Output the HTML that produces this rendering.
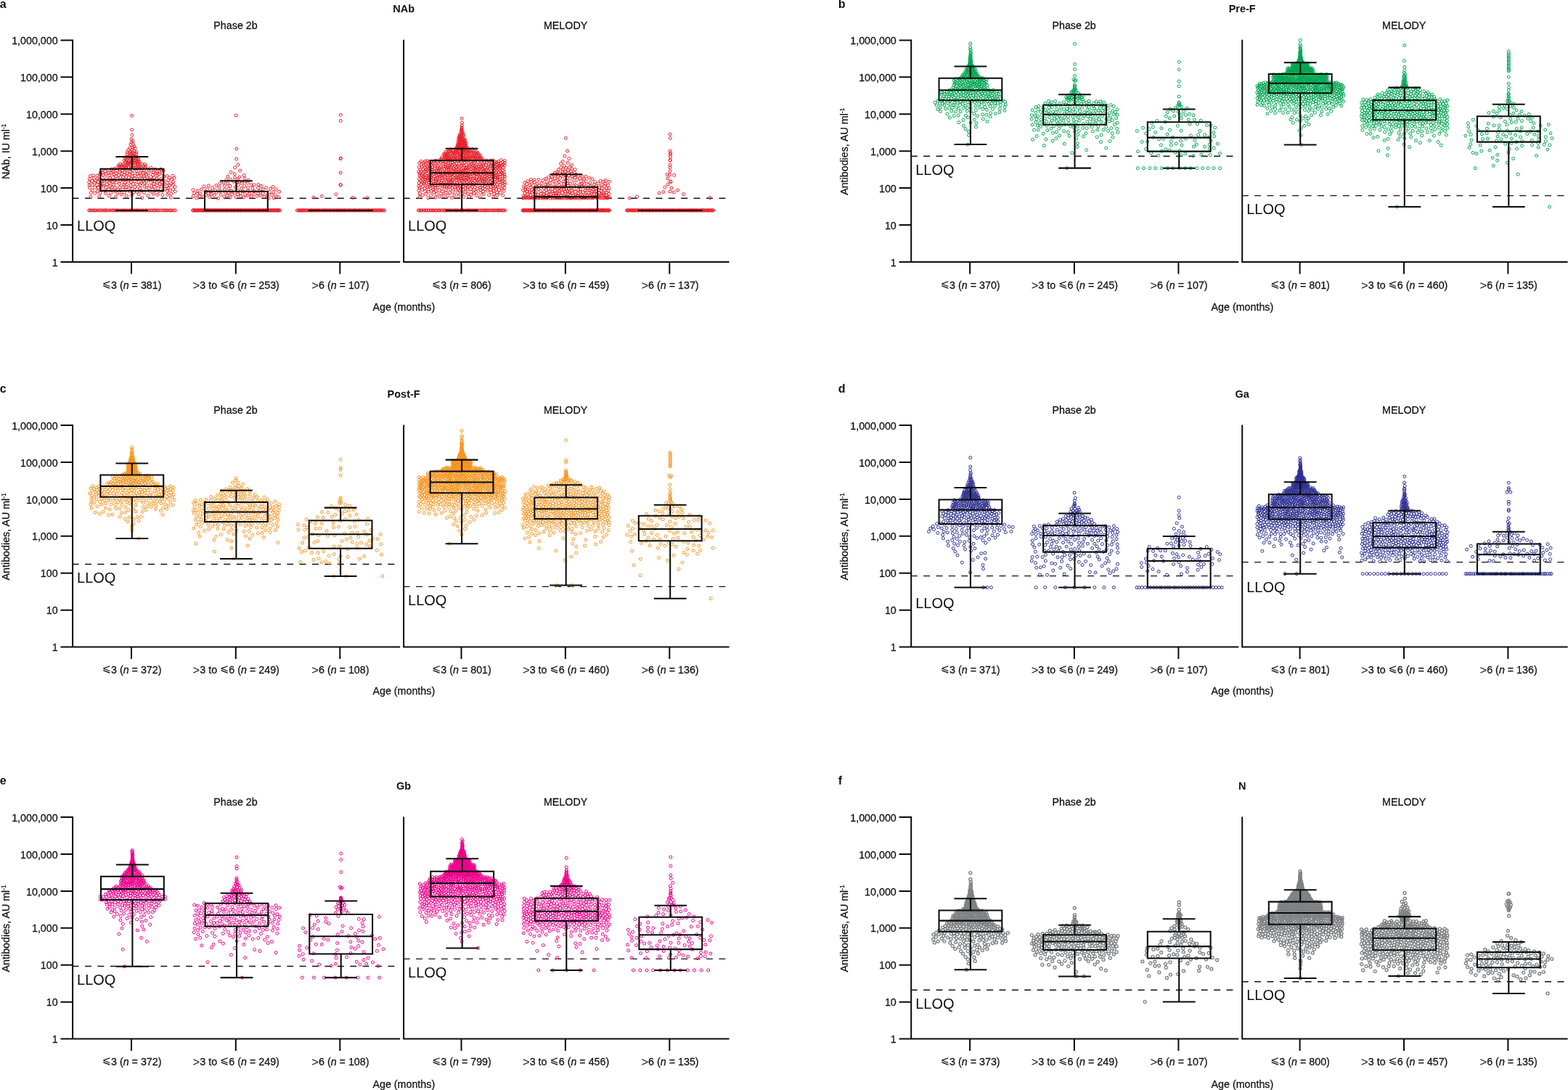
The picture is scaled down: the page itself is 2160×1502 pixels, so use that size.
<!DOCTYPE html>
<html lang="en">
<head>
<meta charset="utf-8">
<title>Antibody levels by age group: Phase 2b and MELODY</title>
<style>
html,body{margin:0;padding:0;background:#fff}
body{width:2160px;height:1502px;overflow:hidden}
svg{display:block}
text{font-family:"Liberation Sans","DejaVu Sans",sans-serif;font-size:14.3px;fill:#111;stroke:#111;stroke-width:.25px}
.ax{stroke:#0a0a0a;stroke-width:2.0;fill:none}
.bx{stroke:#0a0a0a;stroke-width:2.05;fill:none}
.dl{stroke:#111;stroke-width:1.4;stroke-dasharray:9 8.39;fill:none}
.p{fill:none;stroke:none}
.le{font-family:"DejaVu Sans","Liberation Sans",sans-serif;font-size:14.6px;stroke:none}
.gt{font-size:16.6px;stroke:none}
.su{font-size:8.3px}
.b{stroke:none}
</style>
</head>
<body>
<svg xmlns="http://www.w3.org/2000/svg" width="2160" height="1502" viewBox="0 0 2160 1502">
<rect width="2160" height="1502" fill="#fff"/>
<defs>
<marker id="ma" markerUnits="userSpaceOnUse" markerWidth="7" markerHeight="7" refX="3.5" refY="3.5"><circle cx="3.5" cy="3.5" r="2.0" fill="none" stroke="#e8202a" stroke-width="1.0"/></marker>
<marker id="mb" markerUnits="userSpaceOnUse" markerWidth="7" markerHeight="7" refX="3.5" refY="3.5"><circle cx="3.5" cy="3.5" r="2.0" fill="none" stroke="#00a651" stroke-width="1.0"/></marker>
<marker id="mc" markerUnits="userSpaceOnUse" markerWidth="7" markerHeight="7" refX="3.5" refY="3.5"><circle cx="3.5" cy="3.5" r="2.0" fill="none" stroke="#f7941d" stroke-width="1.0"/></marker>
<marker id="md" markerUnits="userSpaceOnUse" markerWidth="7" markerHeight="7" refX="3.5" refY="3.5"><circle cx="3.5" cy="3.5" r="2.0" fill="none" stroke="#2e3192" stroke-width="1.0"/></marker>
<marker id="me" markerUnits="userSpaceOnUse" markerWidth="7" markerHeight="7" refX="3.5" refY="3.5"><circle cx="3.5" cy="3.5" r="2.0" fill="none" stroke="#ec008c" stroke-width="1.0"/></marker>
<marker id="mf" markerUnits="userSpaceOnUse" markerWidth="7" markerHeight="7" refX="3.5" refY="3.5"><circle cx="3.5" cy="3.5" r="2.0" fill="none" stroke="#808285" stroke-width="1.4"/></marker>
</defs>
<g id="panel-a">
<text transform="translate(-0.3 10.6)" style="font-weight:bold;font-size:16px" class="b">a</text>
<text transform="translate(556.1 17.1) scale(1 1.045)" text-anchor="middle" style="font-weight:bold;font-size:14.5px" class="b">NAb</text>
<text transform="translate(324.5 39.7) scale(1 1.045)" text-anchor="middle">Phase 2b</text>
<text transform="translate(779.1 39.7) scale(1 1.045)" text-anchor="middle">MELODY</text>
<text transform="translate(12.9 208.8) rotate(-90) scale(1 1.045)" text-anchor="middle">NAb, IU ml<tspan class="su" dy="-4.8">-1</tspan></text>
<path class="dl" d="M99.6 273.3H551.1"/>
<text transform="translate(106.1 318) scale(1 1.045)" style="font-size:20px" class="b">LLOQ</text>
<path class="dl" d="M555.6 273.3H1002.1"/>
<text transform="translate(562.1 318) scale(1 1.045)" style="font-size:20px" class="b">LLOQ</text>
<polyline class="p" marker-start="url(#ma)" marker-mid="url(#ma)" marker-end="url(#ma)" points="193,259.6 216.4,251.2 133.7,254.5 211.2,237.7 174.1,258 182.5,260.1 223.7,289.9 238.4,260.8 157.8,263.2 173.7,289.9 171.4,265.3 150.7,241.3 191.7,289.9 230.3,242.5 180.5,222.6 214.3,239 187.5,230.1 223.7,238.4 181.8,268.7 182.9,220.3 177.5,222.2 194.6,241.2 142.4,256 182,186 208,289.9 203.8,269.6 131.7,289.9 169.7,247.6 189.5,239.3 171,231.9 189.3,228.3 221.7,246.6 230.9,268.4 240.1,245.3 165.9,248.9 195.1,246.3 186.2,289.9 217.1,289.9 156.9,240 153.5,238.1 126.9,249.3 151.3,245.5 182.5,210 199.8,230.8 143.7,248.8 169.8,289.9 185,201.7 237.1,289.9 165.8,244.4 147.5,289.9 171.3,241 179.3,233 156.3,254.4 219,263.6 176.4,218.4 128.4,241.8 140.2,244.4 124.4,242.5 182.2,242.8 163.2,228.2 168.9,234.9 193.5,255.3 185.7,242.1 188,236.1 191.3,224.4 231.8,259 188.1,289.9 230.9,289.9 190,217.5 145.6,266.5 157.6,248.3 186,204.4 235.6,253.1 171.7,289.9 195.6,272.6 216.7,268.3 187.2,215.5 174.4,270.2 233.6,289.9 212.3,257.1 235.3,272 178.9,204 174.8,223.2 154.1,258.1 157.8,289.9 140.3,234 218.9,289.9 181.7,218.4 200.6,228.7 209.9,261.1 138,265.9 209.9,248.1 178.4,210.9 178.6,214.1 141.8,253.7 160.3,251.5 193.1,289.9 172,237.8 177.7,226.5 194.6,235 182,289.9 135.2,258.6 185.6,249.6 180.9,212.1 176.7,224.2 199.6,245.9 193.4,238.5 227.8,289.9 124,289.9 190.4,222.6 241.2,263.8 183.7,216.7 187.6,212.3 150.3,270 181.2,196.2 149.5,238.2 125.2,265.8 136.7,270.9 181.2,230.6 135,250.6 187.9,209.5 154.5,289.9 183,234.3 188.8,254.5 191.3,230 193.7,229.6 235.9,267 188.5,222.9 239.4,289.9 130.7,266.2 189.3,289.9 178.8,216.8 208.3,235 142.2,241.1 145.9,258.4 130.1,289.9 133.9,242.1 127.3,262.1 167.5,239.4 199,256.9 219.1,249.1 192.2,227.2 234.8,289.9 180,255.6 177.1,230.4 165.2,233.7 196.4,232.1 182.4,225.4 128.1,289.9 180.6,245.9 203.6,289.9 179.8,219.6 217.8,259.4 205,259.4 169.5,230.3 159.3,271.5 158,232.4 176.8,206.5 154.9,250.5 222.2,257.2 123.4,246.7 240.9,257.6 180,228.2 201.3,289.9 162.6,261.6 154.3,262 144.9,236.3 207.6,243.8 174.9,228.4 230.6,263.5 188.5,260.5 191.1,242.9 238.2,242.3 152.3,289.9 182.8,214 145.7,289.9 175.4,289.9 212,289.9 189.3,246.8 183.3,253.5 221.4,233.2 181.2,191.6 213.8,262.5 188.7,264.3 179.9,199.3 185.9,227.7 182.9,203.5 137,247.5 167.7,227.7 210.7,240.8 161.7,289.9 147.2,254 138.6,256.3 127.5,254.6 161.8,266.5 190.6,219.6 134.7,245.9 178.2,289.9 201.8,240.5 223.8,268.7 144.4,289.9 208.6,256.4 178.8,263.8 198.4,234.9 162.7,230.4 130.7,258 175.4,212.7 195.8,226.3 134.2,263.1 197.3,238.9 146.3,245.3 124.8,271.4 155.9,289.9 178.9,225 215,289.9 171.3,221.2 236.6,247.3 184.7,232 175.4,209.9 194.7,262.8 187.6,217.2 138.7,237.5 184.6,211.2 187.8,219.3 197.6,228.9 181.7,178.9 123.5,258.8 123.2,255 178.2,240.4 150.7,252.1 122.7,289.9 153.8,233.1 177.7,244.6 172.9,216.6 169.4,244.2 207,264 192.3,222.7 189.4,225.2 219.1,240.3 147,249.3 178.1,259.3 202.6,255.2 149.9,234.7 174.8,253.9 136.3,289.9 225.6,248.5 192.8,231.8 161.7,246.3 184.3,264.9 170.7,228.7 197.3,289.9 144.7,262.7 163.6,241.1 137.8,239.9 179.8,208.9 238.8,250.9 186.3,224.4 169.9,258.1 160.1,289.9 186.7,221.8 175.1,225.4 170.2,254.2 173.9,233.3 198.5,265.5 204,233.3 173.1,261.3 185.4,245.9 163.4,289.9 191.3,267.7 212.2,253.6 205.5,247.6 138.7,253.1 207.9,231.3 216.2,246.4 211.3,267 131.6,249 159.7,242.8 225.7,253.7 200.3,238 175.1,238.7 191.3,250.6 153,248.1 183.9,289.9 183.5,198.6 129.4,245.6 149.7,289.9 238.5,254.5 221.7,289.9 185.1,208.3 177.6,248.8 184.7,214.9 196,289.9 204.7,238.7 219.9,253.6 152.7,265.8 184.8,222.4 165,258.4 160,238.9 223.8,263 167.3,268.2 126,289.9 213.2,249.9 164.8,229.7 201.8,249.5 183,194.2 174.4,220.3 180.2,250.6 164.9,237.4 139.8,289.9 181.1,215.9 183.3,229 198.7,252.2 225.7,289.9 168,289.9 219.4,236 179.7,289.9 173.6,231.1 172.4,251.8 130.4,251.7 231.8,248.4 199.6,226.5 209.7,289.9 233.6,255.4 158.9,258.5 181.6,206.5 172.5,223.3 167.4,230.6 194.6,252.2 189,232.3 216.1,236.6 216.8,241.7 185.8,257.6 197.6,249.5 140.3,249 205.6,289.9 151.4,256.5 207.8,251.3 138.4,289.9 122.8,251 212.1,244.6 241.5,289.9 198.1,242.9 225.2,234.8 182.6,239 165.2,226 229,289.9 134.1,289.9 175.9,216 169.5,226.3 201.6,261.3 234.3,262.1 213.3,289.9 225.6,242.9 155.7,236.5 230.3,251.6 202.6,244.3 139.3,261.3 173.9,247.6 172.3,218.5 155.7,244.4 173.9,243.7 161.1,235.1 166.1,262.8 165.6,289.9 230.2,256.7 173,227.6 141.4,237.9 185,218 216.1,255.7 213.8,233.3 178.7,236.4 181.6,159.3 182.7,223.3 233.1,244.7 223.1,251.3 227.4,260 142.3,289.9 149.5,261.1 146.1,239.7 200.2,289.9 164.6,253.4"/>
<polyline class="p" marker-start="url(#ma)" marker-mid="url(#ma)" marker-end="url(#ma)" points="384,271.7 281.2,256.9 372.5,289.9 341.6,289.9 306.7,289.9 350,254.8 353.3,289.9 269.3,289.9 368.2,269.4 350.2,289.9 367.8,289.9 310.6,289.9 309.8,289.9 376.5,264.5 342.9,289.9 308.1,251.4 347.8,259.4 317.9,237.4 339.9,289.9 287,266.4 280.3,289.9 291.7,289.9 321,289.9 337.2,246 382.6,289.9 287.3,289.9 335.4,272 378.2,289.9 362,261 292.2,289.9 312.2,289.9 377.2,272.7 327,246.7 295.2,269.2 370.1,273.3 317.7,289.9 326,289.9 302.7,289.9 317.2,272.1 301.7,289.9 299.6,289.9 332.9,289.9 342.6,289.9 349.6,267.4 324.6,258 327.2,289.9 272.6,289.9 362.8,289.9 323.9,289.9 329.6,250 325.3,159 331.4,270.2 330,289.9 325.8,205 283.6,268.9 308.5,289.9 359.5,289.9 318.5,289.9 328.3,255 341.5,258.5 296.5,289.9 313.7,253 297.1,289.9 376.3,289.9 318.9,289.9 355.5,266.7 275.9,289.9 295.4,289.9 313.9,243 336.7,256.5 336.8,289.9 294,289.9 326,251.3 300.4,273.3 332.5,259.4 372.4,289.9 371.1,289.9 363.8,289.9 315,265.9 270.8,289.9 299.9,289.9 285.4,260.7 313.4,289.9 297.9,255.5 285.4,289.9 319.6,267.7 266.3,270.3 313.4,289.9 323.2,239.9 378.4,289.9 308.9,271.1 336.2,241.5 279,289.9 376.2,257.4 311.1,289.9 346.5,270.8 320.3,289.9 322.8,289.9 325.2,271.5 289.5,289.9 315,259.9 331.3,266.3 307.6,289.9 357.3,289.9 277.6,289.9 325.3,289.9 366.3,289.9 351.9,289.9 272.2,262.8 346.3,254.7 301.9,258.1 365.3,289.9 280.2,271.4 273.4,289.9 374.1,268.3 343.5,267 354.4,270.2 346.6,289.9 270.8,272.7 355.5,259 327.4,262.4 288.7,271.3 358.4,289.9 331.5,289.9 381.8,289.9 268.2,289.9 280.9,289.9 267.5,266.2 368.5,289.9 337.1,250.2 303.2,263.2 328,289.9 312,248 380.9,289.9 276.5,289.9 372.5,260.1 350.3,263.6 284.2,289.9 385.8,289.9 362.9,289.9 271.4,289.9 361.7,289.9 268.3,289.9 361.1,289.9 322.9,289.9 275,270.7 304.9,289.9 355.8,254.6 273.3,289.9 380.4,260.9 327.6,267.7 376.9,289.9 363.8,271.1 342.4,248.5 337.7,267.9 374.6,289.9 351.9,289.9 369,289.9 341.2,252.2 285.3,289.9 334.9,263.7 303.1,253 275.8,266.6 290.5,263.7 291.2,289.9 384.7,264.2 323.4,244.8 344.2,289.9 340.1,289.9 321.6,289.9 265.8,289.9 338.3,289.9 305.1,289.9 384.1,289.9 282.8,264 325.7,219.1 332.3,289.9 345.2,289.9 338.3,289.9 323.4,265.5 274.9,289.9 384,289.9 298,265.4 303.6,289.9 355.7,289.9 358.7,289.9 281.2,289.9 333.9,289.9 286.3,289.9 362.3,266.4 288.8,289.9 344.4,289.9 335.6,289.9 370.5,264.9 317.1,256.3 293.7,289.9 382.1,289.9 348.8,289.9 309.5,256 318.9,263 350,289.9 335.8,289.9 354.5,289.9 282.5,289.9 316.8,289.9 366.5,258.6 302,289.9 297.7,289.9 375.5,289.9 360.1,256.3 373.2,289.9 309.4,261 327.9,226.9 315.4,289.9 292.6,258.7 323.7,230.8 291.3,267.4 321.7,250.2 333,252.3 328.6,289.9 310.5,265.2 379.9,289.9 358.9,269.2 296.5,261.9 331.5,289.9 379.8,269 317.5,247.4 348.5,289.9 304,268.3 355.2,289.9 266.4,289.9 330,244 306.5,289.9 287.4,255.8 314.7,289.9 347.4,289.9 369.8,289.9 313,269.6 329.1,289.9 365.9,289.9 356.8,289.9 278.3,289.9 288.4,289.9 283.7,289.9 341.2,269.8 277.5,260.9 265.9,261.6 357.5,263.2 298.2,289.9 266,289.9 271.8,267.1 330.7,235.1 341.3,262.9"/>
<polyline class="p" marker-start="url(#ma)" marker-mid="url(#ma)" marker-end="url(#ma)" points="490.5,289.9 504.5,289.9 433.3,289.9 460.4,289.9 516,289.9 471.6,289.9 431.8,272 500.2,289.9 429.3,289.9 418,289.9 430.6,289.9 447.9,289.9 414.2,289.9 469.4,158.2 477.5,289.9 450.8,289.9 463.2,289.9 479.4,289.9 522.1,289.9 457.9,289.9 464.1,289.9 426.3,289.9 486.1,289.9 481.1,289.9 440.6,289.9 529.5,289.9 489.2,289.9 469.1,238 514.6,289.9 427.5,289.9 511.4,289.9 461.7,289.9 503.7,289.9 436.9,289.9 487.9,289.9 521.7,289.9 486.1,272.3 509.4,289.9 432.4,289.9 525.3,289.9 518.4,289.9 517.8,289.9 416.1,289.9 475,289.9 422.9,289.9 483.9,289.9 498.9,289.9 466.5,289.9 444.2,289.9 445.2,289.9 428.7,289.9 482.9,289.9 435.2,289.9 514.2,289.9 528.2,289.9 452.6,289.9 526.2,289.9 508.3,289.9 424.9,289.9 507.1,289.9 493.3,289.9 506.3,289.9 491.5,289.9 467.6,289.9 505.9,272.6 413.3,289.9 454.6,289.9 469,218.6 469.3,218 416.5,289.9 442.7,289.9 495.6,289.9 487.5,289.9 502.3,289.9 495,289.9 496.6,289.9 468.9,254.6 469.3,255.2 520.1,289.9 500.6,289.9 469.4,289.9 454.3,289.9 465.4,289.9 419.3,289.9 473.4,289.9 476.8,289.9 474.6,289.9 411.1,289.9 470,289.9 462.9,267.8 481.5,289.9 421.9,289.9 421.1,289.9 439.4,289.9 435.7,289.9 459,289.9 443.4,270.4 438.3,289.9 448.4,289.9 445.9,289.9 469.2,166.4 456.1,289.9 523.6,289.9 409.2,289.9 411.6,289.9 450,289.9 512.4,289.9"/>
<polyline class="p" marker-start="url(#ma)" marker-mid="url(#ma)" marker-end="url(#ma)" points="653.7,245.7 652.9,207.8 622.7,289.9 685.1,244 600,272 594.3,252.2 612.9,242.9 648.3,217.8 689.2,230.4 620.3,245.1 696,289.9 641.8,204.9 633.9,256.8 619.8,248.3 644.7,289.9 599.6,228.7 615.4,234.9 674.2,289.9 666,246.2 626.7,228.5 637.9,289.9 642.2,209 671.6,254.8 649.9,225.5 609.5,289.9 599.2,225.3 677.9,238.3 642.9,250.9 614.1,265.6 631.9,193.1 597.9,243.1 614.9,289.9 640.8,194.8 627.4,211.3 695.1,221.6 614.5,218.7 661.6,258.8 599,255.8 632.5,249.6 576.3,289.9 650.4,257.1 661.7,261.6 626.1,241.7 596.5,289.9 631,222.5 655.6,289.9 670.4,220.9 585.9,247.4 582.6,245.2 584.2,236.4 648.4,246.7 659.9,216.7 619.2,257.7 626.7,289.9 672.8,226.1 585.5,222.3 645.6,209 625.9,217.3 689.5,225.7 670.6,244.5 639.5,190.6 661.6,220.2 647.7,251.4 638.3,213.4 646.5,205.6 596.8,249.7 583.7,224.1 623.3,258.7 686.3,229.3 688.2,228.2 688.5,254.6 598.9,236 577.9,271.4 625.7,245.3 648.3,209.3 666.6,233.8 647.5,239.8 682.4,228.7 593.7,248.2 642.9,212.2 608.2,251.7 593,239 619.9,227.5 632.7,211.9 614.2,214.3 583.9,228.2 621.2,218.8 663.4,244.9 593.7,269.1 623.7,212.1 636,179.4 627.7,261.2 632.7,187.2 582.9,239.4 672.9,247 636.5,169.1 608,218.9 675.3,221.1 639.4,247.7 649.3,229.2 633.1,214.3 590.9,289.9 616.8,237.9 643.7,230.3 658.5,232.6 585.2,250.7 678.9,221 599.9,246 653.7,217.1 611.9,233.2 660.9,226.5 677.8,242.8 604.8,262.1 633.5,185.3 648.9,233.3 662.4,215.8 588.6,229.9 614.7,223.5 684.5,226.8 663.1,228.7 656,208.8 635,195.5 659,218.7 643.1,289.9 685.1,231.2 628.7,243.4 640.6,203 588.7,221.7 648.7,222.8 641.8,221.4 686,289.9 586.5,226.6 663.9,238.4 638,231.6 652.5,242.3 610.1,239.6 633.3,220.9 654.4,210.5 646.6,218 670.4,289.9 634.9,204.3 591,248.6 661.3,236.3 635.4,219.2 647.5,289.9 682.8,244.6 637.6,240.2 579.2,249.6 620.7,205.8 633.7,194.6 677.5,223.9 589.4,225 649.1,268.5 664.7,226 616.4,230.9 643.9,216.3 645.6,214.6 577.7,224.6 637.5,201.2 636.5,254.2 632,270.1 620.3,251.9 638.9,271.2 661.1,249.8 579.8,254.4 660.9,233.2 640.2,208 630.7,289.9 621.6,241 654.6,289.9 605.9,220.4 600.9,250 638.9,202.4 625.5,209.8 686.9,251.5 614.8,231.8 581.6,250.7 626.3,222.7 624.4,207.3 634.5,205.8 637.5,195.6 692.7,269.1 677.2,227 657.4,289.9 605,289.9 676.8,235.3 618.2,251.2 654.8,234.4 585.7,244.9 692.9,234.3 619.4,236.2 677.6,289.9 684.9,268.9 679.8,271.1 636.4,172.6 641.9,248.3 673.6,268.9 590.2,260.7 680.1,259.8 617,269.8 695.2,253.8 661.5,265.8 665.6,220.6 577.9,289.9 688.8,289.9 619.5,265.7 591.3,257.4 608,289.9 665.2,241.8 670.2,238.8 636.6,181.2 614.8,211.9 644.6,210.6 656.4,269.5 623.7,239.9 613.3,212.4 666.8,253.7 580.8,229.4 638.8,289.9 628.5,245.8 673.2,239.9 612.1,214.4 642.5,254.7 605.7,243.6 662.3,230.8 658.1,210.4 646.1,244.6 596.2,225 653.2,212.9 619.6,221 664.1,218.8 654.2,258.1 595.9,230 655.9,246.8 666.3,227.9 619.3,289.9 644.4,207.2 646.6,212.4 582.5,247.7 647.3,255.9 638.6,244.7 654.1,248.8 636.6,289.9 608.9,216.5 641.9,235.4 678.5,251.6 591.9,254.7 641.8,241.7 594.8,227.3 607.6,230.2 639.6,237.6 695.2,227.8 605.1,246.6 586.9,267.5 628.1,207.2 631.2,204.4 630.7,244.7 645.5,289.9 640.6,197.1 691,259.7 640.5,211.7 636.3,177 692.5,256.5 631.7,247 680.8,266.8 629.4,251.9 617.9,208.1 636.4,202.5 613.5,245.9 614.2,238.1 632.3,208.3 659.4,212.2 587.9,242.3 648.9,264.3 638.9,192.8 675.4,246.2 637,246.6 635.1,259.4 686.7,225.1 611.3,269.9 617.4,247.2 677.5,248 691.2,246.6 638.7,234.4 605.5,270.9 644.2,246.6 610.5,229.4 625.1,289.9 637.5,208.4 577.4,246.7 632.5,188.8 659.2,289.9 630.4,213.3 589,234.6 639.6,218.2 634.1,243.5 634.9,223.3 654.2,232.2 638.5,203.8 666.4,239.9 625.5,233.1 612.6,220 694.7,258.5 681.7,222.7 655.7,239.4 641.1,264.7 656.7,211.9 614.9,258.6 585.7,263.5 682,250.9 653.3,253.5 604.5,226 616.9,228.2 694.7,240.4 591.7,227.2 694.1,263.2 695.3,243.4 665.8,236.2 631.8,218.7 615.2,250.8 675.9,250.7 672.2,289.9 632.7,205.1 641.3,230.7 636.1,228.1 668.3,242.9 616.6,219.7 682.7,233.1 603.1,251.8 631.9,199.7 620.2,238.5 577.8,258.9 686.7,222.5 626.1,269.2 603.1,258.2 587.6,289.9 642.2,206.9 621.1,233.1 642.9,238.2 619.5,208.8 637.5,182.3 630.1,201.7 656.9,219.9 626.2,251.1 632.7,234.9 579.8,244.3 623.9,214.6 635.5,238.4 649.2,214.4 681.3,225.2 692.6,289.9 667.8,250 648.3,236.8 656.9,229.9 586.6,289.9 636.8,193.5 605.2,249.2 690.8,228.3 643.1,244.2 621.5,215.7 625.5,226.1 633.4,203.7 676.9,254.2 635.3,208.7 653.5,219.1 666.2,267.5 582.5,256.6 671.7,231.7 644.3,257.3 607,224.1 622.2,247.5 638.6,210.4 690.7,289.9 674.4,242.8 601.3,241.7 651.3,228.2 681.5,247.6 613.7,248.3 636,192.6 588,248.7 588.3,257.9 623.3,244.3 638.6,216.7 617.2,233.2 607.4,266.7 662,240.4 626.3,212.9 679,240.5 609.8,236.1 653.9,229.7 616.8,215.7 585.9,255.7 578.3,239.1 639.5,241.6 634.6,236.5 685.4,246.2 603.4,236.9 623.9,218.1 637.1,191.1 679.3,256.9 684.1,223.7 653,266.1 645.3,253.4 577.1,251.9 620.6,225.4 603.8,234 646.5,230.9 647.1,207.8 661.3,289.9 649.7,219.7 636.5,204.5 690,251.3 616.4,212.6 631.3,206.4 681.5,239.5 675,232.1 634.7,246.4 595,242.1 658.9,252.4 636.8,242.3 597.3,246.7 600.9,289.9 684.6,265.5 681,230.6 680.5,242.2 633,262.8 622.3,272.4 587.1,252.5 590,289.9 609.4,256.3 585.1,259.4 600.1,253 641.3,216.8 646.1,234.3 694.9,246.7 636.8,266.7 595.4,236.5 640.6,192.8 648.1,243.5 665.1,259.4 621.9,210.1 690.8,237.9 583,289.9 614.6,261.9 578,241.9 592.5,242.3 579.6,289.9 673.9,237.3 667.5,256.9 619.6,242.2 661.8,218.1 692.1,239.5 595.8,257.8 679.3,289.9 626.1,219.4 596.6,261 591.8,229.9 635.2,181.5 613.5,240.1 634.2,197.2 596.1,234 618.4,289.9 652.2,237.4 672.5,229.4 577.1,262.3 671.7,262.9 644.1,218.5 631.7,190.5 620.7,254.5 674.1,252.9 625.1,237.9 668,260.8 689.2,265.6 627.4,209.1 657.7,260.2 637.7,187.2 650.5,205.6 623.3,253.1 680.8,289.9 602.7,228.8 682.4,289.9 671.5,249.7 639.5,253 609.8,222.8 627.3,215.1 671.8,258 670.6,241.6 645.2,239.3 680.5,235.1 657.8,216 605.7,289.9 628.3,238 684.8,254.3 599.5,258.1 637.9,257.4 679.7,227.3 625.3,235.7 581.4,261.6 597.6,265.3 692.5,242.8 634.8,188.2 628.7,230.3 695.3,251.5 578.9,233.6 616.6,209.6 628.3,254.6 630.7,210.9 665.6,263.9 641.9,214.5 635.1,193.1 580.2,222.4 600.4,263.2 623.8,255.9 633.6,200.6 657.3,240.5 632.6,195 600,289.9 675.7,289.9 621.5,289.9 685.5,240 594.6,255.6 648.9,289.9 638.5,185.8 590,272.6 644.3,267.1 602.6,223.4 598,222 690.3,220.6 639,228.4 669.3,289.9 630.7,200.4 651.8,231.5 675.7,261.3 651.1,289.9 632.9,231.1 633.9,190.2 593.1,236.3 658.1,234.8 640.1,205.3 636.6,200 609.8,253.6 590.4,241.6 641.4,232.7 650.7,252.1 680.1,263.1 633.6,216.9 614.2,209 651.4,246.3 590.3,264.1 629.6,289.9 598.5,231.7 633.4,192.2 688.9,243.6 692.5,223.2 606.6,254 644,232.8 639.2,250.1 631,260.3 623.5,223.8 591,232.4 607.6,241.3 635.7,178.4 660.5,243.8 695.2,224.7 663.5,223.2 605.5,231.7 691.9,249.3 616,241.3 644.6,241.8 582.2,268.7 603.5,255 592.3,246.4 631.3,202.6 631.9,254.9 647.6,215.9 635.2,199.6 602.7,231.9 664.6,249.8 659.6,241.9 577,256.4 644.1,261.1 618.9,230.9 683.7,260.4 603.9,241.6 646,271.2 667,223.2 675.9,228.6 641.5,200.4 638.2,199.8 641.9,202 664.7,255.8 687.4,261.6 634.3,210.8 689.3,235.4 621.9,207.8 656.4,251.4 645.8,220 668.2,237.2 661.2,255.4 629.1,202.8 660,247 629.3,204.9 649.3,249.4 583.9,252.6 597,253.2 638,205.7 656,264.2 614.4,216.9 590.3,243.9 658.1,223.3 651.8,234.9 577.3,230.4 635.4,213.1 679.9,244.9 630,241.1 637,217.5 637.2,225.9 629.9,219.4 653.9,214.9 684.5,289.9 626.9,257.9 660.8,214.3 655.2,227.2 585.1,240.7 579.9,236.2 609.7,264.1 688.4,247 589.2,246.2 645.9,249 594,223.3 640.3,199.5 655.9,254.9 651.8,215 593.6,233.1 617,225.1 634.8,289.9 611.9,238 585.7,230.6 594.9,289.9 580.7,225.7 635.7,197.4 628.2,234.6 620.3,212.5 658.1,249.1 618.4,214.3 591.2,222.7 636.2,163.3 639.9,200.9 616.4,217.9 634.9,184 645.4,225.3 630.9,265.6 669.9,251.8 601.5,267.4 646.9,227.4 685.6,257.8 610.4,225.5 628.3,217.9 611.3,212 580.9,289.9 676.4,257.4 630.8,216 651.7,209.7 655.1,237.1 601,234.8 632.1,239.1 656.7,244.1 642,197.8 633.9,199.4 609.1,242.6 663.5,252.5 600.4,247.7 635.5,201.2 681.3,253.4 586.8,236.3 630.7,195.8 602.7,244.2 693.6,231.4 649.6,211.2 600.6,221.2 623.4,220.1 633.3,289.9 687.5,289.9 587.3,233.1 621.3,230.3 669.4,227.4 609,248.5 611.8,289.9 692.9,226.5 633.3,241.5 593.2,289.9 652.3,289.9 584.4,289.9 686.9,237.3 632.4,201.4 627.7,289.9 664.8,289.9 692.5,252.7 620.3,261.1 578.1,266.6 621.9,235.8 642.5,227.1 635.2,186.6 630.7,199 654,221.8 600.2,238.8 640.9,259 606.3,235.8 656.4,214.3 665.9,289.9 641.3,289.9 622.5,227.6 603.4,289.9 641.7,219.1 612.8,217 688.2,232.6 630.7,236.7 634.5,202.6 653.3,239.4 675.6,240.6 659.2,238 636.4,189.8 627.1,205.5 693.7,289.9 652.7,225.2 628.8,248.6 636.7,184.8 588.1,238.7 616.1,289.9 663,247.6 637.2,236.1 683.4,238 624.1,264.5 632.4,226.1 667.7,231.3 631,228.8 606.6,238.5 685.2,234.8 664.6,232.4 685,248.8 613,289.9 689.2,240.6 576.6,236.8 648.4,260.5 613.5,226.2 635.6,215.7 616.3,256.4 650.3,239.6 669.4,247 619.5,216.9 666.9,248 671,224 671.8,234.7 583.6,243 678.6,232 582.8,233.9 613.2,229.5 629.9,209.3 694.4,237.3 684.1,242 634,252.3 580.6,241.1 616.7,244.4 618.5,218.7 668.1,289.9 676.4,265.1 594.3,244.4 650.1,254.4 637.9,261.3 636.9,211.7 617,253.5 682.4,257 656.3,217.9 594.1,263.3 663,289.9 659.3,228.9 609,259.3 653,261.3 597.6,239.7 651.6,217.1 608.9,245.4 613.4,254.1 590.4,251.5 608.6,233.2 632.7,197.3 612.5,256.8 661.2,271.9 611.2,218.4 630.3,233 638.5,220.5 635.6,249.2 643,202.8 622.3,250.7 624.5,231.6 637.3,198.9 669.3,234.1 636,175 597.8,289.9 639,194.7 639.8,224.1 611.4,251.4 628.8,224.7 629.8,257 635.2,233.1 624.2,248.6 639,197.5"/>
<polyline class="p" marker-start="url(#ma)" marker-mid="url(#ma)" marker-end="url(#ma)" points="799.9,268 751.7,272.3 766.3,272.2 772.6,225.6 733.9,271.6 829.5,272.6 834.1,248.6 832.9,262.3 720.3,273.1 770.9,289.9 782.3,224.1 837.9,262.7 791.1,241.8 785.5,269.6 802.2,289.9 769.3,289.9 801.6,256.9 754,272.7 731,268.9 782,234.6 823.7,271.7 760.2,256.8 756.2,289.9 807,289.9 773.1,272.4 832.2,270.5 837.5,289.9 777.8,289.9 755.2,289.9 831.2,250.2 749.2,289.9 822.6,273.2 784.2,265 827.2,289.9 780.1,289.9 838.6,289.9 767.8,289.9 727.9,289.9 726.6,289.9 824.6,261.8 783.6,242.1 831,265.6 775.1,236.6 764.2,238 733.5,273.3 818.2,271.6 789.6,269.3 771,239.1 821.4,289.9 796,272.8 776.9,289.9 720.5,289.9 812.2,289.9 742,247.5 762.9,270 836.5,289.9 784.6,230.1 821.5,289.9 828.1,269.3 769.2,270.2 838.9,289.9 796.6,242.5 821.7,289.9 755.6,289.9 787.5,263 799.6,261.5 786.7,289.9 805.6,270 778.7,236.6 803.1,264.8 763.4,289.9 778.7,267.3 777,269.9 745.8,289.9 825.7,258.5 794.9,247.9 742.4,256.1 725.6,289.9 737.1,289.9 829.9,289.9 731.5,250.7 751.7,246.1 768.2,243 748.7,289.9 765.2,253.7 832.9,256.7 723.7,261 826,289.9 742.2,289.9 748.8,267.5 805.6,289.9 721.6,256.9 775.3,233.4 787.6,272 811.7,272 795.5,269.6 803,289.9 777.4,289.9 735.2,263.7 769.4,233.6 779.4,289.9 769.9,289.9 737.6,267.7 770.5,263.1 802.9,270.2 736.3,289.9 749.8,264 780.4,270.9 830.5,289.9 817.4,289.9 814.9,267.6 761.4,272.5 722.5,289.9 737.5,272.7 761.1,289.9 780.5,289.9 735.9,271.6 798.2,271.5 817.7,258.1 726.6,267.6 791.3,251.9 744.1,289.9 798.3,289.9 749.3,273.3 741.6,261 807.1,249.6 732.5,265.4 765.1,257.9 832.7,289.9 732.6,261.1 780.4,259.8 762.3,250.1 787.7,289.9 762.3,289.9 780,273.1 785.5,289.9 758.1,289.9 766.8,289.9 753.3,289.9 799.5,273.3 797.7,257.7 720.7,289.9 833.4,272.4 755.8,260.6 745.7,289.9 743.6,289.9 782.7,267.5 783.3,260.1 806.7,265.7 835.2,272.4 736,247.7 728.9,289.9 727.9,271 771.3,273.2 810.4,265.4 733.3,289.9 729.3,264.4 795.9,289.9 783.2,289.9 784.9,289.9 813.6,272.6 779.4,241.3 744.5,272.8 813.1,251.6 750.3,289.9 828.2,266.4 813.9,289.9 839,259.6 756.5,289.9 787.4,232.6 811.9,262.1 782.3,238.8 779.6,231.2 746.8,272.5 799.5,264.4 737.6,264.7 802.9,272.8 796.6,289.9 807.1,289.9 816,246.6 748,289.9 813.6,289.9 753.3,257.4 740.9,273.2 780.6,289.9 835,289.9 799.3,245.4 790.7,289.9 822.4,268 833.9,252.9 827.2,272.8 839.1,250.2 765.6,269.4 724.1,273 800.6,289.9 776.6,261.4 723.4,289.9 746.2,252.4 811.1,289.9 832.5,289.9 731.6,289.9 815.1,289.9 818.9,289.9 755.5,271 730.7,289.9 749.3,259.1 836.7,271.8 776.6,253.7 792.1,289.9 768.1,237.1 778.6,264 827.9,289.9 818.7,264.6 723.4,289.9 836.5,289.9 775.2,240 758.6,267.8 814.4,258.9 839.4,289.9 748.8,289.9 825.9,271.3 776,250 771.8,289.9 821,263.3 794.3,256.4 805,289.9 790.3,272.5 786.6,289.9 789.3,289.9 740,289.9 828.9,254.9 761.1,260.6 770.1,259 830.5,289.9 788.9,289.9 764,289.9 817.2,289.9 831.7,273.1 807.1,243.2 778.2,257.6 829.2,289.9 811.7,245.4 818.1,289.9 814.7,289.9 773.3,257.3 735.2,289.9 783.7,218.5 746.8,289.9 818.4,267.4 835.4,269 792.2,233.5 773.5,289.9 815.9,289.9 726.2,289.9 820.3,271.2 785.4,253 781.9,263.3 799.9,289.9 747.8,248.7 813,269.4 796.5,261.6 753,289.9 726.3,263.9 794.5,272.3 774.3,265.3 722.9,266.3 768.5,272.9 818.5,254.3 804.3,247.1 806,262.3 820.1,289.9 756.1,267.5 754.2,289.9 740.8,268 754.8,255.2 720.7,262.1 761.5,263.9 806,259 781.8,289.9 721.5,269.5 762.7,289.9 816.8,273.1 739,257.5 835.8,265.3 775.1,222.4 827.2,249.3 770,289.9 755.8,244.1 733.2,289.9 729.8,289.9 764.6,289.9 787.4,239.2 823.1,289.9 720.1,289.9 792.7,264.3 800.5,289.9 798.8,254.1 788.3,266 743.9,289.9 786.6,273.3 746.1,257.1 736.4,251 778,245.4 815.4,264 793.5,240.5 741.8,272.1 790.5,289.9 727.1,249.7 789.6,256.6 825.4,265.7 825.2,289.9 821,256.7 809.9,272.9 779.4,190.4 832,268.1 758.5,247.9 787.5,227.5 788.1,242.8 725.8,253.7 781.5,208.2 739.6,271.7 762,266.6 753.3,250.4 797.4,289.9 794.6,289.9 806.1,272.9 737.4,289.9 810,259.6 751.5,289.9 835.3,289.9 734.4,255.2 790.9,260.3 752.4,261.6 764,246 835.5,259.2 765.9,266.6 786.4,236.1 775.1,272.8 812,289.9 837.5,255.3 766.8,240.3 756.7,263.7 738.6,289.9 735.3,289.9 731.4,247.4 782.4,256.2 725.9,272.4 729.1,289.9 772.6,289.9 739.8,289.9 741.1,289.9 804.6,253.8 759.7,271.7 760.5,289.9 760,243.7 729.5,255.3 767.7,289.9 785.1,272.6 824.2,252.9 784.7,289.9 774.8,289.9 751.4,254.5 803.1,289.9 813.2,256.5 752.5,269.8 741.7,289.9 791.5,237.6 744.8,263.4 838.7,271.6 777.8,215 800.8,271.8 829.1,259.7 745.4,266.8 722.5,272.2 824.7,289.9 809.9,289.9 793.4,289.9 773.6,261.5 800.5,249.6 767.8,265 770.2,255.1 758.4,273.3 791.7,289.9 811.8,289.9 764.4,262.4 777.2,228.4 809.4,268.8 796.8,266.7 758.6,289.9 801.7,253.3 823.4,289.9 726.7,260.8 804.7,289.9 781.5,249.1 792.8,268.7 828.3,263.1 808.4,271.7 799.1,289.9 831.5,289.9 776.5,289.9 792.7,289.9 820.5,259.8 809.9,254.4 773.2,242.1 827.6,289.9 817.4,261.2 725.2,289.9 770.6,266.8 761,289.9 838.8,267 767.7,260.9 792.3,273 775,289.9 762.9,240.5 782.3,272.7 782,252.8 788.2,247.5 772.4,289.9 794.9,289.9 772.8,231.1 731.1,258.1 722.8,251.6 786.2,258.6 727.9,273 792.3,244.6 729.9,272.6 808.7,289.9 822.1,271.9 777.5,272.5 764.5,273.1 770.4,250.7 765.6,289.9 792.2,271.5 740.3,252.9 819.6,250.6 836.8,273.2 736.2,260.1 809.6,289.9 749.7,270.4 833.4,289.9 724.4,258 757.3,252.7 802.1,242.9 758.5,289.9 782.1,245.2 731.3,272.1 768.2,248.5 730.8,289.9 804,289.9 783.9,289.9 721.7,289.9 744.5,270.4 734.1,289.9 772.5,269.7 750.8,289.9 724.2,270.5 815.5,272.3 753.2,265.8 771.9,245"/>
<polyline class="p" marker-start="url(#ma)" marker-mid="url(#ma)" marker-end="url(#ma)" points="928.9,289.9 968,289.9 928.4,265 951.5,289.9 878.5,289.9 875,289.9 914,264.5 939,289.9 942.1,289.9 916.9,289.9 915.9,258 923,185 926.9,289.9 919.8,289.9 922.4,241 936.1,289.9 958.6,289.9 950.9,289.9 914.7,289.9 923.6,211 907.7,289.9 975.3,289.9 899.7,289.9 901.1,289.9 928.6,241.3 908.1,266 981.9,289.9 923.1,220.5 947.8,289.9 919.8,246 934.4,289.9 921.9,289.9 874.6,289.9 884,289.9 886.8,289.9 867.6,289.9 892.6,289.9 918,289.9 922.9,231 926.5,289.9 895.3,289.9 885.5,289.9 953.6,289.9 953.3,289.9 969.4,289.9 930.5,289.9 880.1,289.9 966.3,289.9 923.2,213 890.4,289.9 923,227 905.8,289.9 932,289.9 923.1,208 954.6,289.9 959.3,289.9 979.6,289.9 890.9,289.9 938.8,289.9 878.3,289.9 873.4,289.9 870.3,289.9 911.8,289.9 934.9,289.9 880.7,289.9 877.5,271 919.9,289.9 923.5,216 904.5,289.9 924.2,289.9 924.7,289.9 977.4,289.9 863.5,289.9 973.6,289.9 933.6,262 978,272.5 869,289.9 965.5,289.9 909.2,289.9 864.1,289.9 944.2,289.9 961.4,289.9 907.4,289.9 889.4,289.9 923.5,250 916.5,289.9 960.5,289.9 940.5,289.9 871.7,289.9 913,289.9 913.9,289.9 922.7,289.9 976.4,289.9 919,240.5 948.4,289.9 884.3,289.9 902.8,289.9 980.4,289.9 936.9,289.9 893.6,289.9 923,236 957.4,289.9 974.7,289.9 970.7,289.9 932.7,289.9 866,289.9 923.9,250.5 969,289.9 941.5,267.5 982.7,289.9 865.8,289.9 867.2,273 896.4,289.9 946.7,289.9 956.1,289.9 962.6,289.9 950,289.9 910,289.9 923.3,221 899.2,289.9 876.2,289.9 971.8,289.9 922.9,264 882.5,289.9 923.4,190.5 895.1,289.9 927.8,289.9 898.2,289.9 979.1,289.9 964.5,289.9 887.6,289.9 945.2,289.9 924.9,259 920.1,254 942.5,289.9 903.8,289.9 870.9,289.9"/>
<path class="ax" d="M83.5 55.4H100.1V361M83.5 310.1H100.1M83.5 259.1H100.1M83.5 208.2H100.1M83.5 157.3H100.1M83.5 106.3H100.1M83.5 361H551.2M556.1 54.8V361H1004.5M181 361V377.5M324.8 361V377.5M468.3 361V377.5M635.5 361V377.5M778.9 361V377.5M922.3 361V377.5"/>
<text transform="translate(79.7 366.6) scale(1 1.045)" text-anchor="end">1</text>
<text transform="translate(79.7 315.7) scale(1 1.045)" text-anchor="end">10</text>
<text transform="translate(79.7 264.7) scale(1 1.045)" text-anchor="end">100</text>
<text transform="translate(79.7 213.8) scale(1 1.045)" text-anchor="end">1,000</text>
<text transform="translate(79.7 162.9) scale(1 1.045)" text-anchor="end">10,000</text>
<text transform="translate(79.7 111.9) scale(1 1.045)" text-anchor="end">100,000</text>
<text transform="translate(79.7 61) scale(1 1.045)" text-anchor="end">1,000,000</text>
<path class="bx" d="M138.4 232.7H225.2V262.9H138.4ZM138.4 247.8H225.2M181.8 232.7V216M159.4 216H204.2M181.8 262.9V289.9M159.4 289.9H204.2M282 263.8H368.8V289.9H282ZM325.4 263.8V249.3M303 249.3H347.8M424.7 289.9H513.5M592.7 221.1H679.5V254H592.7ZM592.7 238.2H679.5M636.1 221.1V204.7M613.7 204.7H658.5M636.1 254V289.9M613.7 289.9H658.5M736.3 257.8H823.1V289.9H736.3ZM736.3 271.1H823.1M779.7 257.8V240.2M757.3 240.2H802.1M878.8 289.9H967.6"/>
<text transform="translate(181.6 397.8) scale(1 1.045)" text-anchor="middle"><tspan class="le" dy="-1.9">⩽</tspan><tspan dy="1.9">3 (<tspan font-style="italic">n</tspan> = 381)</tspan></text>
<text transform="translate(325.2 397.8) scale(1 1.045)" text-anchor="middle"><tspan class="gt" dy="0.9">&gt;</tspan><tspan dy="-0.9">3 to </tspan><tspan class="le" dy="-1.9">⩽</tspan><tspan dy="1.9">6 (<tspan font-style="italic">n</tspan> = 253)</tspan></text>
<text transform="translate(468.9 397.8) scale(1 1.045)" text-anchor="middle"><tspan class="gt" dy="0.9">&gt;</tspan><tspan dy="-0.9">6 (<tspan font-style="italic">n</tspan> = 107)</tspan></text>
<text transform="translate(635.9 397.8) scale(1 1.045)" text-anchor="middle"><tspan class="le" dy="-1.9">⩽</tspan><tspan dy="1.9">3 (<tspan font-style="italic">n</tspan> = 806)</tspan></text>
<text transform="translate(779.6 397.8) scale(1 1.045)" text-anchor="middle"><tspan class="gt" dy="0.9">&gt;</tspan><tspan dy="-0.9">3 to </tspan><tspan class="le" dy="-1.9">⩽</tspan><tspan dy="1.9">6 (<tspan font-style="italic">n</tspan> = 459)</tspan></text>
<text transform="translate(923 397.8) scale(1 1.045)" text-anchor="middle"><tspan class="gt" dy="0.9">&gt;</tspan><tspan dy="-0.9">6 (<tspan font-style="italic">n</tspan> = 137)</tspan></text>
<text transform="translate(556.3 428.3) scale(1 1.045)" text-anchor="middle">Age (months)</text>
</g>
<g id="panel-b">
<text transform="translate(1154.8 10.6)" style="font-weight:bold;font-size:16px" class="b">b</text>
<text transform="translate(1711.2 17.1) scale(1 1.045)" text-anchor="middle" style="font-weight:bold;font-size:14.5px" class="b">Pre-F</text>
<text transform="translate(1479.6 39.7) scale(1 1.045)" text-anchor="middle">Phase 2b</text>
<text transform="translate(1934.2 39.7) scale(1 1.045)" text-anchor="middle">MELODY</text>
<text transform="translate(1168 208.8) rotate(-90) scale(1 1.045)" text-anchor="middle">Antibodies, AU ml<tspan class="su" dy="-4.8">-1</tspan></text>
<path class="dl" d="M1254.7 215.3H1706.2"/>
<text transform="translate(1261.2 241) scale(1 1.045)" style="font-size:20px" class="b">LLOQ</text>
<path class="dl" d="M1710.7 269.6H2157.2"/>
<text transform="translate(1717.2 295) scale(1 1.045)" style="font-size:20px" class="b">LLOQ</text>
<polyline class="p" marker-start="url(#mb)" marker-mid="url(#mb)" marker-end="url(#mb)" points="1368.4,123.7 1377.1,133.1 1346.3,138.8 1356.2,117.8 1341,131.3 1331.3,120.1 1291.8,150.7 1334.1,120.4 1372.6,129.3 1341.2,102.5 1364.3,128.8 1335.2,125.6 1323.1,139.7 1336.2,114.6 1322.5,122.9 1333,107 1336,90.6 1315.2,137.8 1339.7,100.2 1360.1,139.5 1341.3,113.5 1337,169.1 1343.5,111.9 1332.5,148.5 1377,154.7 1356.9,147.4 1344.7,104.5 1373.1,125.9 1311.7,148.5 1359.9,167.3 1333,140.7 1326.3,143.4 1358.9,158.1 1341,94.7 1311.9,132.2 1301,129.2 1327.9,139.1 1325.8,113.8 1323.4,132.3 1328.2,123.7 1336,103.6 1337.7,96.5 1336.2,81.9 1324.9,105.9 1363.8,124.8 1310.4,135.6 1294.7,143.1 1305.6,142.1 1335.2,89 1333.8,128.1 1352.3,140.7 1315.4,115.4 1368,128.6 1343.5,118.5 1374.6,137 1329.1,108.8 1349.7,110.4 1337.7,121.2 1348.8,120.1 1337,77.1 1371.4,156.7 1338.2,93 1305,129.9 1331.8,122.7 1317.9,114.4 1326.1,103.3 1328.4,135.4 1343.2,102.3 1331.5,108.9 1335.8,111.6 1327.3,126.9 1360.2,124.8 1365.9,126.5 1361.9,143.3 1313.6,125 1318.5,136.8 1355.6,143.7 1330,145.5 1344.4,151.6 1320.1,130.1 1338.2,102.5 1338.7,111.8 1345.8,106.4 1378.5,144.8 1344.9,170 1353.4,128.7 1337,128.6 1381.2,138.7 1343,122.4 1292.1,139.1 1319,142 1337.2,100.7 1331,101.1 1341.4,137 1353.2,117 1350.5,122.5 1317.4,126.8 1334.1,181.2 1341.6,116.5 1329.4,99.4 1342.3,165 1362,133.3 1337.6,87.4 1314.2,159.7 1348.9,106 1343.6,128.1 1310.7,153 1347.8,128.2 1365.9,142.3 1364.7,155.8 1338.5,90.4 1346.1,122 1336.4,117.4 1334.6,97.6 1339,134.9 1341.2,92.9 1334.1,93 1349.6,112.3 1346.3,113.8 1336.1,82.8 1337.9,85.2 1307.5,148.6 1333.8,99.4 1304,133.6 1295.5,153.4 1314.6,134.5 1354.5,131.8 1322.2,127.1 1370.9,142.2 1384.1,147.2 1309.1,143.5 1352.2,113.4 1339.6,97.1 1319.7,134.7 1359.8,117.3 1352.8,110.5 1333.4,104.3 1355.6,111.6 1313.1,120.8 1314,110.8 1336.8,87.3 1340.4,127.5 1334,134 1346.4,159.8 1308.3,162.1 1337.3,148.8 1345.8,101.2 1327.5,173.3 1366.3,131.6 1353.1,122 1297.1,130.2 1337.1,72.9 1364.3,146.3 1311.5,123.4 1369.8,126.8 1370.2,133.6 1316.6,153.8 1327.1,104.8 1328.1,111.4 1332.4,98.4 1341.1,109.4 1360.5,121.5 1332.8,131 1296.9,127.7 1320.9,108.4 1384.5,140.1 1324.7,135.4 1327.2,149.1 1320.1,158.9 1353.8,150.4 1375.8,129.8 1336.3,107.5 1337.2,73.4 1340.1,91.4 1357.5,115.4 1331.7,112.1 1377,126.4 1322.4,144.5 1336.9,77.1 1321.8,113.2 1337.4,82.6 1335.4,91.6 1319.8,124.7 1313.8,144.6 1307.4,132.8 1336.6,143.8 1360.6,131.1 1342.8,141 1347.8,134.7 1348.6,117.5 1320.9,168.6 1338.1,139.7 1323.8,107.6 1364.1,160.7 1314.7,141.9 1322,117.7 1350.6,136.7 1355.5,114.5 1348.4,108.3 1370.8,138.8 1309.4,127.3 1336.3,120 1351.7,119.5 1359.2,109.9 1337.2,89.5 1335.8,100.1 1354.5,110.2 1337.9,104.8 1378.9,140.3 1339.1,95.4 1323.2,153.7 1335,95.9 1327.1,165.3 1336.6,88.9 1358.7,133.4 1300.9,145.1 1336.9,131.7 1337.4,153.8 1336.2,79.6 1320.3,115.7 1351.4,133 1299.8,132.7 1302.4,149.8 1356,138.2 1346.3,118.9 1360.5,135.7 1316.4,108.7 1343.4,94.9 1348.7,143.2 1341.8,96.6 1329,103.9 1336.7,60 1313.7,117.1 1330.3,128.5 1330.4,159.3 1311.7,129.7 1339,114.8 1333.5,95.1 1337.5,79.8 1345.7,103.4 1333.2,199 1341.9,156.6 1336.8,84.9 1324.6,120.5 1338.3,89 1336.8,78 1361.6,127.7 1336.2,87 1348.5,124.5 1373.6,132.3 1338.3,109.2 1333.7,91.4 1287.9,141.3 1314.6,128.3 1364.2,135.7 1333.8,116.7 1330.1,132.7 1307.9,124 1334.9,105.8 1345.3,116.4 1336.8,93.2 1344.5,125.5 1332.1,136.8 1318.2,118.4 1339.5,106.8 1332.1,103.3 1331.6,125.9 1355.1,120.4 1336,123 1354.2,107.5 1367.4,134.3 1355.1,126.3 1371.7,135.3 1330.9,96.6 1330,177.7 1329.8,106.3 1335.9,87.6 1344.4,134.2 1336.6,98.5 1336.7,82.4 1319.4,110.7 1349.5,130.6 1330,114.9 1336.9,74.8 1344,146.1 1301.2,126.1 1344.5,98.3 1334.8,101.3 1337.8,91.2 1298.3,135.4 1353.5,157.7 1333.4,161.8 1329.4,121.4 1337.8,83.8 1306.6,136.3 1325.6,110.1 1374.3,142 1328.3,101.5 1358.5,123 1342.2,107 1320.5,149.6 1297.2,138.1 1326.9,116 1337.3,69.9 1345.5,109.3 1307.9,129.9 1358.6,112.8 1331.5,93.9 1325.1,123.9 1290.2,145.1 1338.7,117.7 1343.2,114.6 1355.3,123.5 1354.5,135.2 1330.6,117 1383.8,152.2 1367.5,150.3 1316.1,121.5 1344.3,131 1367.1,138.4 1326.8,118.5 1335.7,136.5 1351.8,125.9 1338.3,98.8 1339.8,103.8 1348.9,115.4 1302.4,136.5 1304.9,156.8 1339.4,93.1 1324.1,116 1327,130.6 1336.7,65 1334.5,186.3 1343.6,100.3 1359.4,151.4 1370.6,145.9 1317.3,147.8 1301.2,140 1347.3,111.3 1354.4,163.9 1316.5,123 1315.6,112.7 1318.9,122.4 1324.3,129.8 1320.7,120.2 1351.5,107.6 1316.3,131.4 1347.3,104.5 1298.2,142.9 1340,124.3 1349.5,147.8 1341.3,100.5 1341.1,104.7 1322.7,110.6 1333.6,113.3 1342.2,98.6 1304.4,127 1344.4,174.9 1332.2,152.9 1295.4,148 1385.3,143.7 1351.2,115.7 1309.1,138.9 1336.5,68.1 1356.8,128.8 1332.5,96.6 1326.5,122.3 1336,85.2 1341,119.5 1377.3,149.7"/>
<polyline class="p" marker-start="url(#mb)" marker-mid="url(#mb)" marker-end="url(#mb)" points="1481.1,130.3 1534.3,157.8 1513.5,152.2 1473.9,136.7 1477.2,130.1 1450.5,153.9 1480.5,111.5 1502.7,157.4 1473.8,134.3 1479.7,142.8 1495.7,183.8 1426.9,155.3 1484.2,142.2 1480.6,122 1532.7,152.6 1484.4,197.5 1478.8,127.5 1421.4,158.8 1480.4,146.4 1536.2,154.7 1459.9,142.5 1441.5,156.8 1478.5,150.8 1430.2,178.8 1480.2,119.6 1526.2,149.5 1461.7,172.8 1433.6,154.2 1471.8,165.5 1482.7,158.9 1520.2,178.8 1510.3,165.9 1437.1,184.3 1493.7,159.3 1506.3,162.2 1537.7,162.9 1466.8,171.5 1480.6,123.5 1466.3,198.2 1482.6,168.3 1503.1,152.6 1471,131.4 1517,167.6 1432.4,169.5 1439.4,162.9 1493.6,154.8 1481.1,154.6 1477.9,160.9 1452.6,163.5 1468.2,144.3 1481.3,134.8 1509.5,152.7 1487.6,135.4 1480.5,60.4 1461.2,163 1475.5,156.4 1469.8,150 1458.7,177.1 1487.1,166.2 1491.7,176.3 1532.3,165.7 1461.4,147.9 1496.8,145.9 1507.6,149.4 1479,165.6 1426,160.3 1480.8,118.8 1529.5,161.7 1482.3,124.3 1460.2,167.8 1448,177.2 1474.5,174.1 1433.5,174.4 1486.6,132.8 1483.6,132.4 1440.1,151.7 1486.3,180.2 1516.2,155.6 1492.7,140 1478.3,171 1473,187.2 1465.6,150.8 1473.5,146.8 1449.1,166 1535.4,171.5 1518.3,144.7 1456.8,171.7 1426.5,147.7 1491.4,137.1 1460,153 1424.5,179 1477.2,126.1 1473.8,151.7 1438.4,200.5 1530.9,176.6 1498.8,160.5 1459.5,186.9 1479.5,175.9 1440.9,192 1475.5,138 1524.3,145.2 1484.4,174.6 1491.7,131.9 1511.2,188.8 1515.8,139.8 1436.8,148.7 1469.4,135.9 1429.1,173 1539.8,182.3 1509.7,170.9 1506.8,142.4 1504.4,174.9 1488.5,157.7 1482.7,190.8 1505.6,167.6 1490.4,148.5 1482,110.5 1490.3,134.4 1517.1,186 1445.6,161.6 1444.9,148.1 1449,147.8 1516.5,195.6 1435.6,158.8 1523.9,164.2 1480.5,88.5 1480.5,95.4 1512.5,159.8 1476.8,210.8 1482,137.7 1520.7,141.1 1471.2,137.7 1422.2,151.7 1501.9,163.9 1466.3,156.4 1455.3,166.8 1507.3,156.5 1445.4,157.1 1469.7,231.6 1444.5,139.3 1439.9,142.5 1527.9,167.2 1484.8,185.5 1513.1,143.4 1454.9,190.6 1455.8,150.2 1528.6,155.8 1430,160.3 1532.3,183.7 1522.6,153.5 1430.8,146.3 1523.9,174.9 1479.1,136.9 1501.1,171.1 1497.7,167.6 1487.3,138.1 1529.1,194.5 1526.8,180.4 1484.9,135.4 1497.2,176.6 1496.7,141.2 1520.2,148.7 1485.1,148.8 1465.4,140.7 1523.1,170 1492.6,170.6 1465.6,180.6 1530.1,144.7 1442.7,179.5 1510.3,139.8 1421.2,164.1 1487.5,130.3 1489.5,143.4 1500.7,143.3 1422.6,192.3 1482.4,126.9 1434.1,164.7 1515.1,148.5 1446.1,144.1 1472.2,142.1 1485.2,161.8 1427.9,164.3 1539.2,169.2 1430.3,150.7 1471.3,182.1 1428.1,187.6 1465,166.5 1539,150.8 1538.5,177.1 1453.6,139.5 1518.4,160.2 1474.3,131.1 1480.5,180.8 1451.3,158.6 1454.5,144.8 1471.3,160.4 1484,202.4 1532.8,189.1 1441.6,167.6 1427,168.2 1479.8,125.4 1455.4,181.9 1500.1,147.5 1471.6,135 1475.6,127.6 1478.9,123.8 1468.7,133.8 1523.7,204.1 1459.7,159.9 1480.2,117 1514,164.1 1479,109.5 1472.7,170.4 1500.2,139.2 1498.2,156.3 1487.5,153.1 1444.9,153 1506,145.7 1470.1,154 1525.5,159.3 1492.3,187.9 1448.7,140.9 1505.5,181 1534.3,146.5 1479,132.9 1454.5,154.8 1476.2,135.2 1512.8,173.9 1437.9,170.9 1447.3,169.7 1450.1,194.1 1422.3,171.9 1519.1,152.9 1491.7,162.7 1480.5,104.4 1456.1,161.6 1442,173.3 1484.9,128.3 1497.9,151.8 1511.9,178.7 1450.4,183.2 1451.6,173.7 1496.6,206.7 1466.5,161.8 1539.3,158"/>
<polyline class="p" marker-start="url(#mb)" marker-mid="url(#mb)" marker-end="url(#mb)" points="1624.4,141.9 1633.5,158.5 1640,231.7 1619.1,210 1643.6,214.7 1567.5,208.7 1635.1,149.4 1624.2,133 1637.3,164.6 1583.1,177.9 1644.1,158.7 1615.4,189.2 1613.3,194.7 1649.3,170.8 1606.4,160.2 1606,205.7 1583.9,231.7 1666.2,199.2 1566.4,180.4 1605.1,167.9 1627.2,213.8 1591.7,231.7 1624.5,231.7 1645.9,193.4 1648.3,199.1 1664.3,231.7 1608.2,154.7 1667,213.5 1639.1,171 1585.7,210.9 1611.4,162.9 1578.8,184 1680.5,231.7 1599.4,199.9 1611.5,179 1578.5,205.3 1627.3,163.1 1644.4,202 1659.5,202.1 1638.6,157.2 1580.6,195.2 1672.1,231.7 1656.6,231.7 1648.9,231.7 1662.4,172.6 1667.9,172.7 1588.4,175.2 1650.6,185.7 1624.2,112 1611,207.1 1672.6,187.8 1600.4,231.7 1602.8,191.4 1640.3,186.8 1567.3,231.7 1627.4,146.8 1666.3,204.7 1599.9,176.6 1671.8,182.5 1627.5,157.9 1575.4,231.7 1591.7,182.5 1654.1,166.2 1611.9,150.3 1615.6,231.7 1622.4,173.4 1653,180.5 1620.4,197.9 1600.4,208.2 1654.9,213.1 1619.1,148.7 1628,200.1 1645.5,165.1 1659.7,185.8 1630.6,153.2 1573.2,195.4 1623.2,154.2 1616.4,153 1632.8,211.8 1632.5,231.7 1596.5,191.7 1624.2,95.8 1677.4,198.1 1673.7,175.8 1625.3,145 1624.2,118.7 1588.8,189.2 1613.4,199.9 1624,141 1626.6,194 1586.6,169.4 1633.1,191.1 1665.4,189.2 1672.2,204.1 1608.5,231.7 1624.2,85.3 1617.7,159.9 1668,193.9 1574.5,176.2 1623.6,144.2 1595.6,214.3 1622.6,145.7 1627,180.1 1680.4,211.4 1607.9,185 1593.7,166.5 1625,207.8"/>
<polyline class="p" marker-start="url(#mb)" marker-mid="url(#mb)" marker-end="url(#mb)" points="1825.6,120.7 1761.9,102.7 1792.4,176.2 1848.3,136.9 1839.7,115 1835.1,115.5 1798.1,92.9 1815,125 1791.9,85 1817,110.3 1758,103.2 1787.6,100.7 1812.6,139.8 1828.8,111.8 1793.5,127.7 1776.1,114.6 1798.4,146.4 1798.9,124.5 1796.2,87.1 1757.4,119.5 1753.7,138.7 1777.9,112.6 1814.8,127.1 1791.5,76.5 1799.2,101.4 1800.6,100.4 1795.8,104.9 1759.7,121.1 1825.4,118.4 1791.6,90.7 1777.5,99.9 1782.4,138.5 1754.7,131.7 1811.9,132.1 1805.8,130.4 1840.7,117.3 1752.5,147.9 1780.9,135.7 1774.3,116.9 1803,101 1777.7,121.2 1794.5,118.7 1810.5,105.2 1813.4,117.8 1772.4,136.4 1799.6,90.6 1790,180.2 1761.7,125.3 1765.5,116.6 1778,95.7 1785.6,100.7 1794.3,88 1809.4,114.4 1816.2,107.4 1837.5,134.5 1746.9,126.6 1830.3,128.6 1812.8,111.7 1810,137.3 1775.2,127.4 1791.4,68.6 1803.6,107.3 1828.3,122.2 1809.8,120.5 1818.4,102.6 1770,126 1821.5,138.2 1802.2,131.9 1779.3,111.2 1803.5,114.9 1840.3,122.2 1791.1,60.9 1754.4,102.5 1793.4,109.2 1787,109.5 1823.4,105.1 1787.9,123.5 1798.9,103.8 1768.1,118.8 1752.7,119.2 1808.6,108.8 1770.3,111.5 1753.6,112.4 1788.9,110.2 1790.8,95.4 1761.5,122.2 1814.9,116.4 1763.9,123.2 1828.2,104.1 1789.1,113.2 1820.4,104.7 1754.1,108.4 1798.6,160.2 1792.4,199.4 1791.4,67.7 1799.7,107.5 1820.3,130.2 1742.6,131.9 1778.7,151.6 1806.7,110 1812.2,110 1796.1,133.4 1816.7,105.4 1764.9,130.4 1789.7,115.5 1759.7,114.2 1843.9,117.8 1795.3,143.1 1790.9,75.4 1773.6,111.9 1745.8,140.4 1795.9,100.8 1771.5,108.2 1740.1,117.8 1793.6,104.8 1799.7,119.6 1812.1,128.1 1771.2,115.1 1792.4,84 1827.9,108.6 1791.1,73.9 1838.3,124.2 1805.3,125.9 1783.4,88.9 1802.9,117.3 1775.1,100.7 1800.3,113 1778.1,97.7 1828.1,124.8 1780.7,91.4 1789.4,118.5 1776.4,93.9 1809.2,130 1748.2,135.3 1764.8,125.5 1756.6,150.2 1745.1,124.1 1813.1,135.1 1806.4,106.3 1778.5,132.7 1744.3,129.5 1797.6,139.9 1748.6,119.8 1806.6,158.8 1767.4,136.1 1827.2,127.5 1801.3,95.4 1796.5,92.1 1826.8,150.1 1781,99.9 1778.8,116.9 1782.1,125.6 1755.2,104.5 1791,84.9 1832,130.8 1751.5,113.3 1783.8,91.2 1744.9,127.1 1827.2,102 1791.6,75.7 1801.2,142.7 1794.8,163.2 1802.1,125.8 1797.9,109.9 1825,132.8 1784.2,98.1 1769.2,107.2 1789.4,83.3 1796.4,89.4 1754.4,135.4 1732.6,140 1790.7,76.9 1742.7,116.8 1787.4,87.7 1782.7,111.1 1749.1,127.5 1790.1,85.5 1835.2,143.4 1791.5,73.1 1835.9,125.8 1736.1,122.4 1779.1,94.6 1759.3,108.6 1790.3,84.5 1788.1,128.1 1806.6,99.1 1815.8,132.7 1792,86.2 1755.5,128.5 1786.5,95.2 1793.6,106.6 1766.8,114 1748.2,130.5 1776.7,136.9 1802.5,163 1797,173.2 1794.3,101 1776.5,97.4 1780.8,87.7 1793.6,86.2 1789.2,84.9 1758.9,136.8 1796.7,122.4 1846.6,122.6 1791.4,80.6 1819.4,158.7 1829.7,138.2 1833.1,113.6 1745.2,122.1 1738.9,121.9 1838.3,121 1735.8,129.6 1772.4,126.6 1805.5,120.9 1790.6,105.8 1825.2,112 1848.5,123.8 1850.6,139.9 1786.6,164.9 1774.8,98 1762.7,111.4 1818.6,134.8 1776.5,130.3 1790.9,112.4 1775.2,124.4 1734.7,133.5 1779.6,123.7 1733,124.2 1778.6,100.9 1798.5,117.3 1809.2,133.8 1758.9,105.4 1843.4,123.3 1797.8,90.6 1762.3,116.2 1780.6,95.8 1791.6,99.9 1770.4,101.4 1820.1,107.6 1811.3,155 1785.2,90.4 1797.4,87.8 1850.6,119.5 1814.1,113.5 1797.6,105.3 1791.7,81.4 1809.7,124.8 1845.4,125 1815.9,114.3 1792.8,86 1749.5,137.8 1789.2,91.9 1789.9,82 1785.2,92 1792.5,82.6 1809.1,106.8 1794.8,99.7 1826.1,141.2 1812.5,104.6 1768.1,115.9 1779.8,98.9 1789.7,120.5 1820.4,132.7 1823.9,122.8 1739.3,129.9 1774.5,110.1 1791,75.9 1798.6,111.3 1808.1,101.7 1781.7,88.6 1847.4,119 1802.4,138.7 1747.7,117.4 1796.3,102.4 1781.4,101.2 1763.9,103.8 1781.1,105.2 1792.8,125.3 1803.8,109.5 1798.7,89.7 1741.5,128.1 1802,112.1 1775,106.7 1780.2,93 1819.9,111.7 1805.4,94.7 1767.7,132.7 1821.3,106.2 1760,110.7 1835.2,132.5 1831.1,126.7 1774.8,122 1789.6,100.8 1787.3,107.2 1791.4,110.6 1773.9,94 1808.5,96 1813.6,102.8 1808,123 1761.5,130.8 1769.7,128.4 1843.8,115.2 1795,95.8 1775.4,133.7 1788.2,85.4 1789.1,86 1794.6,103.5 1800.1,98.2 1771.8,112.8 1835.5,120.6 1831.9,118.6 1777.9,164.7 1790.9,86 1741.3,138.5 1791.4,71.3 1791.3,97 1756.9,145.1 1844.9,120.8 1762.9,152.2 1812.1,122.7 1779.9,128.9 1772,132.6 1804,95.5 1786,140 1800.1,115.3 1812.2,125.1 1833.6,124.7 1826.8,113.7 1779.8,100.6 1803.2,99.7 1815.6,102.6 1822,117 1790.5,81.1 1735.1,136.6 1830,116.5 1751.6,122 1820.2,109.8 1787.2,111.9 1748.3,144.2 1759.2,116.7 1805.8,116.6 1807.3,94.1 1765,106.6 1799.7,166.7 1779.2,114.5 1784.2,120 1732.6,121.2 1791.9,186.3 1768.5,122 1815.2,104.7 1792.7,95.5 1743.3,113.7 1796.4,99.4 1756.6,123 1800.6,111.2 1806.1,95.7 1762.5,137.6 1758.3,129.2 1775.7,108.7 1791.6,70.3 1781.1,97.5 1795.8,125 1839.6,137.3 1732.1,135.1 1818.1,108 1845.3,139.1 1751.5,133 1748.9,124.1 1768.2,143.7 1737.5,127.4 1782.7,118 1827,110.4 1844.6,131.4 1805.1,101.7 1794,91.8 1779.5,140 1832.5,121.1 1825,109.5 1820.7,153.8 1803.3,135.4 1814.4,108.8 1823,119.9 1765.6,104.7 1821.9,110.4 1790.7,92 1731.8,127.5 1747.9,113.6 1799.9,134.6 1838.1,130.8 1806.6,101 1846.4,116.6 1776.8,118.3 1760.8,112.8 1776.9,103.5 1797.4,151.5 1766.7,111.9 1795.3,110.4 1774.4,144.3 1756,117.1 1790.9,72.1 1785.3,87.7 1832.2,116 1762.3,109.4 1822.8,102.9 1826.2,107.4 1770.4,140.1 1791,66.1 1850.6,131.9 1792.3,92.9 1784.6,104.5 1825.9,105.8 1790.6,78.4 1792.2,113.9 1820.5,121.7 1789.4,107.8 1804.2,112.9 1802.6,152.8 1745.6,115.3 1768.6,104.8 1789.4,99.1 1788.9,148.2 1837.4,116.4 1773.2,98.9 1823.7,125.4 1791.9,80.2 1824.1,106.9 1803.7,111.3 1772.5,101.1 1773,109 1792,108.2 1758.5,107.1 1792,78.5 1815.4,150 1833.8,122.9 1786.9,115.9 1783.7,112.9 1783.5,93 1772.1,110.7 1816.7,119.8 1773.1,104.2 1783.6,150.1 1737,138.6 1839.4,128.3 1776.8,101.3 1798.9,91.8 1737.6,119.6 1797.1,94.9 1798.9,127.7 1765.5,120.7 1767.6,155.6 1794.1,113.3 1751.4,141.6 1737.6,144.7 1801.7,87.2 1799.2,88 1793,139.9 1804.1,105.5 1789.4,130.9 1779.3,97 1781.4,114.1 1791.4,63.8 1763.7,142.3 1782.1,90.2 1759.1,123.8 1793.2,99.3 1754.3,110.7 1794.4,121.2 1822.6,142.5 1761.1,106.8 1769.3,113.2 1821.7,135.5 1795.8,106.7 1753.3,125.9 1818,128 1829.8,120 1812.4,107.8 1736.5,132 1764.3,113.8 1784.8,110.8 1786.2,99 1803.4,97.2 1790,89.9 1754,121.3 1791.3,55.4 1806.1,111.8 1757.5,109.5 1788.5,90.1 1787.1,90.9 1842.7,135.9 1791.5,79.9 1788.1,94.5 1810.6,117.1 1837.7,114.2 1818.1,123 1816.4,117.3 1760.8,118.5 1802.4,93.7 1822.5,112 1827.7,116.2 1819.8,114.3 1784.3,108.5 1768.6,123.8 1804,148 1790.9,72.3 1835.2,139.9 1835.3,136.3 1734.9,117.5 1827.8,106.1 1787.7,98.1 1740,114.7 1820.4,102.2 1837.3,119.3 1783.8,101.3 1793,85 1789.4,95.3 1783.1,97.7 1765.2,147.7 1773.9,119.8 1786.4,93.5 1753.8,105.9 1787.4,86.1 1841.4,132.6 1796.8,120.3 1782.7,98.7 1754.2,123.7 1766.7,128.7 1797.8,98.4 1756,113.3 1806.4,97.4 1843.7,127.4 1840.3,145.1 1786.4,102.8 1737.1,124.4 1750.4,117.7 1739.3,141.9 1786.2,118 1786.6,89 1794.8,90.3 1794.3,85.2 1749.7,115.1 1788.8,136.2 1792.4,101.1 1801.6,101.9 1782.3,103.2 1806.7,103.8 1731.9,118.5 1768.4,102.6 1821.5,113.1 1794.8,97.8 1781.5,142.7 1766.1,102.4 1740.1,134.4 1804,123.5 1808.8,98.2 1782.8,87.3 1793.7,93.6 1847.9,145.9 1790.1,97.7 1787.9,154.4 1834.2,118.6 1789.8,125.8 1745.6,133.2 1777.9,107.3 1797.4,107.5 1771.2,120 1775.6,112.7 1793.4,116.3 1792.8,81.6 1812.8,143 1786.6,120.8 1793.4,131 1734,119.3 1807.5,151.3 1822.3,108.3 1773.9,100.7 1794.3,136.4 1830.7,142 1806.6,134.9 1849.9,121.8 1850.1,129.4 1785.2,123.3 1791,159.6 1791.5,73 1817.8,115.8 1767.3,126.3 1817.7,125.5 1790.4,80.2 1793.8,84.4 1802.9,103.5 1780.3,89.2 1823.5,113.6 1804.7,93.6 1801.5,91.3 1799.5,93 1811.5,115.2 1785.1,96 1767.3,110.6 1734.3,127.1 1801.3,109 1764.7,112 1781.6,110 1824.7,115 1762.5,105.2 1829,157.3 1792.8,111.8 1801.3,89.3 1758.3,140.5 1741.7,125.4 1817.9,104.4 1807.8,100.4 1841.6,119.8 1789,88.4 1788.6,86.7 1786.6,97.3 1828.1,118.7 1793.2,97.4 1742,120.3 1775.3,95.5 1800.5,105.6 1833.6,153.1 1798.7,100 1786.1,133.1 1785.2,136.3 1791.5,76.2 1819.1,105.5 1785.3,126.1 1767.3,106.2 1770.8,105.3 1807.5,113.8 1845.6,142.5 1751.6,130.1 1780.3,118.8 1809.9,112.2 1805.3,100.4 1800.8,96.7 1846.2,128.4 1756.7,106.3 1751.7,115.8 1814.5,111 1741.7,145.7 1775.6,99.7 1774.3,139.4 1757.7,125.7 1808.7,104.6 1782.3,92.1 1756.6,155.7 1754.3,114.5 1804.4,98.1 1815.5,112.5 1768.1,108.3 1790.6,109.3 1825.8,104 1772.5,129.7 1793.3,90.1 1772.9,106.3 1795.5,93.2 1848.7,116.9 1783,155.6 1831.3,149.1 1818,112.9 1836,123 1791.3,93.6 1782.7,127.8 1785.2,144.5 1801.9,97.9 1790.3,87.3 1776.7,98.3 1766.5,139.3 1836.7,147.8 1763.1,119.3 1751.2,126.7 1796.1,128.7 1789,102.3 1776.2,147 1790.9,80.1 1793.2,146.9 1829.9,114.2 1797.6,130.8 1803.2,128.9 1777.1,110.5 1816.1,130.3 1766.3,108.7 1820.2,126.4 1813.9,106.4 1817.3,145.5 1803.2,119.4 1811.9,147.5 1814.4,120.5 1829,130.9 1793.1,102.5 1764.2,109 1801.8,107.1 1782.7,95.9 1735.4,115.2 1795.5,108.5 1758.1,112.3 1757.6,114.8 1791,82.2 1808.2,111.4 1750.8,153 1778.4,126.9 1783.7,100.4 1825.3,129.6 1835.4,128.8 1770.7,150.4 1792,77.8 1810.2,101.2 1762.5,127.6 1781.7,94.1 1796.2,115 1821.3,123.4 1840.8,140.9 1791.4,98.3 1808.2,118.8 1781.3,169.2 1785.2,130.4 1825.2,136.1 1775.3,105.1 1779.9,161.6 1774.4,102.3 1845.3,135 1786.6,113.8 1745.9,156.6 1806,137.9 1770.7,117.6 1847.6,134.2 1800.9,93.5 1812.2,120.4 1783.7,106.1 1810.4,110 1804.9,143.2 1799.3,137.3 1792.4,80.8 1841.9,129.6 1816,122.6 1805.4,108.4 1811.7,112.8 1783.8,94.3 1783.4,115.3 1816.9,136.9 1774,155.1 1792.1,119.9 1841.3,113.8 1741.1,122.7 1789.3,82.5 1773.2,114 1823.1,128.4 1799.5,94.5 1779.8,102.5 1827.1,144.7 1771.9,123.5 1763.2,107.2 1808.9,140.8 1747.6,122.4 1796.4,97.4 1791.4,78 1764.8,134.9 1760.4,104.1 1796.8,112 1779.2,108.8 1801.5,92.8 1790.5,103.9 1788.5,104.8 1778.9,105.5 1802.8,171.5 1732.1,144.3 1780.5,112.4 1790.2,143.1 1816.7,141.6 1809.4,127.2 1759.5,133.2 1788.4,93 1819.8,118 1790.5,79.6 1769.4,109.5 1791.2,166.8 1791.6,122.8 1745.9,149.3 1791.1,83.1 1744.4,137.1 1821.3,148.3 1744.1,118.8 1773.7,96.1 1788.1,95.8 1791.5,88.2 1840.7,126 1798.3,96.4 1781.3,132.1 1756.5,111 1810.2,102.8 1801.3,122.9 1781.5,121.9 1733.1,130.5 1737.9,116.2 1781.5,107.6 1849.3,126.2 1847.6,130.1 1830.7,122.5 1829,134.5 1832.2,135.1 1790.8,134.2"/>
<polyline class="p" marker-start="url(#mb)" marker-mid="url(#mb)" marker-end="url(#mb)" points="1931,140.5 1916.2,155.3 1917.1,175.1 1925.4,127 1876.9,179.3 1889.5,140.5 1925.9,150.7 1985.7,167 1931.1,159.2 1924.4,285 1939.6,128.3 1975.3,154.9 1975.7,133.5 1936.6,117.1 1899,143 1989.8,172.9 1900.6,131.9 1944.8,136.3 1903.7,156.7 1942.6,183.9 1921.4,160.5 1953.3,122.5 1897.8,130.1 1951.8,144.5 1968.3,168.6 1947.2,152.7 1934.8,96.4 1900.3,156.1 1975.7,163.7 1933.5,119.5 1903.4,163.2 1935,118.7 1964.4,128.9 1879.5,164.4 1907.5,129.8 1931.2,148.3 1967,137.5 1919.9,157 1982.8,184.3 1876,165.5 1918.9,147.9 1907.7,181.9 1989.7,152.5 1892.7,138.3 1951.9,129.2 1892.3,169.8 1934.1,100.4 1876.4,153 1889.7,147.1 1934.7,62.5 1911.5,213.8 1937.6,118.8 1922.6,175.5 1943.4,129.7 1894.6,160.1 1942,141.9 1929.4,156.3 1960.6,142.6 1971.3,136.9 1960.8,161.4 1892,189.6 1883.5,163.5 1927.3,165.1 1922.4,149 1888.9,152.5 1929.6,128.4 1975.4,187.1 1933.9,145.9 1944.2,125.9 1899.3,166 1951.4,167.8 1877.9,136.9 1991.3,154.7 1939.3,155.4 1879.8,169.5 1875.5,148.5 1904,160.1 1925.4,154.3 1886.4,173.5 1993.9,176.3 1936.2,120 1983.6,136.7 1918.2,144.6 1923.7,139.6 1884.4,152.2 1939.7,124.7 1972.8,181 1965.5,132.4 1910.1,127.5 1965.8,154.8 1986.2,159.8 1907.1,161.6 1917.1,180.6 1938.3,167 1952,157.6 1942.8,145.7 1953.9,147.6 1926,161.6 1937.1,114.2 1889.8,158 1914.6,185 1946.2,157 1965.4,165.2 1909,163.6 1981.7,151.3 1971.8,141.6 1990,139.1 1943.1,164.8 1928.1,169.1 1939,145.9 1935.1,169.2 1912.1,204.5 1943,154.9 1975.8,140.9 1919.9,134.2 1908.5,148.9 1956.5,128.2 1937.8,139.5 1948.1,147.1 1959.6,132.6 1936.6,180.6 1985.1,155 1924,120.9 1931.3,135.3 1953.2,127.1 1986.3,170.4 1911.6,124.5 1903.1,135.5 1931.4,173.2 1952.2,154.6 1993.4,152.5 1895.5,173.2 1926.6,142.4 1991.2,146.3 1965,150.7 1908,170.2 1887.5,178.7 1958.6,158 1973.5,156.6 1949,155.9 1983.8,143.1 1929.1,178 1913.8,127.1 1974.2,169.1 1949,135.1 1934.1,184.8 1988.2,143.3 1876.7,173.7 1934,137.9 1896.3,168.7 1889.9,162.6 1993.4,166.1 1934.3,122.2 1934.3,153 1935.9,142.5 1990.9,180.4 1897.6,188.4 1940.5,161.1 1991.2,168.8 1907.7,136.3 1966.7,141.2 1963.5,143.2 1933.3,150.5 1889.4,167.4 1922.6,135.6 1941.6,202.6 1879.3,155.6 1897.4,137.2 1894.6,152.1 1965.1,147 1969.6,157.2 1895.7,144.6 1907.2,193.5 1992.3,185.8 1972.6,130.2 1875.8,141.5 1922.9,171.8 1878.8,148.1 1927.4,135.4 1948.3,159.8 1918.1,138.4 1934.6,104.6 1926.2,192.4 1972.4,133.8 1978.9,167.2 1898.1,162.7 1905.9,147.4 1979,148.6 1895,149.1 1908.4,145.1 1919.2,150.7 1933.5,109.8 1887.8,136.8 1924.1,168.5 1921.9,144.8 1934.8,161.6 1882.7,137.7 1936.8,164.2 1881.6,175.2 1903.9,128.4 1954.8,159.7 1928.2,152.7 1971.3,172.1 1906.3,133.2 1934.9,92.3 1949.7,174.6 1905.2,143.3 1941.3,138.4 1978,157.4 1916.8,125.6 1906.3,140.5 1911.7,146.7 1892.9,157.6 1898.4,150.8 1883.9,170.2 1923.7,163.4 1905.9,154.5 1883.1,148.2 1912.1,142.3 1976.9,159.8 1963.4,135.5 1910.5,133.5 1931.6,118.6 1934.1,198.8 1913.1,135.2 1969.2,130.4 1893.3,163.1 1937.8,135.4 1917.7,163 1975.8,173.1 1953.3,182.2 1912.4,178 1893.3,141.7 1935.4,108.4 1938.7,152.7 1933.6,105.8 1935.5,102.1 1908.2,155.4 1979.8,161.8 1956,170.3 1963.4,139.7 1994,138 1900.4,171.2 1914.7,138.6 1975.1,151.2 1915.2,148.4 1898.3,153.7 1942.1,133 1976.6,137.2 1964.8,160.8 1988.1,156.8 1971.2,176.5 1929.4,144.4 1926.9,173.6 1971.6,148.2 1945.6,139.9 1936.1,118.3 1900.8,179 1935.6,105.7 1925.6,130.1 1943.4,151.5 1915.9,141.7 1950.1,139.2 1919.7,165.6 1907.3,175.7 1984.1,149.9 1984.8,146.6 1985.4,152.4 1932.8,112.6 1943.8,188.9 1979.8,142.9 1901.9,152.7 1893.1,154.6 1960.1,170 1908.3,151.9 1891.7,150.2 1988.2,147.9 1934.5,110.7 1921.3,153.1 1992.4,142.7 1946.9,162.4 1981.3,146.2 1946.2,180.1 1993.8,161.3 1929.7,162.4 1923.7,156.7 1914.1,166.6 1933.5,156.2 1955,165 1989.9,160.4 1958.7,181 1987.6,175.8 1969.3,193.6 1934.3,130.6 1961.9,163.2 1890.7,173.8 1982.2,176 1877,145 1914.8,152.3 1979.2,139.1 1982.8,159.5 1920.8,124.2 1920.4,142.3 1880.6,151.7 1985.7,180.4 1920.9,130.9 1990.5,148.8 1914,171.2 1959.7,174.2 1885.8,138.9 1956.4,152.5 1949.6,131.9 1992.5,158.2 1985.2,200.2 1913.7,164 1902.9,173.7 1934.7,115 1935.5,174.3 1915.8,159.9 1879.8,158.7 1956.3,124.5 1915.5,133.2 1983.1,163.7 1945.2,148.7 1912.2,191.4 1927.1,140.6 1886.6,146.6 1989.9,163.7 1925.8,146.6 1958.4,140.1 1932.9,117.6 1931.6,168.4 1950.1,124.2 1911.9,154.4 1897.8,146.7 1887.1,155.5 1952.7,151.3 1940.4,150 1950.5,121.7 1931.5,120.1 1897.5,133.7 1941.8,168.6 1912.5,130.6 1981.6,171.4 1959.5,136.3 1916.6,128.6 1969.2,153.4 1927.1,183 1913,157.5 1898.9,207.8 1903.9,150.3 1973.1,159.4 1955.5,157.3 1940.3,177.2 1901.7,141.3 1876.4,157 1893.3,177.6 1993.9,171 1968.4,133.9 1952.8,134.9 1879,161.9 1897.9,158.3 1950.5,193.6 1882.3,166.6 1910.9,160.2 1886.1,149.6 1960.1,146.6 1967.7,144.8 1982.8,167.4 1875.5,160.4 1895.7,164.8 1960.6,154.5 1963.8,169.3 1976.7,144.9 1981,195.5 1944.4,160.6 1928.9,131.7 1888,184.2 1901.2,147.9 1882.5,156.2 1963.3,152.3 1956.9,162.1 1889,144.3 1957.3,149.2 1970,161 1929,187.8 1918.5,170.8 1964.9,176.8 1934.8,127.3 1951.5,162.5 1937.7,131.7 1921.9,127.7 1926.3,123.8 1895.8,140 1893.9,134.4 1956.5,196.7 1935.4,112.8 1938.9,121.4 1929.3,122.1 1961.9,157.8 1907.2,158.6 1906.8,166.7 1961.8,125.7 1945.6,132.5 1886.1,166.5 1901.7,169 1885,142 1917.9,122.1 1934.9,190.3 1932.5,115.1 1959.3,165.4 1978.2,151.8 1944.9,173.6 1881.6,144.9 1933.6,113.2 1946.4,123.3 1968.1,149.6 1971.3,164.7 1955.6,136.8 1935.7,116.9 1932.2,164.9 1946,166.6 1931.2,125 1948.9,165 1948,142.8 1900.4,138.9 1986,139.7 1967,127.4 1935.9,110.6 1958.7,186.8 1882.9,184.4 1966.4,182.3 1993.9,146.5 1972,151.5 1891.4,165.4 1977.1,177.8 1893,146.8 1934.6,117.1 1947.9,127.5 1980.7,155.1 1954.6,141.6 1954.9,177.1 1936.4,158.5 1934.5,83.9 1941.3,157.6 1927.4,158 1886,161.7 1913.9,145.3 1911.2,139 1884,158.2 1938.8,171.9 1954.7,131.9 1936.9,149.3 1971.6,144.8 1948.2,171.2 1880.6,141.1 1911.2,150.6 1957.5,143.5 1935,134.4 1961.7,150.1"/>
<polyline class="p" marker-start="url(#mb)" marker-mid="url(#mb)" marker-end="url(#mb)" points="2070.6,185.3 2129.3,188.7 2049.4,191 2135.9,183.6 2033.9,173.6 2051,155.6 2078.3,76.5 2096.1,175.9 2061.8,193.8 2088.9,195.6 2091.2,240.3 2075.8,171.9 2119.2,203.1 2076.2,150.1 2078.1,129 2063,188.1 2076.4,180 2071,148.9 2110.2,162 2078.2,115.3 2108.5,181.3 2078.3,124.3 2073.3,167.4 2080.1,141.2 2056.1,217.4 2080.6,146.2 2088.2,168.1 2082.3,168.6 2127.1,199.2 2034,211.6 2096.5,200.9 2078.3,89 2022.4,169.6 2119,197.3 2094.2,181 2029.3,165.2 2078,130.3 2024,203.4 2119.4,187.3 2096.5,166.8 2067.9,191.8 2078.3,94 2078.3,91.5 2078.3,79 2128.7,178.8 2096.7,194.6 2026.2,185.4 2027.1,193 2042.5,191.7 2082.2,190.8 2119.6,192.2 2084.9,156.2 2041.2,184.7 2133.3,171.6 2093.4,158.1 2129.5,194.6 2052,207.1 2065.3,178 2074.8,188 2116.5,214.5 2079.1,205.4 2066.9,161.8 2018.8,187 2122.1,173.2 2134.8,199.9 2062.6,221.2 2050.2,170.4 2131.9,206.1 2029.2,210.5 2076.7,139.5 2106.3,157.4 2025.7,198.6 2077.5,136.8 2096,153.5 2022.7,174.8 2079.9,158.3 2079.2,139.1 2065.2,172.9 2039.2,200.3 2080.4,183.9 2078.3,74 2076.5,224.2 2057.9,172.8 2103.8,184.5 2072.8,145.5 2118.9,181.1 2057.3,153.3 2089.1,151.8 2137.7,190.6 2065.5,152.3 2084.6,218.5 2108.6,166.9 2089.2,177.5 2061.9,156.4 2080.7,163.6 2048.1,183.6 2112.2,176 2078.3,106 2078.2,132.7 2113.8,185.3 2040.8,208.1 2085.1,148.5 2057.3,160.7 2082.2,197.2 2085,143.1 2078.5,135.1 2062.7,213.3 2104.7,163.3 2078.3,84 2094.5,188.9 2077.6,142.3 2077.8,210.3 2091,163.4 2078.3,96.5 2073.7,198.4 2057.3,228.4 2060,202.8 2023.6,180.7 2110.3,193.5 2112.7,169.7 2036.1,179.5 2063.6,182.6 2099.9,159.2 2065.4,147.3 2078.6,120.6 2089.5,204.9 2078.3,70.7 2032.2,231.7 2048.5,177.2 2110.6,200 2087.7,186 2078.3,86.5 2078.3,98 2078.3,81.5 2134.5,285"/>
<path class="ax" d="M1238.6 55.4H1255.2V361M1238.6 310.1H1255.2M1238.6 259.1H1255.2M1238.6 208.2H1255.2M1238.6 157.3H1255.2M1238.6 106.3H1255.2M1238.6 361H1706.3M1711.2 54.8V361H2159.6M1336.1 361V377.5M1479.9 361V377.5M1623.4 361V377.5M1790.6 361V377.5M1934 361V377.5M2077.4 361V377.5"/>
<text transform="translate(1234.8 366.6) scale(1 1.045)" text-anchor="end">1</text>
<text transform="translate(1234.8 315.7) scale(1 1.045)" text-anchor="end">10</text>
<text transform="translate(1234.8 264.7) scale(1 1.045)" text-anchor="end">100</text>
<text transform="translate(1234.8 213.8) scale(1 1.045)" text-anchor="end">1,000</text>
<text transform="translate(1234.8 162.9) scale(1 1.045)" text-anchor="end">10,000</text>
<text transform="translate(1234.8 111.9) scale(1 1.045)" text-anchor="end">100,000</text>
<text transform="translate(1234.8 61) scale(1 1.045)" text-anchor="end">1,000,000</text>
<path class="bx" d="M1293.5 107.7H1380.3V138.2H1293.5ZM1293.5 124.2H1380.3M1336.9 107.7V91.4M1314.5 91.4H1359.3M1336.9 138.2V199M1314.5 199H1359.3M1437.1 144.7H1523.9V171.8H1437.1ZM1437.1 157.7H1523.9M1480.5 144.7V130.2M1458.1 130.2H1502.9M1480.5 171.8V231.6M1458.1 231.6H1502.9M1580.8 168.3H1667.6V208.6H1580.8ZM1580.8 189.6H1667.6M1624.2 168.3V150.5M1601.8 150.5H1646.6M1624.2 208.6V231.7M1601.8 231.7H1646.6M1747.8 101.9H1834.6V128.3H1747.8ZM1747.8 114.7H1834.6M1791.2 101.9V86.2M1768.8 86.2H1813.6M1791.2 128.3V199.4M1768.8 199.4H1813.6M1891.4 138.1H1978.2V165.3H1891.4ZM1891.4 152H1978.2M1934.8 138.1V120.6M1912.4 120.6H1957.2M1934.8 165.3V285M1912.4 285H1957.2M2034.9 160.3H2121.7V195.6H2034.9ZM2034.9 180.7H2121.7M2078.3 160.3V143.7M2055.9 143.7H2100.7M2078.3 195.6V285M2055.9 285H2100.7"/>
<text transform="translate(1336.7 397.8) scale(1 1.045)" text-anchor="middle"><tspan class="le" dy="-1.9">⩽</tspan><tspan dy="1.9">3 (<tspan font-style="italic">n</tspan> = 370)</tspan></text>
<text transform="translate(1480.3 397.8) scale(1 1.045)" text-anchor="middle"><tspan class="gt" dy="0.9">&gt;</tspan><tspan dy="-0.9">3 to </tspan><tspan class="le" dy="-1.9">⩽</tspan><tspan dy="1.9">6 (<tspan font-style="italic">n</tspan> = 245)</tspan></text>
<text transform="translate(1624 397.8) scale(1 1.045)" text-anchor="middle"><tspan class="gt" dy="0.9">&gt;</tspan><tspan dy="-0.9">6 (<tspan font-style="italic">n</tspan> = 107)</tspan></text>
<text transform="translate(1791 397.8) scale(1 1.045)" text-anchor="middle"><tspan class="le" dy="-1.9">⩽</tspan><tspan dy="1.9">3 (<tspan font-style="italic">n</tspan> = 801)</tspan></text>
<text transform="translate(1934.7 397.8) scale(1 1.045)" text-anchor="middle"><tspan class="gt" dy="0.9">&gt;</tspan><tspan dy="-0.9">3 to </tspan><tspan class="le" dy="-1.9">⩽</tspan><tspan dy="1.9">6 (<tspan font-style="italic">n</tspan> = 460)</tspan></text>
<text transform="translate(2078.1 397.8) scale(1 1.045)" text-anchor="middle"><tspan class="gt" dy="0.9">&gt;</tspan><tspan dy="-0.9">6 (<tspan font-style="italic">n</tspan> = 135)</tspan></text>
<text transform="translate(1711.4 428.3) scale(1 1.045)" text-anchor="middle">Age (months)</text>
</g>
<g id="panel-c">
<text transform="translate(-0.3 541.2)" style="font-weight:bold;font-size:16px" class="b">c</text>
<text transform="translate(556.1 547.7) scale(1 1.045)" text-anchor="middle" style="font-weight:bold;font-size:14.5px" class="b">Post-F</text>
<text transform="translate(324.5 570.3) scale(1 1.045)" text-anchor="middle">Phase 2b</text>
<text transform="translate(779.1 570.3) scale(1 1.045)" text-anchor="middle">MELODY</text>
<text transform="translate(12.9 739.4) rotate(-90) scale(1 1.045)" text-anchor="middle">Antibodies, AU ml<tspan class="su" dy="-4.8">-1</tspan></text>
<path class="dl" d="M99.6 777.5H551.1"/>
<text transform="translate(106.1 803) scale(1 1.045)" style="font-size:20px" class="b">LLOQ</text>
<path class="dl" d="M555.6 808.4H1002.1"/>
<text transform="translate(562.1 834) scale(1 1.045)" style="font-size:20px" class="b">LLOQ</text>
<polyline class="p" marker-start="url(#mc)" marker-mid="url(#mc)" marker-end="url(#mc)" points="189.1,712.5 190.3,664.7 183.7,701 168.3,654.1 201.3,689.2 183.5,630.8 149.6,689.8 196.9,685.5 156.8,679.5 217.5,674.5 162.1,676.4 186.3,669.2 183.9,636 184.6,651.3 166,664 226.5,670.4 211.4,664.4 199,675.4 180.3,635 185.4,661.2 125.7,686.6 194.3,712 204,659.7 237.1,685.4 155.6,689.9 202,672.6 154.5,671.5 179,635.6 220.2,670.9 214.4,701.8 225.8,677.8 180.4,636.6 125.9,690.9 136.5,670.2 139.9,694.9 181.5,624.6 181.8,626.7 143.7,678.5 186.8,704.8 184.2,643.9 169.9,665.1 171.1,653 158.8,672.9 182.8,647.1 169.1,659.3 177.8,643.9 193.7,658.6 186.5,658.9 179.9,644.5 182.6,649.4 131.5,678.3 192,678.2 179.5,640.7 174.5,692.4 187.7,690.8 183.8,721.4 155.5,675.1 162.5,691.6 156.6,669.4 146.1,685.9 234.8,674.7 184.3,646.3 163.7,659.8 180.6,661.2 181.2,685.8 189.6,667.6 181.9,624 173.5,661.4 216.7,669.8 181.3,630 232.1,697.1 178.3,660.5 197.3,699.4 171,671.3 145.4,700.1 178,712.8 127.7,669.9 165.2,711.9 190.9,682.7 172,715.1 140.2,687.5 186.7,696 182,650.3 183.4,637.5 186.4,652.5 177.7,646.3 184.6,677.2 176.7,639.2 126.1,700 215.5,679.6 178.8,667.9 186.1,663.3 173,655.9 157.1,659.6 156.3,666.8 169.4,674.5 199.7,660.7 211.4,693.9 142.3,705.2 183.7,688.6 209.1,660.3 141.2,681.4 176.8,642.8 181.8,627.5 195.8,656.3 190.3,653.5 188,679.4 206,693.3 181.9,619.2 233.4,682.4 207.9,678.6 151.6,667.2 227.3,674.1 181.7,669.3 183.7,649.8 178.7,647.6 175,668.5 224.8,699.8 181.6,635.2 201.2,702.6 184.3,665.8 185,653.3 178.1,676.4 212.6,670 204.2,655.7 197.3,692.9 180.5,680.1 164,656.5 172.8,698.7 177.1,648.4 222.6,687.9 171.8,682.2 229.5,701.3 169.8,662.1 124.7,673.3 171.6,668.1 182,724.1 182.9,642.5 176.8,662.3 182.6,628.3 229.9,684.6 167.5,706.8 185.3,636.9 206.5,662.7 219,681.2 230.9,675.9 185,655.7 155.5,657 176.6,684.8 205.5,658.2 179.1,654.6 152.5,664.5 175.6,679.8 234.7,691.7 186.9,639.7 172.2,676 129.8,692.7 131.2,706.1 124.9,695.1 176.4,672.8 159.4,666.5 159.6,700.5 156.7,683.4 151.8,674.1 180.3,631.8 126.6,682.9 147.7,667.1 162.7,667 159.5,695.3 195.8,671.5 132.3,681.3 186.9,647.2 196.8,667 196.7,659.4 238.1,675.6 175.8,641.2 238.9,671.7 182.6,662.5 178.5,693.9 133.9,675.3 179.5,664.3 199.5,666.1 123.6,680 213.8,672.7 178.8,652.3 229.2,679.5 173.9,664.3 182.9,634.6 185.8,644 145.4,674.5 187.3,666 216.2,691.6 182.3,653.7 181.7,621.5 151,686.3 176.6,647.1 200.3,679.3 180.7,638.9 235.3,678.6 127,676.4 203.7,664.8 224.6,680.8 184.2,672.1 195.8,663.5 185.8,650 181.3,648 134,697.8 238.2,696.2 182.7,636.3 168.1,679.1 142.7,684 132.7,671.7 187.5,646.1 235.2,669.9 185.9,647 183.6,632.5 129.6,685.3 190.8,742 215.4,697 208.3,698.4 181.2,646.4 201.8,683.2 153.1,695 187.5,648.8 166.8,656.7 231.9,687.3 210.8,667.9 160.9,680.6 151.5,679.9 136.8,679 176.3,644.3 182.1,630.9 132.9,687.8 205.7,668.6 166.5,661.7 179.5,647.1 187.7,654.1 166.7,682.5 211.5,689.7 154.9,662.4 129.9,674 217.1,666.6 224.2,709.3 160.8,658.7 179.5,633.5 215.6,686.2 222.3,684.2 186.7,642.3 216.9,683.9 227.1,688.7 179.2,642.8 197.7,662.4 182.1,639.2 188.6,662.6 176.9,702.8 143.4,689.4 184.8,639.3 231.4,671.8 204,675.5 180.3,649.4 213.8,666.8 193.5,661.7 181.7,675 140.4,676 181.5,643.5 191.2,717.7 185.6,641.9 187.5,672.9 165.3,673.1 171.8,659.5 178.5,637.5 208.9,656.7 190.6,651.5 208.2,665.7 175.8,718.7 183.1,659.4 181.6,627.8 167.9,670 192.6,652.6 166.9,666.8 193.7,689.9 192.2,654.8 172.7,705.9 164.6,687.8 206.8,686.8 181.6,633.1 180.2,630.6 222.1,693.7 167.6,690.5 181.6,656.7 147.6,681 143.1,671 221.3,703.8 200.7,657.7 181.7,727.6 158.6,656.1 136.3,683.3 199.6,655.5 160.9,661.6 193,668.3 220.2,690.3 186.1,648.7 195.1,681.4 227.5,694.7 149.6,709.4 170.3,656.6 239,681.6 184.5,647.5 240.2,688.7 181.7,623.9 213,676.6 137.3,673.7 174.8,659.1 179.5,650.3 170.2,685 201.3,662.7 190.3,659.9 178,641.1 223.9,673.8 182.9,644.5 200.9,668.6 194.2,675 149.3,671.6 189.7,686.1 176.7,651.1 159.2,686.6 183.9,715.4 196,677.7 181.3,666.4 221.4,677.1 177.7,658 178,688.7 188.1,652.1 164.9,700.8 201.6,655.7 179.4,671.2 180.4,652.9 206.2,682.2 151.1,701.8 179.4,639 187.5,649.9 172.9,651.9 178,649.4 185.5,683.2 202.7,697.5 183.5,640.9 190.4,671.6 167.9,695.6 179.1,649.1 182,731.6 137.7,691.3 210.7,683 137.3,707.8 163.1,663.6 175.7,655.5 176.1,649.4 175.8,653.2 196.3,705.3 181.5,616.6 157.9,662.9 161.9,670.4 192.9,665.6 176.7,665.8 190,657.2 155,708.9 180.5,641.9 174,653.5 149.7,664.9 148.8,677 145.5,693.5 172.7,688.2 206.8,672.2"/>
<polyline class="p" marker-start="url(#mc)" marker-mid="url(#mc)" marker-end="url(#mc)" points="372.9,711.4 334.4,667.3 302.7,704.1 283.9,713.8 370.4,720.3 338.1,683.3 302.3,707.2 324.8,696.5 269.3,716.4 304.1,679.6 322,770 319.4,675.4 290.5,718.9 324.7,682.6 332.8,703.2 304.9,688.2 375.8,723.2 325.7,677.7 319.6,699.6 332.8,685.5 291,696.2 297.6,710.5 344,742.2 345.2,707.8 362.6,701.9 355.5,735 334.9,692.9 331.3,716.9 292.5,725.6 306.4,692.2 339.6,708.8 334.3,708.3 271,712.1 364.7,691.3 284.2,719 374,716.5 315.5,675.7 383.4,716.3 304.3,736.5 349.4,705 296,687.2 336.1,732.3 271.8,693.8 337.7,699.7 279.2,708 294.8,744 302,698.6 353.2,714.6 343.7,676.9 323.2,685.9 294.6,692.7 353.7,727 365.6,730.6 380.1,697.2 281.4,701 275,697.7 293.2,704.8 358.4,698.2 343.1,732 378.3,703.2 309.8,723.9 266.7,728.1 336.2,676.5 325.6,731.3 345.4,726.5 315.1,733.3 328.4,705.6 310.5,716.2 311.3,699.7 384.6,695.1 341.1,751.8 372,733.5 339.6,714.1 290.7,684.5 283.4,706 318.7,745.8 371.9,728 316.9,713.1 381.2,720.9 320.3,665.2 308,729 382.1,711.4 316.6,679.3 318.7,729.6 369.4,710 313.8,710 311.3,674.2 376.4,706.1 336.5,680.3 320.5,704.4 384.1,703.3 363,740.5 310.2,678.1 300.4,722.8 378.4,714.2 348.9,717.6 347.7,713.1 368,702.3 319,755.2 351.1,681.5 294.5,714.5 299.8,728.2 360.1,689.4 336.9,687.8 369.3,714.9 300.7,688.8 314.4,716.4 297.3,705 273.7,719.5 303.5,695.1 316.4,695.9 343.5,699.3 267.1,707 269.4,689.7 365.7,724.4 306.3,699.8 327.8,674.3 302.2,714.4 328.2,681.5 348.3,695.4 297.2,698.2 368.6,688.2 317.2,671.5 321.9,735.9 355.5,720.8 343.6,713.4 314.3,691.8 299.5,682.5 347.7,737.2 349.2,685.8 330.9,676.6 364.1,697.9 321,679 343.2,687.5 379.2,730.6 271.4,702.9 287.7,729.3 324.3,724.8 343.5,703.6 331.2,722.5 314.2,722.3 371.7,698.7 277.3,703.3 361.1,720.9 269.9,749 275.2,739.2 283.9,688.4 277.3,715.9 281.8,697 325.1,659.4 375.9,699.2 344.3,695.7 367.1,706.2 337.9,724.8 305.4,711.7 286.6,693.5 323.1,671.9 382.2,725.8 310.1,688.9 354.3,685.2 325.3,701.5 281.6,731.2 347.9,691 270.5,723.1 384.2,699.4 296.1,721.9 320.4,717 355.6,706.3 276.4,688.9 321.8,712 332.9,672.4 343.7,717.1 373.4,693.1 329.2,670 342.4,722 307.7,696.1 332.4,681.3 364,685.2 328.9,694 272.7,706.7 324.3,662.3 336.7,719 293.3,700.1 282.2,692.3 287.5,706.5 266.3,703.3 299.3,701.4 268.1,698.6 325.7,714 326.9,719.2 287.4,700.6 344.3,681.7 308.8,704.7 354.8,690.5 333.2,713 278.9,720.6 338.3,704.5 288.2,712.2 352.1,696.3 273.5,734.1 351.2,709.2 338.5,738.6 318.1,684.2 283.6,709.8 356.6,700.9 332.1,698.8 360.3,706.2 364.8,717.2 361,726.8 329,709.3 355.8,710.7 312.6,684.1 382.9,747.8 378.1,709.6 360.1,714.6 309.7,708.9 340.8,673.8 308.7,682.9 266.5,693 373.1,703.3 325.6,669.2 348.6,700.3 364.9,711 305.2,684.4 318,707.8 295.4,760.1 276.1,725.7 286.9,723.5 313.2,743.9 275.5,711.9 361,734.5 318.5,723.8 378.9,691.1 324.2,690.8 361,694.2 330.5,689.6 298.9,717 339.9,692.7 292.9,708.7 314.1,703.4 382.6,706.7 306,676.3 297.7,739.2 290.2,689.7 278.2,694.9 328.3,665.2 307.1,719.7 347.5,722.4 328.3,685.1"/>
<polyline class="p" marker-start="url(#mc)" marker-mid="url(#mc)" marker-end="url(#mc)" points="524.6,750 493.5,739.7 495.1,770.1 510.9,730.3 457.4,712 460.4,763.6 432.8,747.5 481.8,697.3 453.1,765.8 492.2,734.1 456.7,697.6 450,731.7 466.5,726 520.1,742.7 469.8,692.2 493.9,716.2 482.8,740.9 424.1,740 467.5,753 468.8,688.1 487.1,702.4 430.4,736 445.7,759.7 440.8,728.1 476.7,793.9 482,726.6 505.6,736.6 459.5,726.6 505.6,722.1 501.6,766.7 459.1,720.8 437.7,745.6 485.3,747.1 492.2,755.1 413.8,774.3 451.6,738.6 432.1,771.3 506.9,715 419.9,730.3 412.3,755.5 509.3,752.8 460.1,752.9 420.4,758.7 410.5,722.8 479,756.8 443.2,775 460.8,737.9 439.1,769.6 469.1,766.3 513.5,742.3 427.6,719 526.8,793.9 469.1,655.1 437.9,761.9 437.6,712.8 469.1,647.3 429.6,761.7 468.8,717.4 481.7,710.5 502.1,732.8 435.2,728.3 504.7,750 416.6,748 438.8,737.6 471.3,745.7 425.7,754.6 469.1,644.7 508.9,745.2 445.2,713.2 469.1,633.4 488.4,718.1 462.3,700.1 467,702.2 488.9,725.6 448.7,773.4 480.3,703.8 491.2,709 497.5,747.9 468.3,691.3 411.2,729.6 468,693.8 477.5,743.3 484.8,734.1 418.9,740.9 475.6,715.6 471.2,707.7 423.2,726.4 461.7,709.4 454.1,776.4 525.5,764.2 443.6,705.6 459.8,793.9 467.9,776.4 443.3,721.4 519.2,758.4 434.4,721 422.1,715.7 418.7,723.9 474.4,735.1 524.3,736.4 475.3,704.8 491.7,749.4 469.2,686 466.9,770.9 475.7,695.6 415.7,760.6 479.1,767.5 452,706.5"/>
<polyline class="p" marker-start="url(#mc)" marker-mid="url(#mc)" marker-end="url(#mc)" points="616.5,663.6 672.3,664.5 626,647.3 686.6,698 634.7,664 618.7,683.2 661.6,657.2 635.4,649 644.1,668.8 619.7,650.6 653.1,716.3 639.6,680.5 688.7,673.4 631.5,649.5 642.8,705.9 592.3,680.9 663.9,709.8 677.3,689.7 673.6,652.8 624,634.7 578,665.1 642.6,639.3 637.8,662.3 636.5,642.1 586.4,670.8 670.1,671.8 623.2,666 691.4,689.6 632.4,675.6 693.6,670.4 644.1,649.1 628,688.3 615.8,657.4 635.7,620.1 592,670.9 604.5,687.4 632.3,672.8 659.9,689 639.5,672.2 619.1,695.1 625.7,660.1 611.1,698.2 610.7,653.1 685,666.2 628.7,645.4 685.8,669.3 643.7,641.4 611.2,681.3 649.5,681 594.4,685.2 639.2,632.6 606.2,664.6 603.4,661.8 667.6,693.4 625.9,677.3 642.8,665.2 621,668.8 662.8,678.9 695.1,664.2 668,650.9 664.4,647.1 631.4,652.7 642.2,654.1 679.1,686.7 648.1,640 648.9,637.8 598.6,668.6 636.2,616.9 645.5,682.9 677.5,680.1 636.5,625.7 621.8,684 669.8,681.6 602.6,696.1 653.6,653 632.5,639 644.6,675.4 657.3,678.2 676.7,672.8 635.8,687.5 629.7,657.4 677.7,693.6 577.7,667.8 606.1,651.1 609.8,646.4 670,677.8 634.8,641.8 583.6,685 661.7,647.6 633.4,640.5 636.5,676.7 674.2,661.9 634.1,657.8 672,684 693.7,692.7 636.5,658 628.5,718.1 636.9,628.6 654.5,651 622.4,661.2 595.6,665.4 675.6,699.4 600.3,679.4 695.4,699.6 631.5,694.1 637.6,625 603.1,658.8 591.8,662.4 599.7,655.3 692.6,679.4 577.2,705.2 633,659.9 631.4,640 582.1,661.5 641.2,657.6 654.2,644.3 682.4,699.8 632.7,731.5 583.6,662.6 652.7,701.3 633.2,637.5 691.1,660.7 635.6,631.3 648.4,669.5 627.6,658.7 609.7,665.5 605.5,669.1 641.2,670.3 623.2,654.7 597.8,672 678.1,654.5 692.4,662.5 583.1,657.9 612.7,677.2 633.9,632.3 638.5,641 594.6,672.5 607.1,694.9 613.6,670.1 639.3,636.9 616.6,668.5 664.1,670.2 639.9,642.7 587.7,664.6 626.1,691.6 635.2,624.3 624.5,671.7 673.9,656.1 625.2,637.2 660.5,672.4 640.3,631.5 651.6,657.1 610.1,649.7 686.7,674.9 618.4,676.2 663.5,668.1 636,610.7 620.7,666.7 635.5,635 577.1,691.7 610.5,673.9 665.2,672.8 671.5,660.8 624.7,643.7 634.7,638.8 613.1,658.5 641.6,650.2 637.8,648.7 683.8,653.8 673.2,658.5 636.8,636.1 600.3,657.9 640.3,716.3 664.6,663 651,666.4 648.4,644.9 623.6,640.3 619,644.5 659.9,666.3 652.9,649.1 635.8,660.9 634.2,713.7 681.3,656.4 592.2,702 591.5,668.1 632.3,633.5 636.4,620.6 587.1,658.4 688.9,677.4 644.5,690.1 602.8,649.3 594.9,675.5 629.8,639.9 631.5,686.4 628.8,650 664.9,657.2 638.3,635.5 639.3,697.1 679.8,658.8 601.7,664.1 631.3,668.1 637,669.7 670.1,663.3 645.3,655 661.6,653.7 597.8,656 637.4,626.2 647,656.8 684.4,657.6 632.9,669.4 647.3,638.8 615.4,680.2 634.9,667.5 676.2,677.8 647.1,662.5 630.9,632.5 637.3,639.8 640.4,629.7 609.8,648.1 647.8,684.6 652.9,645.2 620.2,711.8 633,630.6 656.3,660.3 657.7,669.3 598.1,703.4 616.1,685.8 670.5,657.7 660.7,663.8 622.1,663.5 666.3,653.9 681.7,681.4 591.2,689.4 589.2,686.4 676,659.5 607.4,689.6 633.9,633.8 634.7,625.1 686.5,681.8 614.3,683.4 655.6,671.8 577.2,675.2 649.8,655.3 661.9,650.1 583.2,678.1 636,673.1 663,674.5 651.6,669.3 654.8,687.9 581.1,688 695,661.4 595.2,682.5 591.7,676.6 693.6,659.2 646.8,650.1 659.1,658.4 630.2,636.6 666.4,687.2 627.3,643.1 676.6,665.4 615.4,713.7 646.4,646.1 658.8,661.4 625.5,644.9 666.8,661.2 593.4,693.1 683.6,663.5 639,684 630.2,661 620.2,649 618.9,691.2 680.2,679.2 658.7,675.3 617.2,649.5 607.7,655.1 614.9,695.1 648.8,643.2 627,648.9 628.2,703.8 647.8,648.7 647.5,674.7 642.4,662.6 656.3,710.6 640.2,654.5 636.2,615.5 635.8,617.2 604.5,692 694.8,680.3 623.4,668.6 654.2,692.6 688.6,669.9 683.2,668.2 636.4,600.6 591.7,655 666.9,680.5 591.6,697.2 636,640.8 600,649.9 641.4,673.9 691.3,669.7 608.2,706.9 588.2,690 653.7,681.6 623.2,679.1 643.6,646 676.2,652.7 613.1,651.9 646.3,667.5 663,682 636.2,646.9 669.9,668.7 636.1,624.4 687.7,667.7 637.9,638.4 671.9,676.2 651,652.9 651.9,673.5 681.5,707.1 666.7,658.7 638.6,628.9 624.1,642.7 579.6,663 672.9,649.8 629.2,666.4 672.4,695.3 613.5,644.9 613.2,648.7 596.1,689.8 606.3,676.7 681.1,666.7 612.2,664.9 636,618.5 644.2,696.9 589.4,652 636,736.7 668.9,689.7 662.4,665.9 585.1,682.2 602.3,655.5 626.7,672.8 579,685.2 602.9,666.3 628.4,681 596.2,663.2 610.4,687.7 656.2,663.6 657.2,666.2 581.8,682.8 625.3,635.5 651.9,663.7 621.7,656 678.9,675.2 633.1,645.7 672.3,669.4 680.8,654.1 637,632.1 677.5,662.4 691.9,697.2 639.4,660.3 674,681.6 656.6,657.4 626.8,696.6 649,673.3 645.7,686.8 660.6,646 677.4,682.6 615.2,646.9 641.3,632.7 630.5,646.6 621.9,671.7 640.2,687.1 632.2,656.3 634.8,653 631.9,699.5 642.5,683.2 611.1,671.3 690.2,665.9 619.3,749.2 615,650 613.1,654.2 640.5,729 579.4,694.4 644.3,638.1 632.6,629.1 642.4,634.5 657.4,647.8 621,645.5 597.9,653.2 652,678.3 615.3,665.4 640.9,636.1 681.4,669.8 581.4,673.7 643.3,636.3 623.3,638.6 587.9,683.8 673.8,687.1 592.7,665.4 631.1,638.3 664.2,696.7 676.7,685.4 668.7,701.8 619.6,656.5 622.1,687.2 644.1,671.8 631.1,682.9 583.8,666.2 636,593.6 591,683.9 596.2,698.6 682.4,684.8 639.3,631 626.1,669.8 664.8,666.1 667.4,670.7 619.5,663 625.4,642.6 645.6,647.8 645.8,665.1 587.4,700.8 597,684.9 654,658.6 687.3,705.9 638.7,651.9 641.3,660 641.1,690.2 580.1,676.5 636.3,608.5 628.5,637.4 643.4,700.9 605.8,673.4 648.7,712.2 625.4,654.4 668.9,685.3 588.2,680.2 622.4,651 646.7,644 626.2,666.5 633.8,650.6 631.4,631.1 635.3,621.7 588.7,676 604.3,653.7 633.5,626 642.3,648.4 641.8,637.6 618.7,687.5 590.1,693.4 643.8,656.8 615.6,660.9 640.3,646.4 646.3,636.4 634.8,644.1 639.3,710.2 598.6,666.1 579.9,666.9 579.7,672.2 617.2,655.4 649.3,661.7 637.1,630 646.2,692.6 603.3,670.7 644.6,635.3 577.4,683.8 611.9,662.2 622.2,677 605.2,680.2 694.1,673.5 638.1,642.7 658.1,703.9 584.7,674.6 635.3,629.3 682,677 636,619.5 679.1,668.6 596,669.8 683.8,680 661.7,660.9 613.8,666.9 602,672.9 587.6,673.3 620.4,680.2 648.4,636.2 683,659.5 622.5,644.6 673.7,667 600.9,668.5 608,672.2 615.4,672.6 656.2,673.7 634.2,679.2 664,652.4 577.6,672.4 627.9,653.6 593.2,678.7 673.9,671.2 643.9,652.1 640.2,664.7 607.6,652.7 635.7,610.8 668.9,665.9 663.8,649 611.6,646.6 637.4,644.8 578.4,670.4 650.6,686.5 624.9,685.1 693.6,684.3 683,674.2 688.5,661.9 638.1,624.3 636.3,643.6 637.2,665.1 636.2,606.3 647.5,678.9 630.8,690.2 691.4,702.8 666.7,649.4 601.8,652.2 659.9,682.6 598.5,675.3 639,626.5 635.9,612.7 687.5,687.9 584.4,706.5 632.7,631.9 596.5,657.7 688.5,693.7 668,655.9 685.6,671.9 629,641.4 602.2,675.4 690.4,671.8 631.7,641.6 648.1,665.1 643.7,643.8 631.7,636.2 657,698 691.9,676.5 595.6,654.1 604.9,683.5 636.4,603.4 624.8,699.8 629.6,664.3 647.3,719.5 598.6,660.3 695,687.4 634.2,624.3 612.9,673.4 658.4,645.2 625,639 621.8,648.4 660.4,669.5 618.7,665.5 684.9,661.6 627.1,638.5 661.3,676.2 683.5,687.5 631.6,680 636.9,623.6 600,690.9 589.4,654.9 635.6,622.9 624.3,657.6 657.9,685.9 576.6,697 586,678.7 636.5,613.5 647.1,642.7 664,654.8 583.3,671.7 647.7,652.9 625.2,640.7 616.9,645.2 659.9,680.1 633.6,643 636.1,701.6 621.2,652.8 589.2,659.5 605.1,656.3 672.9,673.4 615.6,674.8 599.3,682.8 669.4,707 656.1,646.1 631,643.2 644.3,679.8 635.7,616.7 584.8,660.7 623.5,636.4 610.7,668.5 636.3,620.8 585.9,687 645.5,639.9 672.9,690.8 673.5,678.7 632,662.6 629.4,669.1 596.8,680.1 654,665.7 635.8,620.8 633,648.5 678.4,651.6 649.4,689.6 638,631.3 609,684.8 684.4,677.6 616.3,677.6 648.3,641.8 680.9,661.3 654.5,668.4 610.8,656.3 695.5,677.1 654.2,647 588.9,662 662.2,685.1 634.4,626.4 635.6,719.2 617.9,647.6 635.5,626.1 591.2,707.8 654,684.6 641.5,667.2 658.5,671.7 620,659.3 585,668.7 639.4,638.7 686.8,660.7 636,626.8 632,644.3 593.7,660.3 609.3,660.7 600.3,709 624.7,675.1 658.7,654.7 649.6,676.9 608.7,657.7 639.8,628.6 649.2,658.3 656.9,680.7 668.1,673.5 625.3,722.7 691.3,683.3 615.3,644.6 581.5,665.1 582.6,691.5 671.3,655.1 635.2,691.2 624,649 655.5,676.6 679.3,664.2 630.5,725.2 618.2,699.6 589.7,678.2 579.9,658.9 637.4,633.6 580.6,679.8 630.6,654.7 646.3,640.9 590.9,673.4 611.9,692.8 659.8,693.9 629,635.4 664.2,659.1 635.9,681.5 680.9,651.8 637.2,654.2 686.7,678.7 654.1,662.4 597.6,650.6 602.6,682.4 619.3,673.3 636.5,612.5 590.1,670 606.6,662 621.2,674.8 609.6,676.8 634.3,631.1 669.6,652.8 642.1,642.1 666.7,667.6 653.5,671 638.8,667.2 644.9,644.7 662.4,645 585.6,695.6 690.9,686.4 630.1,674.8 620.4,661.1 599.8,662.2 689.3,658.6 581,669.1 625.1,681.7 606.3,659.1 594.4,667.8 676.3,669.3 597.8,677.5 612.8,703.6 635.1,628 628.6,648 652.6,695.4 689.8,680.8 656.1,649 634.6,655.6 636.3,651.1 600.5,685.4 638.1,627.4 628,662 625.7,714 651.4,647.2 636.5,637.7 657.6,690.5 577.8,679.1 650.1,649.5 585.9,662.8 658.9,652.1 659,648.1 639.6,648.6 654.7,655.4 594.8,651.9 642.3,723.8 643,677.2 634.9,684.4 618.4,670.5 647.7,697.5 577.4,657.5 645.5,660.1 604.5,701.8 627.3,655.9 640.5,640.2 662.7,690.4 671.5,651.4 613.6,656.3 676.9,657.1 594.1,656.4 617.9,659.9 654.4,679.1 627.9,640.1 658.5,649.6 644.9,643 638.4,646.9 621,704.8 619.4,654.4 622.9,695.6 589.7,665.7 681.5,695.1 635.6,632.8 639.7,643.9 636.3,618.9 630.5,671.3 674.7,675.2 640.4,634.1 679.1,671.2 627.8,684.7 666.8,664.5 588.8,667.9 626.6,664 687.9,664 608.9,679.1 607.9,648.8 631.3,635 627.6,675.3 577.1,661.3 652.3,660.5 623.5,646.6 681.3,672.4 603.5,678.3 581.4,700.5 607.2,667.5 626.4,641.1 641.4,693.9 647.3,635.1 646.3,671.6 642.1,640.7 629.4,643.3 617.3,652.2 627.6,634.9 633.8,635.9 632.8,627 685.3,685.1 591.2,657.8 666.4,683.6 614,689.7 639.4,677.3 634,628.6 656.3,652.2 678,667.1 625.6,651.2 636.6,621.8 691.4,657.5 632.6,665.6 665.7,676.7 592.2,652.5 629.4,677.9 641.8,644.6 684.6,691.3 596.9,694.6 693.8,667.7 624.9,707.8 643,660.6 638.4,656.3"/>
<polyline class="p" marker-start="url(#mc)" marker-mid="url(#mc)" marker-end="url(#mc)" points="837.2,681.5 729.9,747.1 802,696.3 726.4,733.7 778.7,709.2 749,732.6 829.7,732.9 786.2,703.2 788,665.7 762.9,714.2 769.5,697.3 800.8,683.4 795.7,707 750.9,712.5 801.7,703.2 777.1,663.1 790.9,693.5 832.6,708.2 834.4,711.8 721.3,727.5 780.9,705.9 738.1,689.2 786.2,680.7 786.7,709.9 783.4,723.5 807,713.6 837.3,716.9 720.2,722.7 825.1,703.3 815.1,703.2 754.8,701.2 787.2,714 735.4,701.2 731.1,705.9 828.5,710.3 766.8,703 724,681.1 839,712.9 838.3,700.1 780.8,656.5 744.1,682.4 761.3,727.5 726.6,693.6 801.2,717.1 821.5,693.6 783.3,691.2 784.5,685 817.8,679.9 805.4,710 789.8,708.4 784.1,715.4 759.7,668.3 749.4,705.1 778.6,700.7 772.7,668.3 811.9,701.5 828.6,704.5 806,706.3 753.4,678.2 806.3,698 824,720.4 737.9,737.5 724.6,713.6 790,711.7 756.4,698.2 779.8,685.7 758,701.6 793.8,753.2 793.6,678.6 794.6,719.1 817.2,709.5 757.4,731.6 772.7,726.5 838.1,730.7 782,678.3 818,700.3 814.8,698.5 741.1,724.6 814.1,729.5 790.8,703.3 772.3,662.1 750.2,723.2 785,660.9 753,706.7 786,673.4 779.7,606.7 728.7,696.4 765.8,695.1 807.4,717.3 821.8,673.3 778.4,657.9 782.1,682 831.8,705 812,704.8 788,733.3 742.2,755.5 820.5,750.1 724,685.6 785.8,697.6 769.8,721.9 793.5,714.8 838.3,692.1 775.6,699.3 738.6,676.9 790.4,671.4 822.5,686.2 827.3,683.7 830.4,679.9 727.8,714.8 763.2,718.8 768,713.2 757.3,737.6 762.2,704.8 782.9,698.4 827.3,701.1 757.4,685.8 818.4,713.2 757.3,712 789.8,742.7 825.7,672.3 793.5,695.7 803,713.6 797.5,697.5 804.5,693.2 796,665.5 737.3,705.4 742.9,714.2 761.6,697.7 771.4,684.5 778.5,771.8 784.8,695.1 742.9,687.8 745,723.7 775.6,671.8 742.3,706.9 822.1,716.2 769.1,666.3 749.1,689.3 780.7,674.2 735,717.5 774.2,695.1 766.7,665.5 753.1,710.1 781.3,663.4 777.4,660.8 775.7,661 771.4,674.5 790,681.6 782.4,670.8 731.9,710.3 794.7,686.8 828.2,692.5 771,718.8 752.5,703.4 726.2,701.8 836.8,709.3 763.5,708 779.9,651.4 745.1,695.8 746.4,675.8 809.9,713.3 723.8,704.9 824,699.1 740,695.4 829.8,713.4 820.4,705.6 793.9,699.3 832.4,677.3 811.6,679 772.2,703.9 731.3,714.3 793.7,761.9 803.5,700 810.3,708.7 806.1,690 727.2,711.3 827.5,695.8 778.6,697 809.1,694 833.2,715.5 787.7,706.3 835.9,703.7 747.5,719.6 814.3,688.7 825.8,715.5 726.3,720.7 738.7,717 802.1,705.6 782.2,702.4 796.2,682.8 732.7,682.9 735.6,692.9 741.3,679.1 751.8,698.8 744.5,719.3 731.9,729.5 787.7,728.4 756.5,673 807.2,677.7 816.7,724.4 783.9,667 763.9,686.3 769.9,693.3 780,653.9 735.4,721.3 817.9,719.7 782.8,661.9 757.8,695.2 808.6,682.2 769.2,689.5 823.6,690.1 764.7,699.8 776.8,703.5 741.2,719.9 736.1,710.6 750,679.3 821.4,701.5 779.7,714.3 764.6,690.4 810.6,724.8 805.7,751.9 806.7,743.8 764,710.7 775.3,717.1 792.3,706.1 741.6,703.5 791.4,675.9 746.1,711.9 727.3,705.1 731.3,724.6 728.7,740 760.4,721.4 771.8,714.6 805.8,703.5 755.7,715.6 808.3,700.7 820,683.6 786.8,662.1 773.8,709.4 830.7,697.8 803.4,679.3 763,734.1 812.9,683.9 831.1,701.6 768.4,686.2 791.6,685.1 824.6,712.2 734.2,704.1 830.2,722.8 746.9,692.5 800,700.6 738.5,701.6 799.6,667.8 821.4,712.9 805,683.8 765.5,683.4 837.2,695.7 773.7,664 773.8,682.5 775.6,741.6 788.9,717 747.3,715.1 795.3,702.6 782,687 778,731.8 834.2,687 732.8,735.5 772.3,731.5 823.1,678.7 804.2,670.6 737.5,680.5 747.1,708.5 739.8,711 740.5,672.4 800.5,721.5 780.3,693.7 732.6,692 732.4,700.5 726,725.7 824.2,723.9 730.1,702.9 817,675.3 767.1,727.3 796.6,712.2 776.3,707.2 786.4,720.6 746.1,671.3 777.1,681.4 759.9,718.4 752.6,727.9 787.7,691 819.7,739.3 720.6,702.8 758.3,691.6 830.4,690.9 779,661.4 809.8,690.7 834.9,720.8 766,670.1 791.8,668.1 766.2,676.7 779.7,648 816.4,706.1 760.7,688.2 838.9,719.5 808.1,686.6 779.7,637 824.3,728.4 827.5,676.1 798.1,678.1 815.3,716.1 811.4,696.9 751.1,694.6 767.7,806.5 739.9,684.4 752.3,688.5 766.6,705.5 756.6,725.6 758.5,705 791.3,689.1 779.8,652.7 813.6,692.5 839.2,685.2 742.5,734.9 751.1,673.8 761.6,693.8 815,671.1 786.2,676.9 754.8,692.4 769.5,679.1 786.7,767.2 776.5,666.9 734.3,677.6 802.1,709.6 802.1,687 799.2,713.6 735.5,670.9 780.4,657.5 722.5,696.1 796.3,668.8 832.2,727.7 761.3,682.1 742.9,745.7 769.3,670.8 799.5,734.5 723.6,710.5 774,692.1 820.2,696.9 793.8,710.3 771.9,707 829.9,718.4 732,695 755.3,668.8 763.8,666 734.2,707.8 808.6,704.2 779.7,634.4 765,722.7 834.5,699.4 835.5,736.7 766.3,715.9 723.2,717.1 779.5,655.1 784,707.6 802.9,675.5 724.9,708 788.7,700.4 782.8,729.4 827.6,746.4 762.7,678.6 799.1,707.8 774.2,721.2 839.1,723.6 798.8,704.6 816.6,695.4 788.6,748.9 779,656.8 821.7,709 797.8,688.1 730.5,718.5 793,735.9 817,692.1 830.4,686.9 789.7,696.9 802.3,726.8 729.2,679.8 820.1,732.4 825.8,707.6 796.5,673.7 721.1,714.6 758.2,708.2 779.4,722.4 833,682.7 730.8,674.6 812.4,675.1 779.7,667.8 749.6,702.8 809.8,720.1 756.5,681.9 752.2,718.2 737,697 807.4,672.5 761.2,672.1 758.5,677.4 838.5,688.7 794.6,690.9 774.6,687.8 725.6,698.8 812.7,712.5 776.2,712.3 820.4,689.5 728.8,690.1 833.4,694.3 720.8,692.1 770.7,711.6 738,730.5 751.9,683.8 811.5,715.6 743.7,692.1 724.4,689.2 779.5,650.1 728.8,685.1 737.6,713.9 746.2,704.4 720.3,687 780.4,718 837.6,706.3 768.7,708.4 778,726.4 817.8,686 779.8,689.8 745.4,700.8 746.4,685.9 723.2,741.9 801.5,691.2 793.8,725.3 831.2,740.4 783.8,711.8 787.4,806.5 769.1,701.5 797.3,715.9 721.3,707.9 766,758.8 748.4,698 781.4,659.1 777.1,677.4 732.9,687.6 751.5,691.2 728.7,708.4 791.6,663.6 798.7,693.8 790.9,721.3 772.2,700.8 789,686 742.6,698.5 760.9,701.3 755.1,720 808.7,731.1 804.9,720.5 721,699.8"/>
<polyline class="p" marker-start="url(#mc)" marker-mid="url(#mc)" marker-end="url(#mc)" points="942.9,734.8 962.8,752.2 929.5,697.8 890.6,708.4 863.8,737.1 903.4,710.8 925.8,750.1 921.1,694.2 913.2,715.6 982.3,730.8 938.7,701.7 893.3,715.1 882,728.3 882.1,792.8 921.6,708.9 924.4,726.1 906.4,755.2 920.1,701 930.1,721.5 925.3,698.5 905.3,737.3 887.8,735.8 865.4,724.4 913.7,701.3 923.3,680.8 917.1,738.9 955,739.9 923,685.4 871.6,728 969,743.8 962.6,711.5 962,716.4 870.6,759.2 971.7,730.8 922.5,731.6 923.2,635.5 907.5,768.6 897.6,734.6 922.8,718.8 869.8,739.2 868.2,731.7 917.8,692.9 950.4,725.9 981.9,755.3 928.6,735.1 956.4,716.6 871.4,717.5 927.2,742.5 935,784.4 923.2,639.5 945.3,725.6 909.1,743.3 875.1,720.8 975.9,734.4 923.2,657.7 941.3,714.4 946.3,764.4 952.8,732.9 908.5,713.5 923.2,633.5 959.7,729.9 964.8,730 893.2,740.8 897.6,717.7 915.9,752.1 931.1,713.9 921.1,748.2 910.1,749.6 960.5,763.2 933.4,733.4 923.2,629.5 923.4,678.6 900.6,743.2 964.7,758.4 934.1,740.9 895.2,751.6 931.2,753.2 980.5,740.5 902.8,703.3 923.2,689.7 928.3,765.3 886.7,731 902.2,728.8 974.7,739.4 924.7,656.3 935.7,711.8 883.6,748.3 935.4,697.9 923.2,641.5 977.9,721.2 923.3,689.1 923.2,642.8 955.8,751.3 955.1,758.5 890,745.6 892.6,724.8 946.9,756.7 923.5,687 941.7,746.2 874.4,736.2 958.4,744.7 950.3,709.3 923.2,631.5 964.5,737.8 924.6,691.6 919.7,772.4 922.8,668 941.8,761.5 868.6,746.5 948.8,719.5 939.6,706.5 947.8,748.1 886.4,722.2 926.8,694.6 972.2,717.1 918.6,723.6 925.7,711.8 923.2,627.5 912.9,707.3 933.6,705.5 939.9,775.1 922.8,673.9 923.2,637.5 904.8,723.7 922.9,683.7 898.2,725.3 917.8,697.6 921.7,655 880.2,720.7 979.1,824.7 923.2,623.5 908,704.7 882.3,770.2 873.3,778.8 925.9,704.4 923.2,625.5"/>
<path class="ax" d="M83.5 586H100.1V891.6M83.5 840.7H100.1M83.5 789.7H100.1M83.5 738.8H100.1M83.5 687.9H100.1M83.5 637H100.1M83.5 891.6H551.2M556.1 585.4V891.6H1004.5M181 891.6V908.1M324.8 891.6V908.1M468.3 891.6V908.1M635.5 891.6V908.1M778.9 891.6V908.1M922.3 891.6V908.1"/>
<text transform="translate(79.7 897.2) scale(1 1.045)" text-anchor="end">1</text>
<text transform="translate(79.7 846.3) scale(1 1.045)" text-anchor="end">10</text>
<text transform="translate(79.7 795.3) scale(1 1.045)" text-anchor="end">100</text>
<text transform="translate(79.7 744.4) scale(1 1.045)" text-anchor="end">1,000</text>
<text transform="translate(79.7 693.5) scale(1 1.045)" text-anchor="end">10,000</text>
<text transform="translate(79.7 642.6) scale(1 1.045)" text-anchor="end">100,000</text>
<text transform="translate(79.7 591.6) scale(1 1.045)" text-anchor="end">1,000,000</text>
<path class="bx" d="M138.4 654.5H225.2V684.8H138.4ZM138.4 670H225.2M181.8 654.5V638.4M159.4 638.4H204.2M181.8 684.8V742M159.4 742H204.2M282 691.9H368.8V718.9H282ZM282 705.4H368.8M325.4 691.9V675.8M303 675.8H347.8M325.4 718.9V770M303 770H347.8M425.7 717.3H512.5V755.7H425.7ZM425.7 736.3H512.5M469.1 717.3V699.6M446.7 699.6H491.5M469.1 755.7V793.9M446.7 793.9H491.5M592.7 649.5H679.5V679.3H592.7ZM592.7 664.4H679.5M636.1 649.5V633.6M613.7 633.6H658.5M636.1 679.3V749.2M613.7 749.2H658.5M736.3 685.4H823.1V715H736.3ZM736.3 701.2H823.1M779.7 685.4V668.3M757.3 668.3H802.1M779.7 715V806.5M757.3 806.5H802.1M879.8 710.8H966.6V745.2H879.8ZM879.8 728.9H966.6M923.2 710.8V695.8M900.8 695.8H945.6M923.2 745.2V824.7M900.8 824.7H945.6"/>
<text transform="translate(181.6 928.4) scale(1 1.045)" text-anchor="middle"><tspan class="le" dy="-1.9">⩽</tspan><tspan dy="1.9">3 (<tspan font-style="italic">n</tspan> = 372)</tspan></text>
<text transform="translate(325.2 928.4) scale(1 1.045)" text-anchor="middle"><tspan class="gt" dy="0.9">&gt;</tspan><tspan dy="-0.9">3 to </tspan><tspan class="le" dy="-1.9">⩽</tspan><tspan dy="1.9">6 (<tspan font-style="italic">n</tspan> = 249)</tspan></text>
<text transform="translate(468.9 928.4) scale(1 1.045)" text-anchor="middle"><tspan class="gt" dy="0.9">&gt;</tspan><tspan dy="-0.9">6 (<tspan font-style="italic">n</tspan> = 108)</tspan></text>
<text transform="translate(635.9 928.4) scale(1 1.045)" text-anchor="middle"><tspan class="le" dy="-1.9">⩽</tspan><tspan dy="1.9">3 (<tspan font-style="italic">n</tspan> = 801)</tspan></text>
<text transform="translate(779.6 928.4) scale(1 1.045)" text-anchor="middle"><tspan class="gt" dy="0.9">&gt;</tspan><tspan dy="-0.9">3 to </tspan><tspan class="le" dy="-1.9">⩽</tspan><tspan dy="1.9">6 (<tspan font-style="italic">n</tspan> = 460)</tspan></text>
<text transform="translate(923 928.4) scale(1 1.045)" text-anchor="middle"><tspan class="gt" dy="0.9">&gt;</tspan><tspan dy="-0.9">6 (<tspan font-style="italic">n</tspan> = 136)</tspan></text>
<text transform="translate(556.3 956.7) scale(1 1.045)" text-anchor="middle">Age (months)</text>
</g>
<g id="panel-d">
<text transform="translate(1154.8 541.2)" style="font-weight:bold;font-size:16px" class="b">d</text>
<text transform="translate(1711.2 547.7) scale(1 1.045)" text-anchor="middle" style="font-weight:bold;font-size:14.5px" class="b">Ga</text>
<text transform="translate(1479.6 570.3) scale(1 1.045)" text-anchor="middle">Phase 2b</text>
<text transform="translate(1934.2 570.3) scale(1 1.045)" text-anchor="middle">MELODY</text>
<text transform="translate(1168 739.4) rotate(-90) scale(1 1.045)" text-anchor="middle">Antibodies, AU ml<tspan class="su" dy="-4.8">-1</tspan></text>
<path class="dl" d="M1254.7 793.6H1706.2"/>
<text transform="translate(1261.2 838) scale(1 1.045)" style="font-size:20px" class="b">LLOQ</text>
<path class="dl" d="M1710.7 774.6H2157.2"/>
<text transform="translate(1717.2 816) scale(1 1.045)" style="font-size:20px" class="b">LLOQ</text>
<polyline class="p" marker-start="url(#md)" marker-mid="url(#md)" marker-end="url(#md)" points="1345.7,692.7 1345.5,687.2 1328.5,698.6 1336.9,753.5 1327.4,680.3 1303.2,705.4 1338.6,676.4 1322.5,701.9 1330.4,700.9 1378.8,724.7 1341.7,686.3 1297.8,711.6 1315.7,694.1 1337.3,651.5 1325.5,689.4 1359.2,694.3 1340.2,686.7 1360.3,707.3 1358.7,703.6 1342.7,672.5 1341.9,694.1 1332.7,699.6 1338.3,702.4 1312.8,700.9 1383.4,728.9 1317.2,728.7 1328.8,712.5 1336.6,647.8 1319.6,701.9 1336.3,659.5 1335.6,691.8 1333.8,712 1327.3,684.6 1360.4,730.4 1335.1,745.3 1337.5,670.6 1365.9,707.7 1341.1,749.3 1306,702.9 1335.2,661.8 1332.1,691.6 1358.4,696.4 1336.6,657.5 1336.1,679.6 1337.6,759 1329.4,678.2 1336.5,788.8 1320.6,696.7 1356.3,698 1329.5,680.1 1335,687.9 1325.8,684.1 1361.3,696.5 1348.7,688.1 1313.9,739.7 1337.6,664.3 1372.6,708.9 1306.3,706 1339.1,672.1 1330.9,694.3 1326.3,735.4 1313.4,714.9 1331.4,672.6 1370.1,705.8 1309,717.1 1353.6,697 1361.4,693.1 1345.3,678.9 1317.1,691.8 1344.8,686.2 1342.7,687.9 1300.9,723 1340.2,716.7 1311.8,725 1331.3,717.4 1305.5,746.3 1350.2,695.7 1374.8,718.3 1315.3,690.8 1347.1,767.9 1346.4,712.8 1354.5,783.8 1314.2,699.1 1318.2,733.8 1301.5,714.1 1335.9,665.7 1337.8,661.5 1336.9,653.5 1340.7,701 1350.1,723.8 1375.8,706.9 1340.3,771.6 1355.8,728 1315.6,696.8 1355.7,738.9 1358.6,711.5 1336.7,630.6 1331,678.8 1357.8,691 1292.4,726.5 1324.8,694.7 1346.3,680.8 1365.9,718.2 1354.7,693.5 1312,696.6 1328,751.9 1343.4,715.8 1297.3,728 1297.9,704 1357.6,769.9 1339.7,694.3 1325.9,702.4 1322.7,720.1 1341.5,730.8 1329.6,687.6 1344.5,700.2 1337.5,689.6 1337.8,686 1327.7,686.9 1332,681.2 1328.6,696.4 1279.5,732.5 1359.3,735.5 1341.2,673.6 1330.9,675.4 1338.1,722.4 1374.5,713.2 1348.7,720 1369.7,702.6 1325.4,775.1 1312.5,720.7 1356.9,761.8 1341.4,690.8 1367,737.7 1328.9,746.9 1338.9,678.8 1360.2,720.3 1351.9,693.8 1356.5,692.9 1356.2,705.5 1349.6,691.7 1367,704.7 1346.1,703 1344.4,690 1332,685 1364.9,702.3 1347.1,699.5 1338.6,683.6 1335.6,670.4 1323.9,697.2 1317.5,722.9 1335.8,740.4 1354.1,744.6 1311.6,730.1 1360.4,716.4 1356.8,718.4 1346.6,690.3 1390,725.6 1351.3,704.1 1334.8,678.4 1332.6,679.6 1311.7,699.1 1361.4,712.9 1338,659.3 1316.1,700.4 1343.9,675.8 1374.5,736.9 1326.8,725.3 1345.6,727.4 1356.4,713.4 1311.1,704.1 1340.2,688.5 1333.8,683.2 1317.7,709.4 1319.2,706 1318.8,714.7 1347.9,686.5 1313.1,692.6 1315.8,703.1 1322.3,691.5 1313.5,710.2 1336.4,668.4 1325,730.3 1335.2,719.5 1335.9,701 1341.8,682.7 1331.9,687.2 1327.2,705.9 1324.7,715 1305.3,733.8 1340.8,667.6 1313.2,755.6 1346,741.5 1372.6,721.9 1332.7,706.4 1314.6,706.6 1328.6,675.3 1316,718.2 1313.7,695.4 1342.9,755.7 1334,716 1314.6,749.1 1334.2,664.3 1295.9,721.3 1363.1,705.5 1343.3,681.2 1286.5,729.6 1343.9,706 1362.5,743.1 1290.5,721.7 1318.3,742.6 1332.8,669.6 1337.2,698.2 1333.6,703.8 1370.2,716.8 1319.5,751.2 1341.5,676.4 1346.6,685.3 1329.5,757 1327.8,690.2 1357.8,748.2 1305.5,717.8 1331.8,696.1 1331.5,731.8 1299.8,718.6 1338.8,666.1 1298.7,737 1336.1,676.9 1369.3,732.1 1335.9,684.2 1337.4,678 1320.9,699.1 1342.1,702.6 1334.7,673.5 1349,697.9 1309.9,708 1340.5,684.4 1342.8,722.9 1337.6,673.8 1321.7,738.5 1338,713.6 1281.7,728.1 1337.3,687.6 1344.7,718.7 1345.4,683.8 1338.3,692.7 1370.5,713.4 1362.7,698.8 1385.3,733.6 1314.8,689.1 1392.9,732.4 1327.8,692.9 1341.7,696.4 1336.3,705.8 1354.5,689.3 1383.9,723.1 1306.3,751.6 1333.9,675.6 1330,690.2 1332.9,667.5 1340.2,707.8 1299.3,741.7 1330.2,704.1 1321.5,711.7 1343,684.3 1327.9,720.9 1354.4,699.9 1334.3,697 1351,740.3 1340.6,698.7 1326.4,696.7 1326,687 1299.5,707.5 1304.1,727.6 1291.8,734.4 1345.8,709.7 1354.6,722.1 1342.7,678.9 1336.4,672.4 1336.7,643 1285.3,725.1 1373.5,727 1332,723 1351.6,762.6 1307.2,714.2 1302.7,709.5 1355.8,702.2 1340.8,680.7 1334.3,680.2 1316.4,711.9 1341.8,738.5 1376.9,730.8 1344.2,697.2 1332,677.1 1325.3,692.1 1342.3,711.4 1300.1,732.3 1366.8,727 1367,714.8 1336.8,656 1371,741.1 1306.2,710.8 1345.3,694.8 1321.6,717.4 1366.8,721.9 1334.4,669.4 1364,711.2 1331.2,683 1322.5,746.4 1329,682.4 1352.3,690.5 1338.5,700.1 1334.2,686.2 1329.5,685 1349.2,701.4 1362,702 1349.8,707.1 1333.3,672 1312.4,734.9 1327.8,678.3 1331.6,737.1 1365.4,809.5 1395.2,726.4 1336.7,710.6 1322.5,688.5 1306.3,721 1359.7,725.3 1323.8,707.4 1349.2,714.9 1356,695.7 1348,685.2 1352.5,731.5 1326.8,682.6 1310,713.3 1320.2,693.5 1351.8,699.2 1358.6,699.4 1336.5,681.9 1318.9,765.1 1339.2,662.8 1332.8,689.5 1340.2,665 1340.7,670.7 1324.6,699.9 1325.7,710.4 1322.9,704.2 1321.8,723.9 1359.9,809.5 1311.6,744.3 1328.5,708.9 1347.4,682.7 1334.7,694.4 1334,727.5 1317.8,698.1 1338.5,681.9 1353.9,778.5 1351.2,710.8 1369.4,709.9 1352.2,701.3 1318.1,694.8 1315.8,759.9 1337.2,695.9 1339.2,668.7 1347.7,694 1353.3,714.3 1372.7,716.2 1360.3,690.9 1355.5,708.9 1352.9,717.7 1319.7,690.5 1354.6,809.5"/>
<polyline class="p" marker-start="url(#md)" marker-mid="url(#md)" marker-end="url(#md)" points="1496,726.4 1483.5,730.9 1478.5,704 1525.6,739.6 1459,741.9 1469.3,753.2 1473.5,765 1509.9,761.3 1510.2,727.3 1494,730.1 1495.6,773.5 1485.5,741.7 1475.8,700.8 1442.5,792.2 1491.1,778.5 1459.9,754.9 1485.6,699.7 1509.3,734.5 1439.6,751.1 1503.4,716.1 1421.3,772.9 1439,758.9 1488.2,765.6 1468.4,721.1 1466.2,790.9 1422.1,767.6 1448.7,776.2 1469,716.4 1528,726.5 1539.5,755.1 1486.7,702.5 1450.8,786.1 1499.9,718.4 1486.2,735.3 1512.1,767.1 1523.9,744.8 1471.7,710.1 1539.1,750.1 1421.6,735.7 1521.2,737 1490.6,725.7 1480.2,706.1 1444.5,759.1 1478.5,738.1 1501.3,730.6 1453.2,734.8 1475.2,757.1 1501.3,723.5 1538.7,728.6 1534.3,809.5 1511,752.9 1514.4,771.1 1472.7,720.4 1509,789 1525.5,751.4 1434.3,739.6 1471.6,734.1 1516.8,741.7 1427.6,782.2 1451.1,745 1520.8,809.5 1498.3,749.2 1478.7,732.5 1480.5,696.5 1519.1,725.3 1485.1,726 1534.4,724.7 1493.2,762.9 1539.6,761.3 1439.7,809.5 1482.9,716.8 1504.5,744 1424.9,754.2 1486.3,774.3 1538,742.7 1515.3,728.9 1480.2,694.9 1514,757.1 1438.2,780.2 1507.5,722.2 1468.2,711.3 1448.9,732 1426.5,775.7 1475.6,712 1469.8,724.4 1493.7,742.2 1476.9,707.9 1532.1,739.8 1504.6,727 1474.8,740.8 1460.7,782.3 1486.6,748 1449.4,727.1 1427,741.7 1490,719.2 1479.1,697.4 1462.9,768 1464.4,715.1 1518.1,779.8 1462.6,773.5 1456.1,729.9 1507.7,749.2 1487,709.2 1487.5,712.5 1496,719.8 1460.3,716.5 1475.8,749.4 1433.3,781.9 1486.1,753.4 1491.9,746.9 1443.9,733.8 1466.9,764.8 1494,809.5 1482,720 1464.3,760.4 1436.1,727.9 1423.7,731.7 1461.6,725.7 1446.6,742.7 1438.7,723.6 1458.9,737 1444.4,722.7 1464.5,747.7 1478.2,761.2 1486.7,721.8 1532.9,734.5 1529.5,731 1500,738.1 1526.7,784.7 1474.9,705.4 1489.2,731 1465.6,721.7 1480.1,679 1483.8,707.9 1428.7,767.2 1475.8,722.6 1477.8,728.8 1471.5,713.7 1451.8,757.1 1448.8,749.4 1507.8,809.5 1484.8,705.4 1500.6,766.5 1440.4,764.4 1486.8,758.6 1490.7,714.3 1491.4,752.3 1460.4,732.3 1538,783.9 1493.9,736.6 1504.7,755.5 1478.7,713.9 1455.2,723.5 1484.2,713.3 1464.2,734.5 1492.9,722.6 1480.9,701.2 1474.8,783.7 1468.8,735.5 1482.9,703.7 1474.7,708.8 1512.5,737.6 1503.3,734.9 1422.5,750.1 1472.3,729.2 1528.7,763.6 1426.3,729 1491.5,711.2 1529.1,789.8 1442,727.8 1442.5,747.3 1450.6,763 1506.6,731.1 1527.3,773.6 1465.3,729 1457.8,759.2 1433,735.2 1432.3,724.6 1422.2,744.9 1464.6,738.4 1480.5,743.8 1502.6,778.7 1456.9,768 1534.1,729.8 1538,737.1 1459.2,719.9 1519.9,760.4 1507.7,738.6 1424.4,725.4 1480.7,756.3 1518.3,749.7 1445.4,736.9 1516.6,733.5 1449.8,737.1 1477.3,718.6 1539.5,777.3 1487.5,705.3 1455.9,746.9 1436.3,767.7 1439,731.9 1525.6,734.8 1533.3,745.9 1524.3,757.5 1523,725.1 1453.8,809.5 1455.3,753.3 1432.5,792 1480.3,690.1 1473.8,717.3 1481.4,686.4 1440.3,772.9 1479.9,710.1 1539.7,733.1 1512.7,745.1 1531.2,759 1523,730 1522.6,775.9 1427.2,809.5 1426.3,760.3 1482.5,765.2 1480.7,724.2 1467.9,742.6 1456.2,718.9 1427.1,736 1487,718.4 1467.6,809.5 1474.5,770.7 1464,718.4 1479.5,770.1 1504.5,720 1440.4,739.9 1471.6,746.2 1431.7,750.2 1498.3,714.3 1493.2,717.1 1511.8,731.7 1429.4,730.9 1453.6,777 1501.4,788.2 1525,769.2 1533.7,787 1531.3,750.4 1497.9,733.6 1480.1,809.5 1494.9,713 1440.4,735.7 1447.3,753.9 1480.3,693.7 1470.8,779.4"/>
<polyline class="p" marker-start="url(#md)" marker-mid="url(#md)" marker-end="url(#md)" points="1620,735.9 1620.8,763.7 1675,809.5 1638.3,767.2 1612.1,809.5 1653.9,756.3 1629.5,741.2 1616.6,752.9 1651.8,766.9 1572.3,775.6 1666.7,809.5 1623.4,767.9 1587.9,784.3 1624.2,709.7 1630.5,733.2 1614.6,741.9 1572.9,809.5 1627.5,745.7 1577.5,809.5 1615.4,762.4 1662.3,753.6 1608.6,809.5 1635.4,788 1629.7,764.9 1624.1,775 1626.4,736.8 1639.1,746.9 1583.2,753.4 1628.5,725.8 1613.3,748.8 1623.7,809.5 1588.5,759.3 1607.7,749.2 1648.9,771.8 1635.5,782.6 1591.8,765.4 1619,740.4 1589.3,809.5 1578.4,770.1 1580.9,786.9 1624.2,731.5 1600.2,766.9 1569,809.5 1621.2,721 1621.8,744 1584.8,809.5 1604.8,809.5 1579.4,775.4 1632.8,745.4 1572.7,781.4 1662.7,809.5 1679.3,809.5 1653.5,773.6 1679.5,771.6 1596.1,787.5 1617.6,769.3 1668.9,757.4 1600.3,809.5 1593.2,809.5 1664.8,763.3 1677.1,760.5 1680.8,763.7 1654.9,781.4 1607.6,792.1 1650.6,761.4 1627.4,791 1581.2,809.5 1589.6,772.6 1632.3,738.5 1624.1,751.8 1597.4,809.5 1616.8,809.5 1581.3,759.2 1647.4,809.5 1650.5,778.2 1650.2,785.3 1651.4,809.5 1639.7,809.5 1683.1,809.5 1605.2,758.7 1624.2,685.4 1669.9,777.2 1619.4,747.1 1636.4,809.5 1619.8,809.5 1624.6,714 1598.5,758.6 1632.6,809.5 1566,809.5 1594.5,755.5 1582.2,779.8 1640,752.1 1643.9,809.5 1626.5,780 1631,750.8 1617.3,728.5 1643.1,770.9 1670.4,769.5 1658.8,809.5 1658.4,777.5 1655.6,809.5 1671,809.5 1602.5,773.3 1624.2,703.8 1660.1,765.8 1616.6,777.6 1628.6,809.5"/>
<polyline class="p" marker-start="url(#md)" marker-mid="url(#md)" marker-end="url(#md)" points="1826.3,740.4 1842.7,706.4 1738.8,759.3 1783.6,683.9 1739.1,724.7 1741.2,700.7 1792.7,734.7 1802.2,688.4 1770.3,704.8 1812.8,695.1 1810.6,716.9 1782.3,675.9 1780.7,707.2 1780.4,765.1 1808,701.4 1764.9,715.6 1799.4,665.6 1781,678.1 1785.2,714 1847.6,725.4 1785.8,658.3 1766.9,696.9 1786.5,711.5 1736.9,713.7 1804.5,706.3 1788.9,657.2 1804.5,695.9 1785.6,700.9 1790.2,663.1 1788.7,732.2 1836.1,715.6 1768.2,680 1777.9,735.8 1772.8,722 1830.8,717.7 1776.5,681.3 1789.9,660.5 1850.1,735.5 1757.8,717.4 1800.1,684.7 1752,696.8 1745.7,696.3 1805.4,702.6 1789.2,672.5 1816.1,680 1783.9,742.2 1797.7,671.2 1811.1,688.1 1788.4,675.5 1800.9,680.8 1792.4,655.2 1759.4,732.4 1790.9,656.7 1795.3,670.4 1791.9,667 1845.4,761.2 1778.5,719.7 1795.3,699.5 1793,653.1 1794.6,687.4 1815.2,693.6 1831.9,722.3 1778.5,685 1784.7,676.4 1780.9,667.6 1775.6,672.5 1765.2,692.1 1755,714.9 1787.1,657.2 1797.6,691.5 1822.7,717.9 1748.6,703.7 1820.8,707.7 1770.8,678.2 1751.5,704 1802.5,683.8 1816,699.8 1791.7,661 1792.2,674.8 1846.6,722.4 1849.4,704.9 1772.2,696.1 1783,708.2 1842.3,698 1813.4,679.1 1804.8,699.9 1796.7,660.5 1789.8,667.8 1770.8,687.1 1740,711.7 1815.9,687.9 1766,683.6 1831.6,706.3 1798.2,693.7 1796.1,714.3 1840.6,700.5 1760.3,683.1 1787.1,688.1 1753.1,706.2 1741.9,712.6 1752.5,689.5 1848.7,768.1 1806.2,679.8 1755.8,689.2 1771,699 1773.1,691.8 1755.4,698.2 1736.4,720.7 1803.4,714.2 1739.9,738.8 1811.1,707.3 1780.9,710.7 1789.9,649 1797.4,664.6 1736.7,706.8 1827.6,684 1799.8,714.2 1791,649 1791.3,655.2 1801.8,698.2 1804,679.6 1748.5,709.8 1791.4,697.8 1819.2,695.4 1734.3,703.6 1756,712 1736.6,728.7 1768.6,717 1836.4,732 1788.9,737.6 1780.5,714.7 1808.2,705.2 1779.4,700.9 1841.3,708.8 1785.7,663 1739.8,707.4 1785.1,664.5 1764.9,686.1 1755.3,704.9 1804.7,689.2 1759.7,706.4 1785,668.4 1797.7,753.7 1827.4,754.5 1738,709.9 1805,671.6 1769.8,727.3 1745.1,719.7 1798.9,670.1 1764.2,740 1792,741.5 1821.1,714.8 1774.4,673.7 1775.5,705.8 1790.8,635.8 1782.6,712.9 1806.8,738.9 1784.3,695.7 1792.6,658.6 1771.1,681.8 1821.4,701.8 1796.3,737.4 1792.3,716.2 1809,674.7 1789.5,653.5 1845.8,712 1791.5,638.3 1791.1,650.6 1811.3,696.2 1768.6,685.1 1809.2,749 1780.8,694.6 1760,724.2 1786.6,682.2 1738.5,698.8 1787.3,677.2 1753.4,712.3 1829.9,686 1774.4,681 1771.3,693.5 1781.4,671 1801.1,691.3 1774.8,733.2 1741,747.9 1799.2,688.3 1759.5,711.9 1800.9,738.9 1776.1,692.8 1759.7,695.2 1737,701.2 1758.7,688.1 1792,648.5 1771.4,676.3 1785.2,717.3 1838.7,698.9 1821.4,687.1 1839.9,703.5 1779,686.9 1835.4,735.8 1783.7,728.7 1790.9,680.8 1781.6,692.5 1756.5,686.5 1799.3,720 1826.4,690.2 1822.4,705.3 1794.7,658.1 1814,681.2 1845.1,698.6 1800.6,682.8 1816.5,705.6 1793,693 1829.8,736.3 1827.6,708.5 1780.6,724.8 1738,733.3 1784.6,710.3 1817.3,693.1 1731.9,712.7 1762.6,687.4 1804.3,708.9 1793.5,663.6 1763,745 1789.8,652.1 1769.2,694.4 1841,713.5 1830.4,732.4 1827.3,717.1 1788.2,703.3 1763.5,682.2 1798.9,680.1 1814.3,707.2 1837.4,709.4 1752.3,693.9 1808.6,679.8 1794.2,706.1 1801.1,666.8 1790,666 1786.1,707.3 1779.9,696.3 1795.7,674.2 1849.8,722.6 1835.8,701.9 1774.1,686.4 1802.2,702 1797.4,666.4 1796.7,689.4 1824.6,685.5 1748.1,712.2 1807.5,690.9 1849.9,713.9 1850.4,716.5 1760.1,692.6 1843.6,703.7 1791,646 1791.3,662.7 1814.7,735.8 1732.3,700.3 1748.8,739.7 1766.9,705.2 1755.8,691.6 1795.1,749.4 1773.2,701.5 1789.5,695.6 1838,718.4 1748.7,706.6 1843.6,710.1 1785.1,725 1796,696.6 1731.9,726.8 1801.4,717.2 1776.4,688 1793.8,671.4 1778.5,712.6 1774.9,701.1 1788.2,727.9 1828,698.1 1798.9,700.5 1817,696.1 1827.7,711.7 1788.2,684 1816.5,726.6 1771.4,712.1 1801.6,705.6 1808.5,693 1791.2,634.1 1796.4,677 1806.6,712.2 1742.2,730.2 1849.7,701.7 1795.6,683.9 1785.3,675 1829,690.7 1765.1,750.3 1748,723 1800.3,728.8 1786,667 1785.7,704.7 1799.4,697.4 1793.8,708.4 1782.9,671.9 1814.7,684.4 1779.1,679.3 1833.8,719.4 1801.4,674.7 1809.8,676.8 1772.6,675.2 1807.6,695.4 1791.4,645.6 1793,713.5 1802.9,744.4 1793.3,685.4 1788.4,665.7 1811.8,677.5 1846.9,709.2 1824.3,688.3 1774.1,682.6 1793.9,729.1 1800.7,695.2 1744,735.4 1787.7,697.5 1803.5,686.4 1748.6,726.8 1761.8,708.1 1827,714.4 1790.1,664.4 1811.7,681 1797,726.7 1792.7,649.5 1807,673.7 1786.3,790.7 1744.7,707.7 1770.1,707.7 1802.6,675.6 1812.8,712.4 1809.2,720 1846.3,703.7 1786.1,670.1 1763,684.7 1841.7,716.3 1768.8,688.7 1797.2,668.9 1813.3,686.4 1796.5,659.2 1776.6,696.3 1827.5,720 1812.9,700.8 1802.2,711.4 1826.1,695.6 1807.1,698.1 1841.4,719.9 1823.5,712 1738.3,704.1 1817.6,707.3 1787.7,658.7 1734.1,697.3 1824.4,702.1 1836.1,722.4 1785.1,693.6 1743.5,716.1 1812.7,715.7 1777.9,708.2 1793.1,667.8 1799.2,672.7 1733,708.7 1818.8,713.6 1787.7,679.4 1807.6,717.6 1792.3,688.3 1773.8,694.7 1830.6,709.8 1760.6,718 1790.3,657.7 1758.5,690.5 1819.8,727.5 1810.3,694.3 1784.4,670.3 1758.9,703.5 1759.6,699.8 1777.4,747.5 1830.4,692.6 1776.2,702.5 1818.3,686 1788.7,700.2 1844.8,743.5 1743.7,702.4 1830.6,712.9 1824.8,698 1788.5,705.8 1809.2,729.1 1812.8,705.1 1782.7,666.4 1833.4,713.9 1799.8,667.8 1844.2,738 1788,719.3 1805.3,675.5 1775.3,678.5 1791.5,643.6 1761.3,697.4 1788.3,751.4 1824.3,729.3 1766.8,681.5 1744.8,725.7 1836.7,705.1 1796.9,701.5 1797.8,685.7 1846.8,730.9 1790,707.2 1762.4,721.6 1806,757.1 1819.2,717.8 1810.3,678.8 1752.9,708.4 1832.8,698.3 1809,672.6 1827.9,688.5 1781.8,679.7 1757.8,698 1795.2,691.9 1802,678.4 1808.5,688.4 1750.2,719.8 1775,689.7 1822.2,682.5 1764.7,702.7 1799.5,707.6 1768,692.5 1782.9,705 1768.3,700.3 1806.3,687.1 1762.3,711.3 1804.7,718.3 1813.5,688.8 1835.7,726.1 1755.9,683.4 1847.8,699.9 1795.7,711.5 1796.4,667.3 1748.7,715.7 1797.5,675.6 1736.3,725.3 1785.5,686 1764.1,735.6 1832.4,701.5 1781.3,702.4 1785.7,679.5 1732.3,736.8 1793.7,673.4 1763.3,725.9 1778,722.9 1804.8,722 1832.6,725.3 1733.6,706.1 1789.5,661.9 1804,673.6 1787.5,667 1767,690.5 1793.7,661.4 1825,716.8 1768.7,735.9 1803.5,682 1822.4,690 1731.8,722 1835.9,699.6 1833,704.5 1805.1,692.1 1781.3,737.7 1780.6,672.8 1773.4,704.8 1777.6,729.2 1780.3,681.7 1798.2,683.1 1789.6,655.3 1792.6,654.4 1844,701 1761.6,681.5 1794.1,656.7 1794.2,675.6 1819.4,697.8 1763.5,699.1 1832.9,708.5 1774.6,726 1791.2,704.3 1753.5,717.8 1792.9,670.8 1789.6,649.8 1770.3,690.8 1734.5,711.4 1789.1,712.8 1830.5,703.2 1823.6,709 1794.5,659.6 1782,717.8 1790.4,648.1 1786.9,659.5 1751.5,735.5 1767,708.3 1797.6,717.8 1791.4,647.1 1826,693.5 1780.9,665.8 1733.7,731.6 1830.7,696.4 1809.7,734.7 1812.1,683.5 1766.6,701.8 1832.1,742 1807.5,676.4 1797.2,706 1783.8,681.4 1793.7,696.1 1755.1,752.7 1836.8,713.1 1737,717.5 1777.4,678.3 1801.8,668 1791.3,642.6 1847.2,755.5 1756.2,724.6 1788.3,656.7 1828.7,695 1796.6,681.6 1768.3,720.8 1787.3,669.6 1831.3,728.3 1763.6,706.2 1798.6,677.2 1845.2,728.1 1791.6,721.5 1763.7,695.9 1810,685.1 1805.2,726.9 1820,689.5 1777.8,716.3 1818.2,691 1789.9,686.7 1791.7,678.1 1810.5,710.4 1766.4,723.3 1819.5,721.1 1753.3,691.6 1795.2,668.7 1836.6,696.4 1756.5,736.2 1749.3,700.9 1803,694.4 1850.6,698.9 1824.8,734.8 1797,732.2 1774.7,715.1 1813.8,722 1758.4,728.2 1835.3,710.7 1772.2,684.2 1790.2,689.5 1762.9,693.5 1757.5,708.8 1813.6,709.5 1806.6,707.1 1753.9,684.3 1787.7,722.4 1789.6,670.3 1791.5,645.2 1791.4,643.8 1800.8,670 1800.7,676.3 1805.2,683.9 1820.1,692 1826,699.6 1787.5,662.4 1765.8,719 1786.9,673 1753.8,702.2 1794.8,662.8 1791.7,670.9 1845.9,715.3 1790.8,691.8 1746.4,702.4 1835.1,706.7 1826.5,746.4 1791.2,659.5 1820.5,684.4 1805.7,730.9 1802,672 1814.6,691.3 1822.3,694.1 1827.8,703.8 1798.6,710.6 1782.8,668 1825.4,683 1779.3,692.9 1742.9,698.3 1770.3,724.1 1839.9,728.4 1785.7,771.3 1784,666.8 1817.3,683.1 1740.3,715.2 1744.5,743.4 1790.8,631 1791.1,640.8 1789.6,678.5 1784.1,721.5 1795.5,761.9 1798.5,723.3 1772.4,689.1 1788,670.9 1734,715.5 1745,713.2 1792.2,653.7 1782.7,670 1800.3,671.2 1795.1,664.3 1783.2,674 1796.4,663 1791.6,663.6 1818.8,700.5 1761.7,689.7 1768.4,682.4 1784.1,698.4 1795.6,672.1 1788.5,681 1746.4,706.1 1769,714.2 1742.3,708.7 1783.6,687.8 1770.7,731.6 1770.1,702 1811.7,727.2 1845.6,706.4 1762.7,714.7 1739.6,702.2 1788.2,716.1 1839.2,722.2 1741.1,719.6 1781.4,699.8 1756.4,700.4 1775.7,684.6 1824.6,722 1816.9,711.8 1783.4,678.5 1849.3,710.7 1792.5,662.5 1793.9,722.6 1773.9,708.8 1771.5,743.1 1765.3,729.5 1784,732.5 1777.3,694.3 1758.3,720.3 1827.5,728.2 1754.7,693.6 1824.2,691.7 1791.3,641.2 1793.6,669.7 1822.1,696.7 1807.7,709.6 1745.2,700.3 1764.9,689.7 1750.6,730.5 1827.5,724 1769.4,676.4 1787,663.6 1817.3,723.5 1776.2,675.8 1771.2,719.6 1750.7,713.9 1809.2,682.4 1773.6,711.6 1781.1,683.3 1790.6,675.7 1798,745.4 1822.8,725.1 1772.4,679.7 1777.6,690.3 1741.5,705.2 1780.7,670.1 1790.3,655 1848.1,719.4 1810.7,699.9 1788.3,693.8 1771.3,715.5 1740.6,727.2 1756.4,730.5 1779,676.1 1776,711.9 1774.8,719.4 1791,668.9 1791.1,725.6 1810.9,675.2 1791.2,701.1 1761.5,701.8 1839.9,725.2 1756.8,742.6 1816,715.5 1783.2,690.3 1754.1,696.1 1766.8,687.6 1844.5,719 1787.3,665.3 1825.6,706.5 1841.1,732.6 1756.9,695.6 1822,699.7 1792.8,651.7 1815.8,702.6 1751.4,710.8 1735.2,740.9 1794.3,667.2 1805.2,677.5 1782.4,685.8 1754.4,720.7 1801.5,733.6 1745.7,710.7 1810.4,723.8 1806.4,682.1 1791.4,652.5 1793.7,681.8 1772.7,706.5 1819.8,741 1790.7,653.7 1770,790.7 1751.5,724.1 1752.9,686.9 1823.8,758.6 1777.6,674.7 1794.7,703.4 1773.1,677.1 1815.3,730.9 1850.4,707.9 1795.2,666.6 1801.3,725.4 1788.2,663.1 1781.1,675.2 1820.3,746.1 1798.6,667.3 1792,657 1778.2,682.2 1791.5,647 1795.2,718.3 1742.6,722.6 1789.3,654.5 1778.9,704.9 1788.2,660.7 1758.9,685.3 1795,694.4 1819.5,733.7 1795.9,661.9 1793.3,690.7 1810.3,714 1766.7,712.5 1752.3,700 1791.8,654.4 1785.3,671.7 1777.4,672.7 1791.5,695 1792.1,665.2 1793.9,679 1810.1,690.3 1843.6,723.9 1769.9,710.4 1785.6,660.7 1828.5,700.9 1790.5,683.7 1778.3,710.1 1787.9,690.3 1766.5,695.4 1756.7,693.4 1785.9,691.1 1774.8,676.8 1734.5,700.9 1760,714.9 1732,703.7 1790.3,710.1 1754.2,727.8 1813.8,697.2 1819.7,711 1839.5,706.6 1747.4,698.5 1748.9,747.7 1789,659.1 1790.9,639.9 1764.6,710.1 1733.6,718.6 1781,688.7 1796.1,679.3 1798.9,674.3 1814.8,740.8 1811,705 1791.1,672.8 1807.4,684.6 1840,710.9 1819.3,704 1813.7,718.1 1793.9,665.7 1811.3,692.4 1775.3,698.5 1810.5,702.4 1760.4,687.4 1779.2,752"/>
<polyline class="p" marker-start="url(#md)" marker-mid="url(#md)" marker-end="url(#md)" points="1975.9,736 1948.4,720 1929.8,790.7 1938.4,692.6 1877.2,790.7 1903.3,733.5 1923,704.4 1980.6,729.7 1939.3,700 1947,711.8 1936.7,733.5 1936.9,690.2 1883.7,741.4 1934.1,710 1933.1,728.6 1904.7,747.3 1884.9,720.5 1976.7,771.6 1931,694.9 1917.4,704.9 1993.2,738.3 1934.4,697.6 1965.5,761.2 1979.4,739.1 1948.2,770 1935.2,683.1 1930.1,708.4 1893.2,718 1889.3,722.6 1969.8,764.1 1983.8,747.6 1992,763.6 1877.3,755.6 1962.9,737.5 1994,733.5 1945.7,746.9 1928.7,771.6 1926.6,747.1 1948.6,739 1885,759.8 1934.4,673.3 1935.8,699.8 1971.3,790.7 1936.5,686.5 1894.2,734.2 1876,735.3 1898.8,736.3 1881.6,732.1 1891.6,745.7 1931.3,692.2 1984.2,744.7 1950.9,727.8 1916,754.1 1993,743.4 1990,737.1 1991.3,730 1945.5,714.5 1936.9,702.7 1926.5,706.7 1976.2,758.9 1964.7,747.6 1883.6,729.3 1973.3,732.1 1942.2,741.8 1955,761 1940.5,737.2 1879,739.3 1992.8,726.8 1911.7,742.8 1888.6,758.2 1977.9,723 1958.4,769.2 1935.1,669.5 1963.6,754.8 1895.1,759.8 1935.3,718.7 1889.5,753.2 1935.7,745.6 1905.6,729.6 1974.9,739.3 1985.4,741.4 1970.3,745.4 1955,705.2 1952.1,723.8 1926.3,750.9 1939.4,766.3 1924.2,718.2 1880,763 1947.4,750.5 1986.7,724.7 1900.3,740.3 1919.6,729.1 1947.1,742.7 1930.4,703 1890.6,732.4 1958.4,710.5 1891.1,749.2 1898.4,722.6 1961,722.5 1965.9,744 1883.3,751.8 1993.5,746.6 1942.7,755.8 1893.9,724 1920.5,757.8 1931.3,711.8 1931.6,699.3 1939,703.7 1933.9,691.6 1880.9,755.5 1987.8,747.8 1974.6,718.5 1916.5,708.1 1935.3,769.4 1918.5,715.6 1941.7,733 1886,754.7 1915.4,726.9 1892.6,764.7 1933.4,693.7 1906.2,753.8 1917.5,711.7 1919.4,741.8 1961.3,746.8 1923.8,728 1902.3,743.5 1956.8,739.2 1943.8,763.2 1945.4,758.9 1907.2,765.8 1899.8,729.6 1890.6,740.5 1913.1,737.2 1900.3,752.4 1933.8,699.5 1927.4,755.1 1949.7,712.3 1952.7,757.7 1956.3,732.8 1979.5,753.5 1914.8,771.9 1880.3,748 1934.1,689.9 1933.6,748.1 1924.8,732.5 1955.3,745.9 1900,759.4 1930.4,697.8 1951.3,751.3 1966.3,790.7 1935.2,680.5 1956,773.4 1932.9,688.1 1887.6,749.3 1981.3,733.9 1950.6,790.7 1901.7,764.5 1991,768.1 1933.7,685.1 1943.9,721.9 1900.8,726.3 1883.6,746.7 1880.6,722.8 1902.8,768.6 1934.5,737.2 1961.1,790.7 1938,696.2 1929.9,731.2 1913.2,790.7 1941.3,752.4 1905.3,761 1896.6,726.5 1902.9,737.6 1938.1,755 1934.8,790.7 1919.2,747.1 1976,751.4 1961.1,713.5 1980.9,768.9 1937.5,721.3 1988.5,760.2 1903.2,790.7 1969.2,736.9 1949.2,761.9 1965.5,734.9 1930.7,700.8 1875.6,761.8 1983.2,761.2 1935.2,695.2 1948,708.2 1924.2,764.9 1940.2,790.7 1876.9,742 1991.7,753.3 1947.9,754.3 1953.9,720.5 1929.4,717 1937.5,707.5 1912.2,720.5 1953.4,736.6 1916.8,744.7 1889.6,719.4 1911,730.5 1936.4,698.3 1914.2,741 1939.2,744.1 1963.1,743.1 1958.3,748.1 1961,727.3 1915,717 1885.8,734 1931.5,705.9 1962.7,765.6 1981.2,742.3 1919.4,790.7 1935.7,713.4 1889,736 1952.8,767.3 1930.5,751.5 1985.2,765.6 1880.8,758.9 1977.1,790.7 1991.5,748.6 1964.1,721.5 1905,717.8 1934.8,679.8 1920.3,707 1966.4,712.6 1968.2,754.1 1895.6,751.9 1982.7,751.1 1897.7,790.7 1944.9,718.4 1935.6,688.5 1930,745.8 1989.8,740.2 1955.6,790.7 1968.2,750.5 1944,750.6 1935,674.4 1887.3,744.2 1973.8,767.8 1891.4,727.4 1936.2,727 1930.7,766.6 1982.7,790.7 1973.6,756 1976.7,763.9 1905.8,713.2 1925.7,737.9 1909.7,740 1931.7,738.7 1889.7,761.4 1958.8,756.4 1923.9,709.4 1893.2,742.8 1979.5,757 1921.3,752.8 1992.1,790.7 1992.8,757.2 1957.1,729.6 1984.6,755.2 1935.7,763.5 1907.4,735.2 1970.6,771.9 1955.8,725.1 1918.3,750.7 1971.6,748.1 1959,742.8 1909.1,770.4 1951.1,716.6 1931.9,690.1 1957.8,720.1 1922.3,736.7 1880.4,735.6 1985.1,730.7 1957.2,714.1 1894.1,729.9 1938.3,698.7 1933.7,723.4 1945.8,790.7 1920.3,760.7 1877.9,731.1 1969.2,717.9 1988,756.9 1903.5,721.3 1975.7,727.1 1941.4,748 1893.2,756.1 1915.7,721.6 1903,756 1971.1,725 1964.9,724.6 1934.5,686.9 1920.4,724 1975.3,747.9 1897.4,718.1 1985.8,772.3 1938.1,730 1929.9,720.6 1987.5,744 1916.6,761.4 1987.2,790.7 1914.1,745.9 1946.8,704.6 1982.3,725.8 1972.6,741.9 1884.3,768.1 1882.7,790.7 1958.8,707.1 1932.6,716.4 1923.3,748.8 1923.8,770.1 1886.5,726.2 1940.6,723.9 1876.8,766.1 1923.9,790.7 1910.6,754 1918.8,765.4 1934.4,676.9 1953.7,712.1 1948.8,725 1922.3,745.4 1932.7,695.6 1962,717.1 1937,694.2 1993.6,773.3 1926.4,714.1 1938.1,750.3 1942.6,711.8 1961.4,740.5 1920.3,719.3 1910.8,734.4 1935.1,701.3 1876.3,749.9 1979.6,719 1939.3,715.6 1946.2,728.6 1950.2,746.2 1917.3,735.2 1972.6,739.2 1983.2,738.7 1967,768.1 1921.3,716.1 1895.8,747 1915.8,731.3 1952.1,732.7 1954.3,742.2 1985.7,750.7 1898.9,732.9 1889,768.1 1898,755.9 1972.2,752.1 1975.9,715 1961.9,773.8 1876.9,726.2 1933.5,756.4 1942.8,745.1 1969.6,732.4 1990.2,723.6 1968.1,757.7 1961,758.6 1906.5,741.7 1932.8,700.7 1972.1,715.4 1907.8,745.8 1945.4,739.3 1977.9,733.3 1933.4,702.4 1913.2,749.3 1912,709.1 1922.1,711.8 1900.2,715.6 1876.2,772.4 1926.8,743.7 1909.6,715.9 1969.4,740.9 1927,710.6 1930.5,758.9 1914.2,713.4 1919.2,737.4 1914,705.8 1934.6,682.8 1887.5,730.4 1934.3,752 1913.9,758.2 1971.8,721.4 1964.1,751.2 1902.7,749.8 1926,758.5 1943.9,703.7 1934.8,656.5 1934.5,665 1939.6,758.6 1881.1,742.1 1885.3,737.7 1913.4,766.7 1955.9,752.3 1920,732.8 1965.5,740.1 1959.4,733.8 1894.7,713.6 1934.9,681.5 1898.5,743.5 1964.2,710.3 1939.2,710.7 1931.8,742.8 1880.9,770.9 1905.7,723.6 1971,759.4 1939.2,701.8 1887.1,764.4 1947.5,733.7 1925,722.3 1968,728.6 1887.2,790.7 1953.6,748.4 1902.5,729.2 1951.2,707.5 1979.5,750.3 1976.8,743.7 1922.6,741.1 1964.3,730.4 1935.2,741 1935.5,692.8 1958.2,764 1979.9,745.6 1900.5,746.5 1944,708.1 1972.5,735.7 1911.1,723.9 1892.8,790.7 1880.3,729 1986.3,735.1 1935.1,704.1 1927.4,762.9 1912.3,761.6 1929.2,740.8 1988.3,752.9 1937.7,700.1 1908.2,790.7 1896.8,763.5 1877.4,746.1 1983.1,721.3 1908.1,720.5 1941,727.8 1929.4,735.3 1955.4,709.5 1908.4,758.4 1892.4,773.1 1947,730.4 1946.9,765.2 1896.4,739 1909.2,750.7 1940.5,707.1 1901.2,773.7 1929.2,727 1908.7,726.8 1897.7,767.9 1879.2,752.2"/>
<polyline class="p" marker-start="url(#md)" marker-mid="url(#md)" marker-end="url(#md)" points="2085,747.4 2024.3,790.7 2114.2,790.7 2110.9,790.7 2046.3,755.9 2082.1,736.8 2051.9,772.7 2078.3,694.4 2136.1,755 2118.7,769.3 2050.9,745.9 2067,790.7 2137,790.7 2059.2,760.1 2125.9,761.3 2080.2,790.7 2032.2,790.7 2063.3,790.7 2044.8,790.7 2026.6,790.7 2097.9,790.7 2066.8,766.8 2063,743.5 2116,759.1 2074,790.7 2135.6,770.6 2128.4,772 2051.3,790.7 2070.9,763.7 2036.1,765.2 2111.5,751.3 2078,730.1 2062.6,753 2087.8,756.8 2036.9,750.9 2033.7,760.4 2059.1,747.8 2103.8,763.1 2127.1,790.7 2086.5,734.6 2080.8,768.7 2078.3,704 2124.7,754.6 2093.2,759.5 2076,735.2 2089.5,742.5 2080.3,733.2 2135.1,790.7 2121.4,790.7 2091.1,737.8 2072.1,790.7 2040.6,790.7 2080.1,762.6 2066.5,734.9 2059.2,765.8 2071,744.9 2079.2,721.4 2105.8,790.7 2098.7,766.1 2057.3,773.1 2019.1,790.7 2079.2,755.4 2043,790.7 2020.6,757.2 2121.1,750.5 2056.4,790.7 2103.3,790.7 2130.8,757.9 2078.3,702.2 2077,719 2077.9,723.4 2071.4,738.2 2093,790.7 2087.1,790.7 2026.2,752.3 2037.7,790.7 2095.9,790.7 2106.9,768.5 2081.7,790.7 2078.3,674.4 2113.6,772.4 2076.1,741 2053.8,790.7 2078.2,731.3 2082.9,741.5 2064.9,748.2 2103.6,744.3 2113.2,763.4 2053.5,758.7 2099.2,758.2 2093.7,744.7 2135.1,763.4 2116.3,790.7 2098.3,742.2 2078.3,672.4 2058.9,790.7 2021.2,790.7 2085.7,763.3 2078,726.4 2080.7,678.2 2076.4,790.7 2036.1,770.5 2109.7,759.6 2109.3,746 2078.3,691.2 2078.3,714 2078.9,746.6 2048.1,790.7 2084.4,790.7 2100.1,790.7 2063.7,737.9 2029.8,790.7 2046.1,761.1 2119.2,790.7 2035.5,790.7 2052.4,752.4 2090.3,790.7 2083.6,752.4 2124.2,790.7 2132.2,749.8 2039,756 2131.8,790.7 2075.9,678.2 2061.4,790.7 2123.9,766.1 2078.4,728.1 2045.1,748.8 2028.6,767.2 2129.1,790.7 2108.7,790.7 2091.5,764.5 2089.9,750.3 2073.8,768.5 2078.3,665.3 2050.7,762.9 2068.8,790.7"/>
<path class="ax" d="M1238.6 586H1255.2V891.6M1238.6 840.7H1255.2M1238.6 789.7H1255.2M1238.6 738.8H1255.2M1238.6 687.9H1255.2M1238.6 637H1255.2M1238.6 891.6H1706.3M1711.2 585.4V891.6H2159.6M1336.1 891.6V908.1M1479.9 891.6V908.1M1623.4 891.6V908.1M1790.6 891.6V908.1M1934 891.6V908.1M2077.4 891.6V908.1"/>
<text transform="translate(1234.8 897.2) scale(1 1.045)" text-anchor="end">1</text>
<text transform="translate(1234.8 846.3) scale(1 1.045)" text-anchor="end">10</text>
<text transform="translate(1234.8 795.3) scale(1 1.045)" text-anchor="end">100</text>
<text transform="translate(1234.8 744.4) scale(1 1.045)" text-anchor="end">1,000</text>
<text transform="translate(1234.8 693.5) scale(1 1.045)" text-anchor="end">10,000</text>
<text transform="translate(1234.8 642.6) scale(1 1.045)" text-anchor="end">100,000</text>
<text transform="translate(1234.8 591.6) scale(1 1.045)" text-anchor="end">1,000,000</text>
<path class="bx" d="M1293.5 688.4H1380.3V721.9H1293.5ZM1293.5 702.6H1380.3M1336.9 688.4V672M1314.5 672H1359.3M1336.9 721.9V809.5M1314.5 809.5H1359.3M1437.1 724.1H1523.9V760.6H1437.1ZM1437.1 738H1523.9M1480.5 724.1V707.4M1458.1 707.4H1502.9M1480.5 760.6V809.5M1458.1 809.5H1502.9M1580.8 756H1667.6V809.5H1580.8ZM1580.8 773H1667.6M1624.2 756V738.9M1601.8 738.9H1646.6M1747.8 681.2H1834.6V715.4H1747.8ZM1747.8 699.3H1834.6M1791.2 681.2V664.2M1768.8 664.2H1813.6M1791.2 715.4V790.7M1768.8 790.7H1813.6M1891.4 720.3H1978.2V754.6H1891.4ZM1891.4 739H1978.2M1934.8 720.3V703.8M1912.4 703.8H1957.2M1934.8 754.6V790.7M1912.4 790.7H1957.2M2034.9 749.4H2121.7V790.7H2034.9ZM2034.9 764.1H2121.7M2078.3 749.4V732.7M2055.9 732.7H2100.7"/>
<text transform="translate(1336.7 928.4) scale(1 1.045)" text-anchor="middle"><tspan class="le" dy="-1.9">⩽</tspan><tspan dy="1.9">3 (<tspan font-style="italic">n</tspan> = 371)</tspan></text>
<text transform="translate(1480.3 928.4) scale(1 1.045)" text-anchor="middle"><tspan class="gt" dy="0.9">&gt;</tspan><tspan dy="-0.9">3 to </tspan><tspan class="le" dy="-1.9">⩽</tspan><tspan dy="1.9">6 (<tspan font-style="italic">n</tspan> = 249)</tspan></text>
<text transform="translate(1624 928.4) scale(1 1.045)" text-anchor="middle"><tspan class="gt" dy="0.9">&gt;</tspan><tspan dy="-0.9">6 (<tspan font-style="italic">n</tspan> = 107)</tspan></text>
<text transform="translate(1791 928.4) scale(1 1.045)" text-anchor="middle"><tspan class="le" dy="-1.9">⩽</tspan><tspan dy="1.9">3 (<tspan font-style="italic">n</tspan> = 801)</tspan></text>
<text transform="translate(1934.7 928.4) scale(1 1.045)" text-anchor="middle"><tspan class="gt" dy="0.9">&gt;</tspan><tspan dy="-0.9">3 to </tspan><tspan class="le" dy="-1.9">⩽</tspan><tspan dy="1.9">6 (<tspan font-style="italic">n</tspan> = 460)</tspan></text>
<text transform="translate(2078.1 928.4) scale(1 1.045)" text-anchor="middle"><tspan class="gt" dy="0.9">&gt;</tspan><tspan dy="-0.9">6 (<tspan font-style="italic">n</tspan> = 136)</tspan></text>
<text transform="translate(1711.4 956.7) scale(1 1.045)" text-anchor="middle">Age (months)</text>
</g>
<g id="panel-e">
<text transform="translate(-0.3 1081.2)" style="font-weight:bold;font-size:16px" class="b">e</text>
<text transform="translate(556.1 1087.7) scale(1 1.045)" text-anchor="middle" style="font-weight:bold;font-size:14.5px" class="b">Gb</text>
<text transform="translate(324.5 1110.3) scale(1 1.045)" text-anchor="middle">Phase 2b</text>
<text transform="translate(779.1 1110.3) scale(1 1.045)" text-anchor="middle">MELODY</text>
<text transform="translate(12.9 1279.4) rotate(-90) scale(1 1.045)" text-anchor="middle">Antibodies, AU ml<tspan class="su" dy="-4.8">-1</tspan></text>
<path class="dl" d="M99.6 1331.5H551.1"/>
<text transform="translate(106.1 1357) scale(1 1.045)" style="font-size:20px" class="b">LLOQ</text>
<path class="dl" d="M555.6 1321.4H1002.1"/>
<text transform="translate(562.1 1347) scale(1 1.045)" style="font-size:20px" class="b">LLOQ</text>
<polyline class="p" marker-start="url(#me)" marker-mid="url(#me)" marker-end="url(#me)" points="183.8,1189.6 169.2,1215.3 205,1251.5 200.9,1235.6 173.8,1220.4 182.2,1185.7 182.7,1181.9 171.6,1248.5 213.1,1229.9 157,1263.1 158.6,1222.7 204.8,1221 159.6,1232 200.8,1218.2 170.9,1241.6 188.5,1199.6 183.5,1190.5 203.4,1223.5 164.3,1229.8 198.4,1220.4 169.3,1206.7 170.2,1210.1 210.4,1227.5 191.3,1226 164.5,1236.3 174.2,1209.4 145.6,1232.2 140.7,1240 198,1281 168.3,1247.4 172.1,1202.7 190.7,1212.9 196.3,1216.3 176.8,1248.7 160.5,1221.4 166.3,1218.9 162.2,1226.6 175.4,1199.5 147.1,1246.2 182,1173.2 174,1203.4 190.7,1229.5 182.8,1184.5 168.8,1222 169.5,1235 173.1,1215.8 185.5,1234.1 202.4,1226 204.8,1247.5 190.5,1241.8 205.8,1225.8 182.7,1236.7 176,1204.1 176.2,1210.6 170.2,1208.2 218.3,1236.8 193.4,1204 175.8,1225 186.2,1230.7 188,1255.2 212.9,1254.2 180,1192.6 156.3,1231 174.9,1207.1 170.5,1229 194.6,1208.5 182.6,1184.3 194.8,1236.8 227.5,1239.1 227.6,1235.7 192.8,1233.6 212.9,1242.5 185.7,1199.9 206,1237.9 178,1209.2 142.4,1235.8 184.2,1213.3 195.4,1270 193.4,1227.9 218.6,1243.6 217.6,1230.8 181.5,1227.8 178.7,1237.7 177.8,1202.3 177.5,1205.6 162.3,1246 175,1265.6 167.2,1254.8 180.2,1219 169,1238.1 184.4,1205.4 198,1214.4 188.6,1266.9 167.6,1210.6 182.2,1243.6 175.5,1213.8 183.2,1188.6 183.7,1195.9 187.3,1197.1 179.9,1207.4 214.9,1234.2 193.2,1224.6 166.5,1243.3 183,1218.6 151.2,1245.9 214.7,1250.4 194.5,1263.5 182.6,1177.1 182.2,1190.1 189.3,1232.5 184.5,1190.2 195.7,1276.1 169.5,1217.4 183,1204.1 177.8,1241.6 168.5,1231 184.5,1241.4 220.5,1241 182.2,1175.2 181.1,1190.7 203.8,1233.6 213.5,1227.1 157.1,1238.8 177.5,1197.9 158.3,1243.5 192.8,1214.4 197.7,1212.5 168,1279.1 184.9,1198.6 202.1,1231.1 180.6,1189.9 208.6,1224.8 181.6,1214.3 214.1,1239.8 161.8,1223.6 182.2,1181.4 185.6,1223.1 179.7,1223.3 195.8,1210.5 158,1226 184.3,1247.6 206.7,1232.1 182.3,1201.5 171.5,1331.8 189.4,1219.7 187.9,1227.7 172.1,1210.1 202.3,1297.4 182.8,1198.9 172.4,1226.4 153.6,1241.7 183,1186.2 179.9,1210.1 189.2,1204.5 173.4,1233.4 186.2,1202.8 180.9,1256.3 188.8,1201.9 183.8,1207.7 196.9,1228.4 179.4,1195.1 181.9,1208.6 183.7,1225.1 179.7,1204.1 154.7,1246.2 181.9,1264.3 179.6,1225.6 184.1,1229.3 182.1,1178.2 165.5,1250.3 207.7,1263.9 191.9,1219.6 192.5,1207.2 158.8,1235.3 206.3,1223.3 193.3,1256.8 167.7,1224.9 154.6,1253.9 182.7,1194.9 177.9,1196.6 210.3,1256.8 201.2,1244.2 185.6,1215.8 173.7,1205.3 182.5,1186.5 196.1,1222.6 201.6,1221.9 189.6,1235.7 177.9,1260.6 218.9,1247.7 146.3,1235.9 195.6,1247.8 195.1,1231 224,1235.6 179.1,1196.7 182.9,1193.7 153.2,1226.4 184.2,1259.8 191.9,1205.1 171.7,1218.2 153.3,1233.1 153.1,1257.1 150.4,1226.6 185.5,1194.4 170.7,1258.9 182.3,1184.8 186.5,1199.1 219.8,1233.3 204.4,1229.8 206.9,1228.6 155.6,1228.8 181.7,1189 159.4,1228.6 171.2,1204.9 167.5,1213.3 204.6,1257.4 178.8,1215.8 176.8,1219.7 186.6,1217.9 184.5,1201.8 173.4,1229.6 173.3,1253.6 182.5,1179 150.4,1234.4 194.4,1220.7 183.8,1199.5 182.3,1211.5 193.9,1216.8 195.4,1213.8 205.1,1241.7 180.6,1195.8 169.4,1273.2 183.1,1192.3 180,1231 166.4,1214.7 151.7,1238.2 166.1,1232.8 208.6,1235.1 189.3,1282 188.7,1211 146.9,1239.9 186.5,1237.4 161.4,1259.6 181.8,1186.5 209.7,1249.7 158.1,1250.3 213,1236.7 190.3,1245.7 176.2,1216.1 190.1,1206.4 165.4,1221.3 191.4,1217.3 191.2,1201.2 164.7,1224.7 138.4,1239.6 183.3,1186.6 191.2,1202.5 180.1,1201.9 146.2,1243.4 180.1,1234.5 201.4,1239.6 186.4,1206.8 186.1,1209 198.7,1260.7 176.5,1231.5 199.2,1250.2 180.4,1271.2 195,1225.2 191.4,1210.3 194.6,1292.4 208.9,1240.5 188.1,1224.5 209.2,1230 151.2,1249.5 208.9,1245.3 165.9,1268 200.9,1268.5 156.3,1224.3 178.6,1252.7 160.7,1238.6 182.8,1231.2 174.1,1240.8 197,1233.8 196,1218.6 182.1,1196.2 169.8,1212.5 166.3,1262.3 189.1,1216.8 163.1,1241.5 183.2,1215.9 163.8,1287.1 168.3,1208.6 180.2,1212.8 178.3,1213 198.2,1224.9 176.3,1228 181.3,1199.5 188.8,1208.9 179.7,1193.9 187.1,1213 187.7,1248.8 199.7,1230.4 190.7,1238.6 181.2,1197.3 178.2,1217.4 222.8,1239 172.9,1245.3 184.2,1251.4 171.4,1214 179.5,1199.1 176.4,1245.5 191.8,1222.4 194,1243.8 182.5,1181.8 173.2,1223.3 195.7,1252.8 172.6,1211.9 182.2,1187.7 181,1194.1 180.6,1216.6 184.5,1192.2 198.7,1216.4 149.6,1241.3 181.3,1206.1 174.3,1218 186.7,1244.7 174.5,1201.3 170,1226.2 181.7,1221 182.4,1180.4 151.3,1229.2 147.9,1252.3 138.4,1235.2 215.9,1228.5 215.5,1246.1 200.5,1223.7 177.1,1199.9 174.9,1236.6 185,1210.9 195.6,1206.3 181,1188.3 166.3,1228.1 182.3,1171.6 158,1255.8 199.7,1255.4 206.7,1274.2 183.7,1193.9 185.9,1196.7 185.4,1193 169.2,1219.7 182.2,1183.5 154.5,1237 167.2,1217 172.6,1207.4 182.2,1175 190.8,1250.9 182.5,1180 148.7,1231.1 190.6,1215 181.5,1192.8 193.4,1211.5 197.6,1245.2 162.5,1233.6 185.2,1220.2 176.3,1222.3 198.1,1241.5 171.2,1224.1 169.2,1308.3 211.5,1232.9 180.7,1247.9 189.1,1222.3 184.5,1197"/>
<polyline class="p" marker-start="url(#me)" marker-mid="url(#me)" marker-end="url(#me)" points="374.7,1250.6 274.5,1254.1 310.9,1263.2 326.9,1225.9 306,1272.8 268.1,1261.5 302.9,1268.8 295.9,1290.3 350.6,1308.7 324.4,1217.3 316.6,1289.1 281.2,1244.3 358,1310.5 330.3,1223.4 384.1,1267.5 382.6,1272.8 355.8,1292.6 327.4,1218.8 306.6,1266.4 282.1,1277.9 326,1260.4 381.7,1286.2 287.6,1257.4 299.1,1263.3 325.1,1227.5 353.9,1266.5 329.1,1220.2 286,1251 272.3,1248.1 357.4,1260.2 375.4,1271.4 290.5,1246.1 380.1,1247.6 316.9,1275.1 369.8,1272.4 336.7,1243.1 324.2,1274.6 327.5,1254.6 312.6,1234.9 307.3,1286.4 325.9,1233.4 326,1267.9 322,1231.6 322.2,1265.2 268.1,1279.2 292.7,1285.5 318.8,1234.4 275.7,1292.3 358.2,1246.5 368.3,1290.7 321.6,1254.2 313.7,1238.5 351.6,1255.1 267.3,1284.8 359.4,1286.5 288,1278 324.1,1224.9 323.8,1230.5 328.9,1280.1 278.1,1272.6 361.9,1262.7 348.2,1294 341.5,1245.3 309.8,1280.7 294.8,1271.6 362.5,1281.5 333.6,1231.4 299,1271.9 324.1,1281 338.2,1293.2 268.2,1272.6 344,1242 319.6,1227 329.9,1270 309.4,1239.7 310.1,1243.7 328.9,1240.1 292.1,1275.2 363.9,1247.1 286.1,1325.8 277.8,1250.2 382.2,1279.8 341,1249.9 281.1,1254.8 326,1181.4 290.3,1269.5 325.1,1237.6 284.5,1273.5 334.1,1268.8 269.6,1293.7 385.3,1263 307.2,1242 319.2,1237.4 384.8,1250.9 294.5,1265.4 317.2,1254.1 281.4,1268.8 339.8,1277.9 326.6,1230.6 302.6,1254.4 325.3,1219.6 380,1312.8 331.1,1285.1 315.9,1266.4 329.6,1237.1 310.9,1252.7 318.3,1315.6 323.8,1240.8 349.4,1262.6 309.8,1275.5 323.7,1244.8 326,1210 364.8,1295 306.4,1252.3 317.1,1261.9 337.1,1274.1 376.1,1258.1 340.1,1242 326.6,1222.5 345.8,1253.3 331.6,1245.6 335.9,1234.7 378.4,1261.6 320,1242.3 321.8,1227.2 352.9,1259.9 330.8,1258.4 331,1231.1 320.1,1249.6 360.3,1266.3 335.8,1301.4 360.4,1256.6 321.8,1259.2 362.8,1252.5 380.3,1252.8 355,1250.6 314.5,1258.4 286,1246 269.7,1267.7 333.5,1347.1 326,1197 321,1271.2 305.3,1262.1 334.4,1256.6 339,1264.6 369.2,1299.5 370.8,1267.2 371.3,1256 347.5,1258.1 332.7,1235.3 343.3,1260.2 294.2,1301.4 337.5,1239.6 303,1297.1 326,1193.7 327.7,1242.9 340.5,1255.3 323.6,1306.7 321.5,1291.1 292.5,1249.6 374.5,1297.6 332.1,1241.7 279.4,1283.5 274.9,1269.8 381.9,1259.7 337.7,1319.7 345.4,1264.8 335.3,1281.1 375.5,1282.2 316.6,1243.2 307.4,1300.2 328.7,1229 334.3,1238.5 273.8,1264.7 329.6,1289.9 341.6,1238.9 315.8,1235.9 325.8,1212.3 321.8,1224.8 324,1286.3 347.6,1274.9 300.4,1259 313.6,1247.4 366.7,1252.4 276.8,1258.7 326.1,1296.6 329.7,1274.4 272.9,1287.6 322.1,1235.9 339.7,1269 332.5,1225.9 311.9,1268.1 327.9,1249.2 291.8,1255.1 302.4,1276.7 336.2,1249 367,1258.8 351.5,1283.4 349.6,1269.7 331.3,1228.1 299.6,1250.1 350.6,1248 345.8,1245.3 270,1254.5 315.7,1232.6 363.5,1270.2 338.8,1284.8 272.7,1281.7 344,1270.8 322.7,1221.5 357.2,1278.9 352.5,1276.4 369.9,1263 279.5,1265.3 267.7,1247 378.1,1266.9 329.4,1232.5 295.9,1279.4 342.9,1289 357.6,1272.2 281.8,1261.2 326.3,1215.8 315.8,1271.1 331.3,1263.1 313.3,1242.2 284.8,1289.6 308.2,1256.7 335.7,1261.5 308.5,1236.4 272.3,1274.2 272.6,1259.5 286,1263.1 292,1259.5 340.1,1232.1 277.6,1302.9 332.8,1252.3 291.5,1305.7 326.3,1214.6 367.5,1280.8 377,1277.3 339,1235.9 317.3,1239.8 304.2,1246.2 343.5,1282.8 314.5,1284.4 320.4,1229.1 369.5,1248.4 365.2,1275.9 276.3,1278.2"/>
<polyline class="p" marker-start="url(#me)" marker-mid="url(#me)" marker-end="url(#me)" points="469.7,1201.7 477.6,1318.8 471,1283.8 422.7,1305.9 438.2,1280.5 479.8,1289.5 495.9,1329.1 420.8,1284.8 468.2,1222.2 470,1239.1 469.7,1224.2 466,1262.5 469.6,1238.4 418.1,1322.2 427.8,1295.2 469.3,1241.3 513.5,1326 412.5,1303.4 528,1307.8 435.3,1301.2 416.4,1347.1 412.1,1317.3 519.4,1310.4 492.9,1347.1 516.8,1293.9 431.8,1313.8 500,1283.4 472.1,1275.9 477.2,1347.1 465.5,1244.9 446.3,1293.5 522.6,1347.1 479.1,1258.3 462.3,1258 412.7,1309.4 443.3,1301.4 489.3,1307.4 464.7,1299.6 470,1238 482.9,1297.7 430.6,1278.7 429.6,1324.1 436.1,1261.9 427.3,1260.7 499,1298.3 466.9,1248.2 494.5,1281.9 465,1287.7 469.4,1237.1 491.6,1291.3 483.6,1278.8 468.7,1245.8 465.2,1253.5 474.6,1247 469.3,1252.2 462.9,1250 522.3,1263.4 512.4,1289 520.8,1331.1 464.4,1309.3 439.7,1329.1 469.5,1238.1 432.4,1347.1 504.7,1327.8 493.8,1303.6 448.7,1264.8 521.5,1302.2 469.7,1240.5 471.2,1223.2 470.6,1256.1 493.9,1296.4 469.5,1237.8 489.3,1286.5 462.4,1328.1 433.3,1274.1 452.9,1272.8 471.4,1247.4 491.3,1325.3 448.7,1270.3 462.2,1314.9 476.5,1254.5 507.1,1347.1 469.6,1242.5 501.2,1311.8 523.4,1292.5 456.1,1330.7 430.7,1290.7 472.6,1244.2 463.1,1320.1 417.6,1279 484.1,1305.5 500.2,1276.7 470.7,1241.7 473.2,1251.4 494.4,1266.3 451.8,1295.1 483.1,1313.6 507.1,1320 446.6,1347.1 438.2,1269.4 462.1,1347.1 500.9,1322.7 469.7,1176.2 469.7,1184.6 501.3,1266.8 499.1,1271.8 469.6,1237 417.3,1314.7"/>
<polyline class="p" marker-start="url(#me)" marker-mid="url(#me)" marker-end="url(#me)" points="621,1208.4 655.5,1214.9 621.4,1198.4 650.5,1234 669.7,1211.1 655.4,1206.9 607.1,1224.3 650.4,1252.5 648.6,1203.9 629,1226.4 641.6,1195.9 590.6,1242.5 618.8,1206.9 655.4,1231.1 649,1260.6 625.1,1211.7 667.6,1219.2 626.9,1193.5 600.2,1250.5 661.7,1208.1 610.5,1215.7 587.2,1247.9 667,1216.5 637.6,1195.1 682,1221.2 600.1,1260.3 639.4,1238.5 589.4,1232.2 609.4,1207.2 608.9,1233.2 673.1,1271.2 650.6,1223.5 632.1,1205.1 643.4,1211.8 682.6,1224.6 653.1,1233.4 640.7,1283.7 645.9,1220.1 683.3,1214.3 664.6,1225.4 620.9,1231.6 662.7,1253.3 636.1,1236.6 632.9,1252.9 636.8,1165.9 683.9,1216.7 637.8,1230.8 677.3,1210.3 643.4,1222.4 684.1,1239 673,1235.8 581.3,1262.5 653.6,1256.8 653.3,1192 630,1221.9 645.9,1185.1 639.5,1263.8 630.9,1191.5 633.1,1179.8 630.4,1198.6 623.6,1207.6 602,1233.1 651.2,1229.8 638,1173.9 639.7,1182.9 636.7,1168.3 633.7,1219.9 645.4,1197 686.2,1244.9 639.3,1233.6 614.3,1225.5 684.1,1273.5 599.3,1224.2 614.5,1261.3 633.4,1188.2 683.3,1232.9 645.9,1191.9 655.4,1244.2 605.4,1240.5 620.6,1223.9 637.3,1202.3 663.8,1212.4 649.6,1198.4 637.6,1187.5 595.9,1208.6 655.3,1248 582.2,1234.6 607.1,1217.4 642.5,1189.6 605.3,1232.6 649.5,1191.2 598.4,1221.8 621.2,1228.6 632.2,1179.1 616.7,1201.6 635.3,1197.7 661.3,1235 666.5,1257.5 654.6,1227.9 658.4,1242.7 627.1,1190 641.4,1216.5 639.5,1205.4 621,1214.7 636.5,1156.6 651.2,1191.9 646.1,1290 634.8,1213.2 584.5,1242.8 593.3,1221.9 635.7,1181.9 592.1,1219.3 688.6,1241 606.5,1234.9 654.8,1211 636.1,1175.3 589.1,1226.3 644.5,1192.7 682.8,1219.1 610.7,1210.8 592.7,1230.3 634.8,1243.3 614.9,1207.3 593.4,1227.3 634.9,1177.6 620.9,1255 588,1219.3 622.9,1250.1 670.1,1217.2 636.2,1201.2 692.5,1242.3 613.4,1207.4 637,1182.9 631.7,1196.8 624.4,1216.2 680.5,1219 624,1238.3 638.8,1246.1 651.6,1215.2 629.1,1197 626.2,1201.7 627.8,1209.2 627.9,1198.3 640.3,1199.6 692.3,1223.9 599,1209.9 623.6,1228.8 609.6,1222.4 650.3,1193.7 625.3,1203.6 634.6,1180.2 625.3,1209.4 578.7,1242.8 623.9,1213.9 639.7,1197.3 627.6,1188.2 645.8,1204.3 659.6,1210.7 661.2,1259.4 649.5,1244.6 659.5,1208.1 627.6,1211.5 621.4,1278.1 621.6,1236.5 667,1210.2 627.2,1196.3 626.8,1191.8 633.4,1207.2 633,1230.9 629,1262.1 632.2,1210.6 687.7,1229.1 626.9,1184.6 645.6,1214.2 634.7,1174.5 579.4,1238.2 620.9,1217.1 637.2,1186.3 581.1,1245.6 694.4,1230.5 584.6,1226.5 677.9,1214.8 654.7,1239.4 629.2,1187.4 648,1256.8 683.2,1235.7 680.1,1237.2 678,1249.1 676.6,1213 601.2,1221.3 694.2,1250.3 605.5,1248.1 685.7,1223.2 643,1197.6 644.7,1188.9 641.7,1205 653.3,1213.3 671.2,1213 589.5,1216.3 655.7,1205.1 677.7,1255.6 692.7,1221.2 628.7,1203.6 597.1,1238.2 646.5,1200.5 601.4,1208.6 638,1252.2 633.7,1181.9 652.1,1200.4 632.5,1222.7 641,1182.5 647.8,1216.3 633.3,1183 642.7,1186.6 657.4,1200.9 678.7,1222 614.6,1239.7 662,1225 635.6,1191.3 652.4,1210.1 623.9,1223 673.9,1214.9 670.1,1223.9 688.1,1238.2 671.5,1209 627.7,1203.8 578.2,1251.1 631.2,1199.8 597.9,1254.9 626.4,1235.3 621.1,1220.4 636,1184.8 634.6,1182.7 641.3,1220.2 640.8,1179.4 637.4,1177.4 635.3,1187.1 637.1,1164.6 636.7,1162.1 621.9,1259.7 644.4,1224.8 659.3,1220.6 665,1209.7 636.6,1204.7 644.4,1229.3 638.6,1257.8 633.6,1185.3 625.9,1198.5 634.6,1194.5 640.1,1184.6 638.2,1207.6 586.4,1236 659.7,1205.9 633,1192.1 591.3,1247.6 609.9,1255.4 692.1,1267.9 632.4,1194.8 657.1,1218.4 635,1248.8 620.2,1210.3 639,1188.9 694.5,1226.7 614.1,1214.6 589,1229.2 652.1,1236.9 638.9,1178.9 681.9,1247 657.2,1271.5 604.6,1212.8 617.6,1231.2 675.6,1227.4 619.8,1193.9 632.6,1227.9 611.1,1235.1 648,1222.8 618,1208.5 675,1242.2 635.7,1183.2 580,1221.2 608.4,1208.8 594.4,1213.4 615.5,1256.3 611.6,1209.2 645.6,1210.5 626.5,1224.8 640.8,1201.3 629.2,1184.7 635.6,1170.9 636.6,1271.9 617.8,1222.4 645.6,1205.8 654.2,1200.9 626.3,1240.1 673.6,1217.6 645.2,1202.2 665.7,1232.4 633.6,1196.5 647.4,1191.6 647.2,1202.5 625.1,1191.1 614,1216.8 648.2,1197.8 620.1,1199.1 619.9,1212.6 629.2,1199.2 624.6,1197.1 647.1,1211.9 646.3,1282.2 640.3,1181.1 679.5,1231.2 579,1234.5 685.5,1226.3 672,1215.6 614.6,1229.4 616.2,1268.3 617,1206.2 694.8,1223.5 647.3,1234.4 636.1,1297.7 600.4,1215.3 636.5,1171 591.9,1216.6 585.3,1265.5 641.7,1192.4 626.9,1232 639.6,1175.2 673.4,1212.2 641,1193.8 679.1,1240.6 689.4,1235.2 694.2,1259.9 638,1200.6 679.6,1215.8 634.6,1292.5 665,1239.8 636.3,1178.9 642.8,1191.1 603.6,1230.6 678.4,1225.7 664.8,1218.1 629.4,1190.9 646.7,1225.8 628.6,1192.6 640.6,1188.8 687.9,1232.1 638.8,1180.8 661.1,1204.2 671.8,1233.1 676.4,1216.8 595.8,1220.6 602.1,1256.2 622.3,1194.5 669.4,1241.6 637.1,1167.8 616.8,1204.4 611.5,1227.9 617,1227.8 635.9,1173.2 663.9,1264.4 644.3,1204.5 598.8,1242.9 588.7,1223.5 627.1,1205.3 611.8,1251.1 677.5,1219.2 676.3,1238.5 605.9,1208.2 649.1,1200.1 637.5,1197.7 630,1206.3 640.1,1187.1 685.8,1267.6 664.7,1214.7 607.5,1220.2 639.3,1191.3 593.6,1257 623,1192.9 613.2,1211 643.6,1194.1 608.4,1227.5 661.6,1218.2 649.1,1213.8 674,1230.3 691.7,1262.9 630.4,1189.4 625.1,1192.7 638,1182.7 587,1257.6 621.3,1244.9 665.1,1207.7 659.1,1232.5 602.4,1242.8 690,1248.6 631.6,1182.9 691.2,1238.9 630.6,1224.4 638,1204 595.5,1211.4 631.7,1184.3 650,1205.1 619.6,1200.3 667.7,1225.1 605,1252.3 595.7,1241.1 602.2,1213.7 669.9,1214.9 645.4,1249.2 606.4,1210.9 622.6,1196.5 658.6,1255.9 604.6,1223.3 653.7,1278.1 632.9,1215 636.3,1167.8 643.4,1198.9 637,1217.7 638.8,1193.2 669,1208.8 651.2,1212.5 629.3,1248.4 622.5,1204 650.2,1226.3 660.1,1226.6 618.3,1225.3 605.5,1264 644.7,1190.2 668.6,1221.8 660.9,1213.1 636.6,1161.5 614.9,1208.8 638.8,1173.1 626.4,1187 646.3,1194.2 649.7,1201.7 638.6,1185.9 593.6,1243.9 630.3,1201.2 646.3,1187.7 677.4,1235.4 638,1215 599.7,1230.6 662.5,1242.8 683,1229 610.2,1240.7 654.8,1220.1 688.3,1223.1 670,1267.1 631.2,1212.7 652.1,1269.6 686.3,1235.5 614.6,1201.1 588,1251.4 632.2,1180.8 682.7,1243.3 624.2,1243.6 632.6,1186.8 623.9,1202.1 656.7,1227.4 633.8,1200.3 671.4,1254.3 660.9,1229.7 643.7,1240.9 631.8,1189.7 594,1235.6 673.1,1244.5 618.8,1219.1 643.6,1187.6 640.2,1208 648,1240.5 633,1237 633.9,1203.5 636.9,1168.9 608.7,1212.3 648.6,1228.6 646.7,1271.7 626.1,1199.7 626.6,1253.2 690.1,1244.3 667.2,1213.5 622.5,1226 633.7,1176.9 630.4,1208.5 591.9,1233.6 610.5,1217.8 647.4,1189.4 654.7,1222.8 618,1203.1 583.2,1219.6 628.6,1212.8 638.9,1210.1 652.1,1204.3 635.1,1193.1 614.4,1233.8 587.3,1270.6 680.7,1234 661,1238.6 581.9,1231.7 618.4,1250.8 648.7,1237.2 599.4,1219 634.1,1233.8 594.9,1262.1 656.6,1251.4 672.4,1240.1 675.8,1222.4 615,1250.5 653.1,1197.4 602.8,1216.3 648.7,1248.8 582.3,1223.1 662.1,1221.3 648.7,1194.9 656.2,1224.3 611.9,1230.7 657.9,1236.8 643.2,1235.3 617.1,1216.5 647.9,1205.8 637.3,1181.2 628.2,1286.6 669.7,1230.9 634.6,1173.2 640.6,1203.4 621.6,1206.1 656,1202 579.9,1227.8 638.4,1212.7 631.6,1257.3 674.7,1220 641.8,1206.7 648.4,1193 620.9,1204 647,1186.3 652.7,1202.5 650.2,1208.6 636.8,1193.1 642.8,1232 623,1198.7 689.7,1258.3 600.5,1239.9 619.6,1201.8 612.9,1203.9 634.9,1175.8 603.8,1219.2 644.9,1199.2 617.2,1210.7 578.8,1256.9 639.7,1178 635.7,1210.8 620.7,1195.8 618.8,1241.9 641,1212.3 631.4,1187.7 587.6,1239 641.5,1224 637.6,1224.2 673.3,1261 637.4,1172.6 678.2,1261.8 661.6,1215.6 631.9,1203.7 585.1,1223.8 630.3,1195.1 633.7,1175.3 630.8,1234.4 662.8,1248.2 665.4,1245.9 632.7,1201.8 630.6,1275.1 600.2,1246 634.8,1179.3 612.6,1222.8 637.6,1190 684.9,1260.1 658.8,1216.5 668.2,1228.2 652.9,1241.6 635,1223.2 645.2,1186.5 691.2,1219.1 636.2,1195.7 653.2,1207.8 638,1227.7 652.8,1193.4 624.9,1272.7 691.6,1232.2 604.4,1210.1 596.3,1225.7 603.6,1225.7 657.3,1211.8 648.7,1218.9 668.6,1250.7 630.3,1239.8 633.9,1205.2 631.6,1217 595.9,1231.4 689.7,1227.5 646.7,1198.5 621.7,1202.4 643.7,1215.4 669.3,1238.2 620.6,1192.7 636.7,1168.4 578.4,1229.7 607.9,1214.8 687.9,1218.1 639.4,1195.2 653.3,1216.2 638,1183.5 582,1248.9 620.7,1265.8 658.4,1265.9 644.8,1238.1 579.3,1224.2 615.5,1212.4 656.8,1209.6 643.6,1200.7 583.9,1239.3 594.4,1252.2 619,1204.6 638.7,1198.8 658.3,1214 610.5,1225 586,1216.8 622.9,1218.8 614.3,1203 647.6,1195.7 578.3,1218.1 657.5,1204.4 651.4,1220.9 643.5,1207.1 664.7,1228.4 592.2,1211.3 652,1195.2 627.5,1207.5 626.6,1279 649.2,1211 626.6,1215.2 584,1229.2 635.2,1172.1 585.3,1233.6 662.1,1211.7 642.1,1199.8 628.6,1194.9 645.3,1217.4 640.8,1228.1 630.5,1214.8 657.7,1207.6 637.4,1171 669.6,1246.8 618.3,1214.5 627.8,1186.1 619.2,1197.3 643.4,1259.2 694.9,1245.8 640.5,1242.6 659.2,1246.2 647,1231.5 634.2,1191 649,1207 686.2,1254.9 642.1,1253.4 684.5,1221.1 674.1,1209.9 590.1,1261.8 594.5,1216.1 605.5,1228 583.4,1253 636.1,1206.5 636.6,1188.9 636,1208.6 633.1,1198.6 614.3,1205.3 672.2,1221.1 651.3,1196.5 637.7,1221.1 605.4,1215.4 630.2,1243.8 651.6,1206.7 622,1211.7 643.9,1185.2 596.8,1214.9 615,1235.9 624.2,1200.3 650.7,1199.4 639.1,1176.6 653.7,1205.2 659.6,1203.2 692.2,1235.6 628.4,1200.2 680.5,1227.6 666.1,1274.3 587.2,1221.9 624,1205.6 691.7,1229.4 596.7,1248.6 635.9,1284.9 627.9,1228.9 632.5,1182.5 601.5,1211.4 649.3,1195.9 631.7,1206.9 642.5,1268.9 681.6,1212.8 603.4,1237.9 596.8,1217.4 591.4,1237.9 611.7,1213.3 584.3,1246.2 636.4,1176.5 587.7,1244.3 608.2,1229.9 655.9,1234 591.3,1213.8 643,1202.5 590.2,1254.9 654.5,1203.4 640.5,1190.8 628.1,1218.3 618.4,1238.6 624.3,1220.5 635.1,1199.3 592.1,1224.2 628.6,1189.5 640.2,1276.7 636.4,1180.2 636.7,1163.6 690.9,1253.1 615.3,1220.2 636.3,1240.4 673.4,1250.1 611.8,1237.7 674.9,1265.8 615.7,1246.7 635.4,1226.1 621.5,1190.9 653.2,1225 653.8,1195.4 654,1199.2 626.2,1246.6 598.6,1212.7 612,1221.1 586.3,1230.7 623.8,1232.4 694.1,1217.5 600.4,1227.6 658.6,1306.4 595.2,1223.7 652.2,1199 619.2,1234.6 630.4,1186 614.5,1243.3 589.5,1235.2 643.1,1184 637.6,1175.4 637.7,1179.6 637.1,1165.7 630.1,1203.9 596.8,1228.3 668.1,1234.6 633.7,1178.6 651.5,1217.6 641.7,1198 695.1,1255.2 611.4,1206.1 641.5,1183.2 636.8,1199.5 638.1,1171.9 642,1209.9 634.9,1189.5 598.9,1236.1 671.5,1226.5 644.3,1195.4 662.7,1206.6 682.5,1252 675.4,1233.3 659.4,1223.7 644.3,1245.2 641.8,1213.9 607.4,1243.5 679.2,1212.5 686,1250 637.1,1159.1 665.2,1236.5 638.7,1175.2 631,1193.4 608.8,1237.8 624.8,1194.6 609.3,1246.8 634.9,1228.6 641.2,1185.5 648.1,1276.6 694.6,1238 646,1207.9 678.9,1244.5 653,1264.6 622.5,1200.7 673.2,1224.1"/>
<polyline class="p" marker-start="url(#me)" marker-mid="url(#me)" marker-end="url(#me)" points="739.9,1282.6 836.2,1263.2 797.8,1273.8 796.1,1242.6 804.2,1245.3 784.6,1216.1 803.6,1231.4 780.6,1337 724.9,1266.3 779.5,1211.6 834.3,1290.6 759.2,1245.7 734.4,1267.3 726.1,1270.5 787.1,1254.4 816.4,1254.4 775.7,1217 747.4,1239.6 790.7,1242.3 776.8,1239.5 788,1269 745.1,1266.4 805.7,1251.1 772,1276.7 734.1,1299.2 767.2,1245.1 771.3,1246.8 738.9,1248.3 766.7,1260.1 825.3,1255.2 813.7,1274.8 747,1230.5 789.4,1249.6 736.7,1278.8 782.4,1215.5 728.4,1255.4 832.5,1268.2 748.3,1302.5 736.1,1245.1 769.5,1263.3 839.6,1240.4 791,1277.9 748.8,1233.7 810.3,1264.7 749.7,1229.2 813.2,1267.2 787.6,1223.7 813.1,1262.8 761.9,1230.2 834.7,1252.9 747,1284.2 807.9,1247.4 730.3,1260 783.6,1256.9 777.7,1216.1 779.5,1216.4 798.7,1249.3 752.2,1287.9 757.5,1273.7 767.4,1234.3 790,1223.3 742.7,1261.9 729.4,1242.2 781.8,1237 799.3,1262.9 808.3,1238.8 734.3,1264 752.6,1265.1 785.9,1273.4 822.9,1261 836.7,1257.5 776.7,1258.2 749.1,1247.8 780.6,1226.2 835.1,1243.9 744.6,1258.5 761.4,1337 771.6,1251.5 813.9,1256.8 736.6,1256.4 768.1,1249.4 803.9,1261.5 816.6,1238.2 794.1,1305.1 769.9,1259.2 763.3,1238.2 804.5,1264 821.5,1255.3 740.1,1237.7 742.9,1289.4 830.2,1287.2 820.9,1285.6 721.2,1252.3 822.4,1263.8 775.2,1231.9 721.8,1247.7 758.7,1263.6 795.1,1266 819.8,1250.5 794.5,1227.5 764.3,1255.5 730.1,1273.2 762,1265.1 749.4,1267.3 810.2,1260.7 781.3,1211.1 815.3,1270.4 740.9,1258.9 757.2,1239 721.3,1285.8 792.6,1221.3 756.2,1233.2 791.9,1265.4 776.6,1272.6 750.6,1256.9 768.5,1282.5 811.1,1243.1 727,1282.1 791.9,1269 762.6,1252.1 780.4,1201 721.4,1256.4 799.3,1234.3 782.2,1219.7 826.1,1257.6 767,1226.9 779.7,1219.7 823.9,1250.7 725.8,1248.3 792.3,1237.1 779.5,1250.5 737.1,1261.3 773.4,1242.4 727.9,1267.8 775.9,1245.3 722.3,1268.5 781.9,1232.5 798.7,1260 734.1,1259.6 816.3,1259.7 803.5,1236 829.4,1251.4 839,1253.6 767.6,1319.7 774.8,1221.7 747.8,1273.5 769.8,1222.1 823.1,1277.3 782,1208.7 726.4,1275.7 792.8,1282.4 757.9,1229 735.3,1271.1 725.6,1240.4 798,1222.3 771.1,1228.6 802.5,1274.9 778.7,1212.9 780.5,1202.5 754.9,1236.2 827.5,1261.7 804.7,1293.7 826.9,1275.4 785.1,1243.5 764.1,1258.8 761.1,1270.3 818.1,1268 790.8,1245.8 747.5,1243.6 836.7,1276.9 777.7,1218.7 830.7,1278.9 776.9,1212.3 823.1,1258.4 779.3,1244.9 761.2,1235.3 834.9,1239.9 796,1246.4 798,1253.4 786,1215.7 787.2,1284.2 774,1269.5 781.5,1212.5 743,1274.6 766,1224 792.1,1252.7 808.2,1255.4 721.3,1273.2 829.5,1295.5 786.9,1239.4 780.3,1199 810,1235.3 734.8,1249.8 819.8,1273.9 798.3,1268.4 782.4,1222.4 811,1258.3 808.9,1232.1 771.5,1238.6 777.8,1210.3 806.3,1233.8 752.5,1274.7 829.8,1239.6 777.3,1220.4 801.3,1270.6 815.7,1285 788.3,1232.7 742.7,1255.9 799.9,1282.4 744.4,1269.8 783.5,1213.9 733.3,1253.6 783.4,1277.7 727.1,1245 764.8,1267.5 807.6,1267.5 753,1268.5 786.6,1289.7 795.1,1262.6 747.5,1262.6 820.1,1265.1 748.9,1251.7 726,1253.2 734,1276.8 815.8,1242 741.7,1265.7 781.6,1271 792.6,1299.8 779.5,1280.2 763.1,1244.6 801.5,1258.4 748.9,1269.9 786.9,1219 784.5,1268.3 771,1271.8 774.8,1254.2 795.1,1259.3 793.6,1232.8 762.8,1224.6 750,1260.7 808.2,1276 782.7,1229.3 838.7,1246.5 740.4,1272.5 821.1,1292.3 785.2,1233.7 773.6,1219 787.8,1226.7 775.4,1266 776.6,1224.4 753.3,1229.4 778.8,1230.5 757.8,1259.3 832.2,1274.5 743.2,1245.8 807.7,1228.4 779.9,1202.3 778,1263.2 812.5,1231.9 822.9,1270.5 762,1274.7 780.3,1214.4 774.5,1225.7 756.3,1269.8 767.7,1239.5 814.6,1292.2 801.4,1267 818.2,1337 780.8,1267.6 758.9,1267.4 837.4,1250.2 770.8,1224.9 786.9,1262 763.6,1227.2 837.5,1267.5 738.5,1252.7 732,1257.5 744.2,1252.5 830.6,1262.1 740.4,1242.3 780.3,1182.3 755.2,1262 783.6,1259.8 807.6,1263.1 741.7,1337 722.2,1243.2 780,1209.3 737.9,1264.3 761.2,1258.2 774.6,1237 752.1,1242.8 835.4,1271 755.2,1257 772,1221 828.2,1270.9 802.9,1252.9 725.3,1256.6 783.8,1252.4 831.2,1255.5 768.2,1291.8 813.2,1238.7 780.6,1205 735.8,1290.1 752.4,1233 791,1227.3 726.2,1259.6 791,1257.3 819.5,1246.8 780.4,1276 822.7,1245 777.8,1233.7 785.3,1224.5 783.5,1212.5 731.6,1238.2 762.3,1280.8 820.4,1257.9 752.7,1259.6 829.3,1265.2 804.7,1256.2 731.4,1246.5 722.2,1238.1 761.4,1261.5 781.8,1247.7 797.3,1225.9 778.5,1225.4 828,1243.1 765.6,1230.5 730.5,1287.2 773.8,1261.7 779.3,1256 816.3,1265.2 776.8,1214 784.2,1219 799.9,1243.8 758,1249.9 777.7,1287.7 802.1,1312.2 766.6,1296.6 778.1,1268.5 766,1272.6 769.8,1304.1 781.5,1216.1 727.9,1262.4 821.9,1307.6 834.8,1248.5 756.2,1278.7 790.8,1260.3 839.5,1273.8 753.7,1251 799.1,1256.8 831,1247.8 798.6,1239.3 738.8,1269.2 825.6,1247.1 777.9,1227.5 766.7,1253.1 785.3,1249.2 725.8,1297.6 811,1252.5 819,1261.9 722.3,1258.8 772.8,1257.5 825.7,1263.9 745.7,1249 817.3,1279.7 796.7,1230.6 779.8,1260.4 785.4,1230.3 781.2,1205.8 823.5,1267.3 780.4,1207.1 774.4,1228.2 768.8,1255.8 752.6,1254.4 782.9,1263.5 839.7,1264.1 796.3,1235.9 758.1,1254.6 769.4,1268.1 781.2,1218.1 785.2,1221.1 802,1248.4 793.6,1224.7 754.7,1246.8 746.2,1255.1 805.6,1273.3 798.9,1337 763.3,1248.9 751.3,1278.8 788,1257.6 809.5,1270.6 769.3,1231.8 731,1265.4 836,1282.2 790.7,1230.4 795.4,1256.5 798.6,1289 807.3,1259.6 837.1,1294.9 779,1222 774.9,1248.8 794.8,1271.7 731.9,1280.3 765.5,1264 787.7,1265.7 822.6,1236.4 745.6,1235.5 799,1300.6 808.7,1285.9 788.8,1235.7 823.7,1281.5 833.7,1260.1 804.4,1268.5 782.8,1217.5 735,1241.2 795,1251 807.1,1242.9 746,1279.2 759.5,1232.4 760.5,1241.5 778.7,1208.3 756.8,1243.3 755.6,1315.6 834.1,1265.5 767,1277.3 812.5,1249.7 828.9,1258.5 751.3,1237 782,1240.4 775.1,1219.4 784,1227.1 755.4,1266.5 814.4,1235.2 796.4,1277.8 839.3,1260.3 805.2,1279.7 814.4,1246.6 779.6,1205.8 780.3,1195 730,1250 811.3,1281.3 799.8,1228.2 776.6,1277.5 739.8,1310.4 824.5,1239.5 757.2,1283.1 790.8,1273 803.9,1240.2 772.6,1233.5 819.8,1239.9 722.5,1261.8 721,1264.3 788.9,1221 833.1,1256.5 731.3,1269.9 721.9,1278.6"/>
<polyline class="p" marker-start="url(#me)" marker-mid="url(#me)" marker-end="url(#me)" points="961.4,1276.4 907,1257.6 931.6,1319.2 881.8,1273.2 971.1,1317.8 928.2,1244.8 909.6,1337 979.4,1289.9 882.5,1313.6 925.6,1274.4 910.5,1285.6 897,1305.4 923.3,1220.7 881.9,1337 921.3,1319.9 934.8,1299.3 876.9,1292.3 964.5,1292.2 924.2,1243 919.5,1243.5 945,1290.4 899.7,1279.1 924.2,1233.8 892.5,1278.1 907.3,1251.2 882.9,1297.2 871.5,1284.2 977.7,1295.7 948.6,1297.5 972.2,1312 927.1,1240.4 924.1,1224.3 945.7,1264.4 929.1,1337 919.2,1337 894.5,1299.4 923.8,1261 883.7,1290.2 937.9,1256 934,1272.5 924.1,1210.5 926.7,1216.3 956.5,1337 891.7,1263 923.9,1230.3 914.2,1310.5 960.9,1320.6 887.6,1300.3 936.8,1287.9 959.9,1287.6 922.6,1305.9 953.7,1308.3 949.3,1259.5 892.7,1270.9 908.9,1297.1 876.5,1302.6 965.3,1317.5 890.1,1319.9 923.8,1227.7 921.1,1289.6 923.6,1232.3 980.4,1271.4 920.5,1249.2 965.5,1312.5 926.8,1247.2 870,1291.2 924.7,1237.6 950.4,1304.1 922.1,1237.2 921.3,1238.9 898.5,1285 969.8,1295.4 906.3,1307.9 924,1299.2 937.3,1249.2 913.6,1259.7 914.8,1253.2 865.4,1281.1 923.5,1315.2 923.8,1193.4 967.6,1280.8 943.2,1302.5 923.8,1181.1 947.5,1318.1 941.8,1282.8 912.8,1272.7 932.1,1286 952.2,1276.9 864.5,1301.7 944.5,1253.8 978.8,1314 947.3,1337 931.4,1256.3 874.8,1266.7 930.6,1251.1 881.3,1281.1 935,1265.9 905.2,1302.8 922.1,1245.9 966.1,1337 903.9,1261.6 935.2,1293.1 872.4,1337 919.6,1276.7 935.6,1314.6 935.3,1309.5 956.1,1263 891,1337 930,1307 920.6,1254.8 941.1,1316.4 974.9,1267.6 927.7,1288.2 914.1,1304.3 877.4,1276.3 912.4,1280.3 953.4,1299.6 891.3,1310.9 950.2,1292.8 916,1294.3 937.3,1337 971.8,1301.6 870,1319.8 964.7,1270.8 870.5,1296.2 892.4,1283.4 975.7,1337 939.9,1265 954.7,1268.6 926.7,1269.1 908.5,1317.8 865.6,1309.7 866.7,1286.7 923.8,1206 899.7,1337"/>
<path class="ax" d="M83.5 1126H100.1V1431.6M83.5 1380.7H100.1M83.5 1329.7H100.1M83.5 1278.8H100.1M83.5 1227.9H100.1M83.5 1176.9H100.1M83.5 1431.6H551.2M556.1 1125.4V1431.6H1004.5M181 1431.6V1448.1M324.8 1431.6V1448.1M468.3 1431.6V1448.1M635.5 1431.6V1448.1M778.9 1431.6V1448.1M922.3 1431.6V1448.1"/>
<text transform="translate(79.7 1437.2) scale(1 1.045)" text-anchor="end">1</text>
<text transform="translate(79.7 1386.3) scale(1 1.045)" text-anchor="end">10</text>
<text transform="translate(79.7 1335.3) scale(1 1.045)" text-anchor="end">100</text>
<text transform="translate(79.7 1284.4) scale(1 1.045)" text-anchor="end">1,000</text>
<text transform="translate(79.7 1233.5) scale(1 1.045)" text-anchor="end">10,000</text>
<text transform="translate(79.7 1182.5) scale(1 1.045)" text-anchor="end">100,000</text>
<text transform="translate(79.7 1131.6) scale(1 1.045)" text-anchor="end">1,000,000</text>
<path class="bx" d="M139 1207.7H225.8V1239.9H139ZM139 1225.1H225.8M182.4 1207.7V1191.4M160 1191.4H204.8M182.4 1239.9V1331.8M160 1331.8H204.8M282.6 1244.8H369.4V1276.5H282.6ZM282.6 1260.9H369.4M326 1244.8V1230.8M303.6 1230.8H348.4M326 1276.5V1347.1M303.6 1347.1H348.4M426.3 1259.9H513.1V1314.4H426.3ZM426.3 1290.3H513.1M469.7 1259.9V1241.5M447.3 1241.5H492.1M469.7 1314.4V1347.1M447.3 1347.1H492.1M593.3 1200.7H680.1V1235.4H593.3ZM593.3 1217H680.1M636.7 1200.7V1183.2M614.3 1183.2H659.1M636.7 1235.4V1306.4M614.3 1306.4H659.1M736.9 1237.7H823.7V1268.9H736.9ZM736.9 1255.7H823.7M780.3 1237.7V1220.9M757.9 1220.9H802.7M780.3 1268.9V1337M757.9 1337H802.7M880.4 1263.8H967.2V1308.1H880.4ZM880.4 1288.3H967.2M923.8 1263.8V1247.7M901.4 1247.7H946.2M923.8 1308.1V1337M901.4 1337H946.2"/>
<text transform="translate(181.6 1468.4) scale(1 1.045)" text-anchor="middle"><tspan class="le" dy="-1.9">⩽</tspan><tspan dy="1.9">3 (<tspan font-style="italic">n</tspan> = 372)</tspan></text>
<text transform="translate(325.2 1468.4) scale(1 1.045)" text-anchor="middle"><tspan class="gt" dy="0.9">&gt;</tspan><tspan dy="-0.9">3 to </tspan><tspan class="le" dy="-1.9">⩽</tspan><tspan dy="1.9">6 (<tspan font-style="italic">n</tspan> = 249)</tspan></text>
<text transform="translate(468.9 1468.4) scale(1 1.045)" text-anchor="middle"><tspan class="gt" dy="0.9">&gt;</tspan><tspan dy="-0.9">6 (<tspan font-style="italic">n</tspan> = 108)</tspan></text>
<text transform="translate(635.9 1468.4) scale(1 1.045)" text-anchor="middle"><tspan class="le" dy="-1.9">⩽</tspan><tspan dy="1.9">3 (<tspan font-style="italic">n</tspan> = 799)</tspan></text>
<text transform="translate(779.6 1468.4) scale(1 1.045)" text-anchor="middle"><tspan class="gt" dy="0.9">&gt;</tspan><tspan dy="-0.9">3 to </tspan><tspan class="le" dy="-1.9">⩽</tspan><tspan dy="1.9">6 (<tspan font-style="italic">n</tspan> = 456)</tspan></text>
<text transform="translate(923 1468.4) scale(1 1.045)" text-anchor="middle"><tspan class="gt" dy="0.9">&gt;</tspan><tspan dy="-0.9">6 (<tspan font-style="italic">n</tspan> = 135)</tspan></text>
<text transform="translate(556.3 1498.7) scale(1 1.045)" text-anchor="middle">Age (months)</text>
</g>
<g id="panel-f">
<text transform="translate(1154.8 1081.2)" style="font-weight:bold;font-size:16px" class="b">f</text>
<text transform="translate(1711.2 1087.7) scale(1 1.045)" text-anchor="middle" style="font-weight:bold;font-size:14.5px" class="b">N</text>
<text transform="translate(1479.6 1110.3) scale(1 1.045)" text-anchor="middle">Phase 2b</text>
<text transform="translate(1934.2 1110.3) scale(1 1.045)" text-anchor="middle">MELODY</text>
<text transform="translate(1168 1279.4) rotate(-90) scale(1 1.045)" text-anchor="middle">Antibodies, AU ml<tspan class="su" dy="-4.8">-1</tspan></text>
<path class="dl" d="M1254.7 1364.2H1706.2"/>
<text transform="translate(1261.2 1390) scale(1 1.045)" style="font-size:20px" class="b">LLOQ</text>
<path class="dl" d="M1710.7 1352.8H2157.2"/>
<text transform="translate(1717.2 1378) scale(1 1.045)" style="font-size:20px" class="b">LLOQ</text>
<polyline class="p" marker-start="url(#mf)" marker-mid="url(#mf)" marker-end="url(#mf)" points="1329.6,1261.6 1371.9,1283.1 1323.6,1264.3 1336.3,1259.4 1333.6,1302.3 1305.4,1279.1 1332.5,1248.8 1329.9,1267.3 1287.2,1298.9 1327.2,1271.9 1334.1,1253.3 1313.2,1262 1304.6,1272.4 1323.4,1286.1 1355.5,1262.9 1346.9,1301.9 1285.8,1287.9 1317.4,1283.2 1318.7,1266.1 1336.7,1211.7 1350.9,1264.9 1335.6,1235.4 1333.4,1274.3 1374.6,1276.8 1339.6,1253.2 1338.9,1251.2 1346.2,1259.1 1336.8,1269.9 1328.1,1286.3 1340.4,1262.1 1361.4,1301.9 1334.2,1235.5 1335.8,1239.6 1358.8,1277.7 1306.6,1274.6 1342,1319.3 1341.1,1245.9 1359.1,1266 1293.4,1287.6 1318.6,1256 1384.8,1288.5 1321.2,1305.4 1332.3,1255.5 1363.3,1293.1 1341.7,1259.5 1357.6,1285.7 1367.6,1273.5 1361.9,1270.4 1347.3,1313.7 1328.9,1252.9 1327.5,1296.8 1330.3,1247.7 1313,1277.2 1353.4,1257.1 1331.7,1269.4 1332.6,1265.8 1299.7,1289.7 1337.7,1232.9 1342,1271 1327.8,1254.4 1323.6,1266.7 1341.4,1263.9 1377.5,1279.7 1340.1,1268.4 1344.7,1264.4 1355.2,1271.3 1348.7,1258.7 1319.6,1261.1 1328.8,1256.1 1320.9,1265.1 1343.1,1247.7 1322.5,1300.6 1352.1,1266.4 1363.6,1273.4 1342.9,1245.4 1321.1,1267.1 1346.6,1253 1338.9,1232.2 1336.9,1262.7 1330.4,1273.1 1313,1267.9 1326.5,1265.1 1346.5,1275 1316.3,1260.2 1329.3,1258.5 1336.3,1227.9 1334.7,1272.1 1370.6,1280.6 1367.1,1282 1321.7,1262.5 1322.1,1271.4 1348,1261.3 1315.7,1266.8 1334.2,1327.8 1338,1227.4 1350.5,1291.3 1305.2,1291.6 1338.3,1234.5 1362.2,1276.4 1354.7,1260.5 1380.7,1281 1339.2,1233.6 1374.6,1288.3 1339.7,1247 1302.1,1276.2 1335.6,1232.4 1338.4,1260.4 1342.6,1273.7 1347.1,1263.7 1324.1,1255.1 1340.1,1250.1 1336.7,1295.8 1352.8,1263.5 1341.5,1249.3 1315.2,1262.6 1345.6,1284.2 1349.3,1281.3 1362.1,1288.3 1333.4,1263.1 1300.9,1297.1 1355.2,1276.4 1297,1293.3 1346.3,1267.6 1348.7,1272.3 1330.2,1251.4 1370.2,1275.3 1337.3,1267.5 1362.5,1280.3 1379.3,1288.7 1337.2,1315.2 1332,1250.7 1351.6,1271.9 1343.9,1249.1 1318.1,1270.4 1326.7,1282 1324.1,1279.2 1319.4,1279.3 1354.9,1267.9 1356.2,1300.4 1317.7,1263.5 1326.6,1256.6 1335.7,1281.8 1341,1297.2 1338.4,1243.4 1314,1286 1329.3,1306.2 1336.5,1256.8 1330.6,1249.4 1320.7,1255 1315.6,1268.9 1331.6,1242.6 1318.1,1275.7 1341.6,1266.3 1308.4,1280.1 1368.9,1286.7 1362.9,1284.4 1344.4,1253.6 1327.2,1276.8 1333.3,1287.2 1338.2,1279.1 1358.9,1268.6 1351.2,1275.2 1326.3,1259 1337.2,1215.2 1341.8,1253.8 1335.2,1237.3 1338.9,1257.6 1330.1,1318.6 1332.6,1252.7 1331.2,1246.1 1299,1281.7 1388.3,1285.5 1337,1241.1 1336.4,1254.6 1343.7,1250.8 1335.6,1265.2 1318.8,1272.6 1296.3,1285.2 1339.8,1235.8 1335.4,1277.5 1356.7,1305 1366,1276 1322.4,1256.9 1351.1,1261.6 1321.7,1282.3 1372.5,1298.8 1333.9,1251.4 1332.2,1247.7 1343.9,1258.4 1329.2,1265.2 1350.8,1286.5 1314.3,1271.7 1336.9,1238.3 1325.3,1290.6 1336,1226.4 1298.7,1278.2 1339.2,1239.6 1314.7,1274.4 1348,1269.8 1318.4,1287.5 1367.3,1299.7 1343.2,1324.4 1316.5,1298.3 1357.2,1259.7 1335.6,1241.3 1337.7,1252.8 1384.7,1292.8 1337.1,1230.5 1340.8,1277.7 1314.4,1264.5 1324.4,1271 1333.2,1321.9 1356,1281.2 1315.8,1307.6 1292,1297.3 1332.3,1259.9 1349.1,1265.8 1322.8,1293.6 1328.4,1301.9 1376.3,1284 1344.7,1252 1331.3,1263.7 1359.7,1275.6 1312.2,1303.7 1327.9,1268.9 1358.1,1263.6 1338.1,1288.2 1331.2,1244.1 1323.2,1268.7 1333.8,1257.8 1358.8,1295.1 1350.3,1268.4 1334.6,1249.8 1352.9,1279.6 1337.4,1225.3 1333.1,1245.1 1365.4,1278.5 1338.5,1229.3 1351.4,1259.1 1340.8,1311.7 1322.2,1259.8 1331.8,1276.5 1336.2,1242.7 1338.3,1272.2 1325.7,1267 1330.6,1253.7 1333.5,1243.5 1336.6,1244.5 1342.5,1291.4 1361.6,1266.6 1326.2,1261.2 1344.2,1261.8 1359,1271.4 1348.1,1254.8 1335.2,1248 1337.2,1222 1336,1252.8 1326.6,1314.3 1355.4,1265.2 1285.5,1294.2 1322.6,1276.2 1341.5,1252.5 1333.3,1310.9 1335,1233.7 1336.8,1202.9 1336.4,1251.1 1333.2,1238.7 1309.8,1273.3 1350,1256 1337.2,1220.1 1347.1,1256.8 1343.8,1268.8 1359.3,1260.7 1346.2,1288.8 1339,1284.6 1358.6,1257.5 1356.7,1273.5 1359.1,1282.2 1333.5,1267.9 1337.2,1306.6 1348.7,1277.2 1364,1268.4 1331.2,1257 1335.7,1230.3 1333.9,1240.3 1327.7,1263.4 1353.9,1273.3 1324.9,1273.6 1342,1256.4 1341.8,1251 1337.3,1218.3 1334.6,1246.3 1339,1263.9 1341.1,1239.7 1355.1,1290.5 1333,1241.9 1340.9,1247.9 1336.7,1235.8 1301.4,1286 1354.3,1295.4 1374,1280.3 1311.5,1283.5 1336.9,1275.1 1353.3,1309.6 1309.8,1294 1352.7,1269.2 1319.3,1268.6 1323.7,1310.8 1345,1277.1 1289.4,1291.1 1348.9,1295.8 1309.6,1269.2 1332.1,1283.7 1370,1294.3 1343,1252.1 1366.1,1271.4 1345.1,1255.8 1307.2,1271.4 1369,1277.8 1327,1252.5 1310,1276.3 1355.4,1258.2 1331.3,1336.3 1380,1294 1367,1290.5 1289.7,1285.2 1337.1,1248.1 1352.6,1255 1337,1222.5 1385.5,1296.7 1315.6,1279.9 1338,1245.9 1332.1,1295.2 1308.8,1299.3 1340.8,1241.9 1345.7,1308.9 1342,1243.6 1339.6,1255.1 1360.5,1263.8 1317.4,1257.5 1334.3,1255.5 1374.5,1291.9 1345.2,1271.4 1337.8,1250.3 1336.6,1246.4 1339,1248.6 1314.2,1290.1 1305.8,1282.7 1338.2,1238.3 1337.9,1239.5 1360.7,1272.5 1343.3,1280.5 1320.2,1258.4 1349.4,1305.5 1334.8,1242.5 1380.7,1299.3 1359.9,1307.7 1381.6,1285.6 1338.3,1247.6 1317.6,1293.1 1312.1,1265.1 1339.7,1243.8 1329.1,1291.4 1335.4,1291.3 1302.1,1279.8 1336.8,1233.9 1310.2,1286.9 1338.8,1241.4 1330.7,1280.6 1293.6,1282.1 1334.8,1261.3 1352.9,1283.2 1342.5,1303.2"/>
<polyline class="p" marker-start="url(#mf)" marker-mid="url(#mf)" marker-end="url(#mf)" points="1481.8,1285.1 1515,1301.9 1439.1,1304 1532.9,1303.6 1500.4,1287 1446.2,1282.5 1504.3,1310.3 1454,1302.1 1452.9,1333.3 1457.8,1306.8 1475.4,1290.3 1471.7,1331.6 1515.1,1290.9 1532.1,1294.8 1479,1316.8 1466.6,1301.6 1481.9,1299.9 1467.1,1283.9 1516.3,1297.5 1537,1297.2 1498.9,1293.2 1518.9,1306.2 1504.6,1303.4 1449.6,1324.5 1531.3,1310.4 1466.3,1279.5 1488.9,1292 1480.2,1272.5 1515.6,1318.5 1528.4,1307.5 1442.2,1292.2 1474.1,1314.1 1523.3,1301.9 1427.5,1298 1529.2,1320.2 1450.1,1299.6 1434.9,1301.8 1508.1,1284 1487.4,1321.7 1493.6,1284 1461,1299 1434.5,1295.4 1436.2,1286.7 1539.9,1289.8 1473.6,1281.1 1475.2,1305.1 1500.4,1306.9 1499.2,1297.1 1441.7,1306.3 1479,1289.8 1530.8,1299.6 1421.4,1300.4 1439.7,1315 1451.8,1291.2 1478.7,1269.8 1527.3,1314.2 1427.4,1291 1490.9,1281.9 1514.1,1283.2 1447.3,1290.6 1471.5,1283.8 1458.7,1295.9 1484.8,1293.2 1506.1,1293.9 1502.3,1296.2 1486.1,1287.5 1458.9,1290.6 1437.9,1298.6 1514.5,1313.4 1447.2,1297.8 1461.2,1286.8 1477.1,1283.7 1477.8,1279.9 1445.1,1304 1482.4,1345.4 1458.8,1324.9 1470.5,1318.1 1511.9,1299.5 1467.9,1312.5 1516.6,1334.7 1442.1,1286.5 1493.3,1316.5 1512.2,1325.5 1451.9,1319.5 1512.7,1287.9 1505.6,1285.2 1500.5,1317.5 1446.1,1319.2 1494.5,1310.9 1498.7,1284.8 1480.8,1281 1441.7,1321.9 1455.3,1293.4 1466,1294.2 1438.5,1288.8 1425.1,1304.7 1472.6,1277.8 1435.8,1329.4 1538.2,1311.9 1475,1295.9 1492.8,1305.8 1435.8,1309.8 1470.5,1294.6 1514.5,1294.9 1494.5,1294 1517.9,1309.9 1450.3,1284.2 1495.5,1321 1496,1287.5 1424.2,1299.6 1480.1,1263.8 1499.3,1324.6 1454.4,1308.7 1467.5,1287.1 1444.7,1297 1510.2,1310.6 1488.3,1306.7 1489.8,1299.4 1462.1,1294.2 1426.2,1315.8 1529.4,1293 1504.4,1321.3 1459.1,1302 1508.8,1303.7 1462.9,1282.8 1488.5,1279.7 1462.5,1328.4 1455,1298.3 1482.9,1270.8 1435.5,1306.1 1462.6,1305.2 1531.3,1289.7 1458.4,1284.7 1477.7,1273.4 1454.2,1285.5 1476.1,1326.7 1482.4,1274.2 1500.8,1300.8 1461.5,1309 1486.1,1283 1477.2,1308.9 1469.2,1275.3 1482.2,1339.3 1423.4,1309.3 1466.8,1323.9 1523.3,1306.2 1491.5,1275.3 1463.7,1290.6 1493.9,1290.6 1453.1,1281.8 1474.3,1286.3 1462,1279.6 1483.3,1306.8 1456.2,1289.6 1508.1,1329.1 1499,1312.3 1426.9,1301.6 1502.2,1283.2 1469.7,1290.5 1444.7,1329.4 1428.6,1311.7 1505.9,1313.7 1480.5,1260.6 1526.1,1298.9 1526,1288 1431.2,1303.1 1523,1310.9 1527,1296.1 1483.9,1279.3 1433.7,1320.4 1486.8,1275.6 1469.3,1305.1 1457,1314.9 1430.7,1307.1 1497.9,1277.8 1441,1310.5 1521.4,1296.2 1538.3,1293.2 1475,1320.3 1479,1296.7 1513.2,1306.1 1436.9,1292.7 1472.2,1308.3 1446.1,1293.7 1480.8,1277.5 1510.7,1285.3 1517.4,1287 1467.2,1297.3 1446.6,1287.2 1490.1,1285.2 1509.3,1295.5 1429.9,1287.7 1480.3,1251.2 1448.4,1312 1494.2,1297.9 1535.5,1300.4 1486.2,1296.9 1481.1,1269.5 1490,1312.7 1493.1,1345.4 1507.5,1288.8 1480.3,1266.5 1465.7,1308.8 1423.5,1296.3 1476.3,1276.4 1492.5,1302.4 1534.3,1315.1 1520.7,1289.3 1534.6,1289.4 1520.6,1316.3 1520,1300.1 1523.3,1337.2 1503.6,1290.3 1462.8,1316.1 1510.1,1291.6 1538.1,1303.9 1421.4,1288.6 1429,1294.6 1432.5,1297.2 1491,1279.2 1464.2,1275.9 1440.8,1295.5 1449.3,1294.8 1424.1,1292.9 1484.3,1314.6 1535.3,1307.1 1477.3,1293.1 1476.2,1300.3 1445.5,1308.7 1504.2,1298.8 1434,1313.6 1527.3,1302.6 1508.3,1318.2 1471.6,1299.1 1450,1288.2 1519.9,1322.5 1490.8,1295.4 1481.6,1291.6 1432.4,1291.5 1523.7,1292.2 1496.7,1282.2 1481.3,1310.5 1518.8,1292.2 1469.7,1280.3 1480,1304.6 1442.4,1300.6 1485.4,1303.2 1493.6,1279.4 1480.4,1268.5"/>
<polyline class="p" marker-start="url(#mf)" marker-mid="url(#mf)" marker-end="url(#mf)" points="1622.6,1260.4 1628.8,1292.1 1627.9,1273.1 1624.2,1257.6 1621.4,1274.6 1624.9,1263.4 1647.9,1320.3 1636.9,1280.6 1617.8,1276.1 1624.4,1286.6 1622.7,1309.9 1626.8,1302.5 1623.7,1269.6 1611.1,1309.2 1624.3,1259 1626.9,1289.3 1613.7,1278.9 1670,1319.6 1584.7,1327.3 1625.9,1271 1651.5,1337.7 1624.5,1279 1630.2,1286.9 1625.6,1265.4 1577.2,1380.4 1632.7,1277.9 1618.8,1303.2 1611.8,1282.9 1657.5,1314.4 1627.5,1285 1665,1313.3 1622.2,1299.4 1621.9,1268 1596.4,1330.7 1580.2,1336.4 1596.8,1339.9 1629.7,1306.9 1636.9,1316.6 1590.8,1325.3 1588.8,1308.4 1623.3,1272.6 1622.8,1342.4 1626.4,1323.4 1621.7,1315.9 1626.5,1268.4 1573.8,1325 1611.8,1325.9 1652.6,1332.2 1631.6,1318.8 1587.9,1318.4 1579.3,1315.6 1633.2,1296.6 1614.2,1293.3 1624.2,1247.2 1638.4,1300.5 1622.1,1290.2 1611.4,1298.2 1622.7,1263.8 1618.5,1292 1621.8,1294.4 1643.6,1299.1 1607.4,1347.5 1624.2,1253.4 1612.4,1343.1 1610.4,1316.7 1624.5,1291.2 1640.2,1322.3 1590.9,1331.2 1663.4,1332.4 1631,1284.4 1632.5,1290.3 1606.2,1333.4 1624,1266.1 1621.2,1270.2 1639,1310.2 1626.5,1261.2 1630.3,1311.9 1667.7,1305.9 1628.3,1297.5 1640.8,1294.4 1594.9,1317.4 1599.9,1296.9 1599.6,1312.5 1605.6,1328.2 1619.7,1285.5 1668.9,1335.3 1661.4,1322 1618,1280.8 1648.5,1300.5 1630.4,1338 1645.2,1304.1 1624.2,1243.3 1594.6,1307.2 1676.6,1323 1635.9,1327.7 1582.7,1344.9 1616.6,1315 1598.1,1301.9 1626,1274.9 1652.7,1312.2 1579.7,1310.5 1580.6,1306.2 1653,1305.9 1608.8,1304.5 1618.6,1288.7 1624.8,1259.7 1628.5,1277"/>
<polyline class="p" marker-start="url(#mf)" marker-mid="url(#mf)" marker-end="url(#mf)" points="1768.7,1255.5 1795.3,1227.1 1780.8,1234 1776.7,1243.6 1785.4,1301.9 1810.9,1246.8 1791.8,1215.4 1813.1,1278.5 1789.6,1217.7 1785,1247.8 1788.8,1266.1 1759.5,1272.8 1829.2,1261.4 1809.1,1243.4 1798.9,1233.5 1814.8,1295.8 1743.3,1266.3 1787.7,1256.7 1738.1,1269.5 1804.6,1254.1 1750.1,1276.7 1746.3,1268.4 1790.5,1261.6 1744.1,1264 1772,1248.3 1814.3,1257.8 1788.9,1236.5 1777.7,1255.5 1791,1334.6 1794.2,1234.2 1782.7,1242 1791.2,1323.2 1791.5,1212.4 1762,1255.4 1784.8,1252.4 1744.6,1278.3 1814.1,1253.1 1820,1261 1787.4,1306.8 1796.8,1288.4 1792.5,1218.4 1781.1,1240.9 1820,1255.3 1795.7,1275.4 1782.6,1310.1 1802.5,1246 1803.9,1239.8 1780.7,1254.5 1807.5,1303.5 1771.6,1250.6 1780.9,1275.8 1787,1297.9 1740.7,1265.6 1761.2,1279.9 1799.5,1242.8 1771.1,1261.8 1817.6,1277.1 1794.8,1286.4 1784.3,1249.9 1779.3,1282.1 1814.9,1251.9 1807.8,1254.2 1775.3,1249.9 1758.3,1288.3 1790.1,1233.7 1831.4,1263 1800.5,1236.4 1791.5,1279.3 1763.2,1256.9 1800.2,1258.9 1787.5,1237 1754.2,1278.3 1774.8,1315 1800.4,1248.9 1831.9,1273.9 1783.3,1235.9 1800.1,1239.4 1791.2,1213 1786.1,1262.5 1775.5,1277.2 1803.6,1280.7 1804,1300.7 1798.3,1231.4 1786.2,1238.7 1741.9,1269.7 1747,1287.3 1801.5,1234.8 1775.8,1288.5 1829.2,1264.6 1791.6,1325.5 1823.4,1260 1803,1283.2 1803.2,1238.5 1781.1,1299.4 1805.4,1247.1 1777.1,1264.3 1768.8,1261.5 1793.5,1219.8 1783,1234.3 1784.4,1241.5 1778.3,1258 1829.8,1287 1757,1270.4 1789.2,1218.7 1794.9,1255.8 1790.4,1235.6 1791.6,1220.4 1788.8,1230.4 1783,1264.5 1782,1279.9 1797.2,1249 1810.3,1308.3 1763.6,1266.9 1786.6,1274.6 1798.2,1276.3 1824.5,1263.1 1736.9,1274.8 1763.7,1291.2 1777.3,1249.5 1759.6,1259.6 1815,1248.5 1815.4,1304.1 1790.8,1257.7 1790.3,1214.9 1827.6,1291.4 1793.9,1247.7 1747.4,1292.4 1773,1260.1 1782.7,1248.9 1745.1,1275.3 1795.3,1235.5 1809.6,1264.2 1802,1236.7 1789.3,1221.7 1791.8,1263.7 1811.3,1284.4 1806.3,1245 1788.1,1294 1830.1,1257 1847.7,1290.9 1789.5,1269.5 1816.7,1257 1840.2,1265.2 1808.5,1247.7 1790.9,1206.7 1755.8,1259.1 1784,1228.7 1789.6,1226.6 1774.5,1255 1799,1265.7 1776.9,1254 1799.3,1235.4 1777.4,1260.2 1817.8,1251.6 1812.3,1269.9 1787.6,1228 1784.8,1285 1824.4,1257.8 1820.6,1277.7 1822.2,1256.8 1794.1,1240.3 1815.1,1301 1785.6,1229.4 1822.3,1282.4 1786.5,1250.5 1762.3,1277.2 1790.1,1216 1786.4,1243.9 1779.9,1241.7 1787.2,1230.9 1809.7,1281.5 1780.6,1260 1791.1,1222.2 1808.8,1273.3 1781.2,1256.6 1775.3,1271.5 1834.6,1275.6 1816.7,1244.6 1800.4,1230.5 1807.1,1259.1 1773.5,1244.3 1802.3,1277.1 1733.7,1289.9 1775.5,1265.9 1822.2,1262.2 1754,1269 1779.3,1265.5 1784,1230.3 1761.6,1258.3 1739.7,1267.8 1793.9,1254.1 1815.4,1243.1 1754.2,1263 1778,1236.6 1838.5,1272 1783.5,1257.9 1793.2,1228.5 1836.6,1260 1761.3,1294.8 1769.9,1304 1807.1,1270 1809.4,1297.9 1781.7,1252.5 1801.7,1262.9 1791.8,1225.6 1786.5,1259.2 1811.2,1244.3 1778.4,1240.2 1762.1,1253.5 1762.3,1249.7 1823,1265.2 1792.6,1289.8 1793.1,1217.9 1769.4,1289.3 1781,1242.6 1796,1231.8 1754.9,1296.9 1795.8,1252.6 1756,1280.1 1776.4,1251.2 1749,1269.9 1833.1,1265.4 1762,1274.3 1773.1,1256.3 1736.1,1279.4 1818.2,1247.1 1794.8,1280.9 1770.7,1256.9 1789.5,1277.9 1806.5,1286.6 1762.3,1250.9 1747.5,1264.5 1776.5,1239.5 1777.1,1275 1798.5,1307.3 1736.3,1283 1767.5,1272.8 1804.1,1268.9 1750.8,1274.2 1829.1,1273.2 1789.5,1248 1767.3,1246.8 1827.3,1276.1 1797.8,1244.4 1789.4,1225.1 1805,1238.2 1791.5,1226.9 1783.2,1238.8 1787.2,1229.3 1752.3,1282.3 1777.9,1239 1795.9,1228.3 1801.6,1312.1 1763.8,1254.8 1769.9,1286 1801.9,1232.9 1773.7,1247.1 1784,1260.2 1752.8,1290.3 1771.8,1271.4 1760,1265.5 1803,1235.8 1799.4,1270.5 1808.2,1313.2 1790.3,1286.8 1766.1,1250.2 1760.6,1262.9 1832.4,1267.5 1753.2,1260.7 1810.2,1257.1 1776,1255.9 1752.3,1264.7 1814.7,1286.9 1794.2,1231.9 1788.7,1234.5 1791.1,1215.6 1740.5,1283.1 1796.2,1246.6 1785.9,1253.8 1789.9,1222.3 1845.8,1277.4 1748.6,1266.1 1838.3,1277.5 1815.7,1266.6 1802.8,1289.8 1746.2,1282.9 1788.4,1222.7 1800.2,1303.3 1837.2,1262.6 1790.9,1232.4 1787.1,1245.6 1780,1291.2 1793.3,1237.7 1764.1,1245.9 1806.4,1241.1 1789.4,1239.2 1789.9,1231 1848.7,1269.6 1765.2,1278.8 1816.6,1253.1 1829.9,1268.3 1757.2,1261.4 1737,1264.5 1812,1275.9 1797.6,1251.5 1831.7,1261 1792.6,1297.5 1806.1,1265.7 1785,1239.2 1848,1286.5 1808.7,1249.3 1763.9,1252.6 1792.5,1276 1846.5,1282.6 1835.6,1269.6 1794.7,1262.8 1816.9,1264.7 1789.2,1228.3 1803.8,1236.6 1802.2,1250.8 1812.4,1273.4 1807.4,1294.5 1787.7,1239 1751.5,1260.3 1768.3,1280.4 1842,1263.2 1783.4,1239.9 1807,1261.6 1799.2,1294 1827.9,1259.2 1844.3,1289.6 1733.8,1273.3 1820.6,1258.8 1781.2,1239.4 1797.2,1260.7 1795,1277.7 1818.1,1284.7 1818.7,1298.5 1788.9,1231.7 1806.9,1282.6 1826.7,1262.7 1843.6,1285.8 1765.5,1265.5 1783.7,1320.3 1826.7,1269.6 1842.3,1266.7 1789.2,1246.6 1815.7,1246.7 1792.9,1250 1769.7,1246.6 1812.3,1251.4 1774.9,1240.5 1801.3,1243.9 1801.6,1242 1781.4,1284.3 1797.1,1227.4 1786,1240.2 1792.7,1301.5 1799.5,1240.8 1827,1257.1 1810.1,1288.2 1762.9,1243.9 1792.3,1271 1784.5,1245.7 1794.3,1267.9 1794.4,1229.6 1795.6,1238 1782.8,1247 1791.4,1222.8 1773.8,1285.2 1778.8,1246 1804.2,1256.1 1791.2,1212.1 1741.9,1276 1809.4,1268.7 1787.8,1227 1765.5,1248.1 1795.7,1241.3 1802.5,1271.5 1800.1,1234.1 1803.6,1320.2 1771.8,1266.5 1827,1279.9 1798.4,1228.3 1790.5,1245 1765.2,1287.3 1797.1,1254.4 1789,1258.4 1782.3,1250.7 1789.2,1223.2 1841.9,1278.9 1747.4,1277.4 1785.8,1236.2 1790.5,1227.3 1768.4,1295.6 1817.2,1250.2 1770.9,1244.4 1780.3,1287.1 1788.7,1226.2 1781.3,1295.7 1795.6,1250.8 1774.1,1292.9 1776.6,1237.7 1775.5,1301.4 1799,1282 1797.9,1258.4 1816.1,1272.3 1817.7,1289.4 1768,1253.5 1800.9,1238.4 1821.2,1266.1 1784.5,1276.7 1790,1219.7 1746.1,1262 1768.2,1263.8 1767.7,1250.9 1791.4,1329.6 1796.4,1239.4 1790.5,1220.9 1797.5,1273.1 1756.2,1265 1748.3,1260.1 1788.2,1240.6 1790.2,1237.5 1790.7,1223.6 1809.3,1252 1793.7,1224.9 1734.6,1286.8 1807.8,1256.8 1772.9,1297.9 1788.2,1232.9 1792.9,1243.4 1786.1,1227.4 1806.6,1275.1 1845.6,1272.6 1803.4,1261.7 1783,1244 1791.8,1223.8 1767.6,1249.1 1753.9,1273 1848.7,1266.7 1844.6,1264.5 1750.9,1279.2 1765.9,1252.2 1791,1218.6 1800.8,1273.5 1789.9,1224.2 1770.1,1269 1783.3,1232.9 1819.7,1263.9 1791.7,1229.7 1756.8,1267.3 1796.7,1231 1791.9,1236.8 1765.6,1258 1794.8,1293.5 1799,1237.1 1816,1255 1813,1247.6 1776.1,1241.9 1801.7,1239.9 1815.3,1260.4 1818,1280.4 1792.9,1220.9 1781.9,1262.5 1792,1241.2 1798.6,1239.1 1778.6,1279.2 1785.6,1271.3 1792.4,1222.3 1763.4,1263.9 1779.2,1262.4 1784.6,1233.2 1778.6,1271.8 1772,1255.1 1803.3,1234 1764.4,1302.4 1800.1,1261.3 1800.5,1232.4 1793.5,1221.8 1742.9,1273.2 1770.9,1259.9 1806,1239.5 1810.8,1258.7 1756.1,1274.9 1820.8,1295.3 1791.7,1254 1790.4,1229.3 1785.7,1257.2 1735.1,1276.7 1751.9,1271.3 1849.1,1272.4 1792.5,1214.9 1783.2,1273.9 1825.5,1260.3 1809.4,1245.7 1781.5,1230.7 1792.9,1258.3 1794.4,1225.5 1802.2,1254.8 1804.2,1245.1 1797.4,1256.5 1791,1200.7 1799,1254.7 1793.2,1260.6 1792.1,1309.7 1834.1,1261.3 1791.4,1234.2 1822.7,1287.7 1768,1258.4 1806.3,1252.7 1791.4,1248.2 1778.6,1268.5 1790.8,1226.2 1791.1,1240.1 1770.9,1264.5 1816.4,1269 1788.4,1271.9 1832.6,1257.9 1790.7,1224.9 1737.2,1272.1 1783.5,1254.8 1795,1230.9 1738.6,1277.9 1769.7,1252.3 1757.5,1257.6 1790.5,1217.9 1791.7,1228.4 1791.9,1214.2 1800.3,1247.1 1782,1266.8 1774.2,1253.1 1761.3,1286.5 1778.6,1235.3 1791,1212.3 1791,1205.2 1814,1255.4 1835.1,1263.1 1788.7,1220.7 1810.8,1250.6 1826.7,1296.3 1754.6,1285.3 1793.2,1230.5 1774.4,1242.4 1787.6,1247.2 1793.1,1222.7 1766.7,1267.3 1788.6,1242.5 1747.9,1280.8 1823.5,1279.5 1791.2,1347.9 1797.4,1234.6 1791,1210.9 1830.8,1277 1770.4,1254.1 1800.4,1285.8 1779.5,1252 1803.9,1249.4 1768.5,1299.8 1781.4,1270.2 1804.7,1272.9 1808.1,1242.1 1836.2,1265.5 1811.6,1248.9 1779.1,1243.7 1763.8,1272.5 1806.8,1250.6 1834,1284.7 1774.4,1309.4 1774.8,1258.3 1790.5,1241 1799.4,1256.6 1784.7,1234.7 1783.2,1315.3 1796.7,1236.3 1802.2,1259.9 1819.1,1245.2 1791.8,1238.8 1835.4,1272.8 1764,1250.5 1774.3,1263.5 1804.7,1263.3 1759.4,1282.6 1806.7,1278.6 1739.7,1287.3 1792,1216 1794.4,1226.4 1843.6,1275.4 1742.6,1290.5 1757.5,1277.5 1771.9,1246 1766.4,1255.9 1797.7,1241.8 1797.3,1279.8 1793.5,1225.5 1802.3,1248 1781.5,1232.2 1788,1260.9 1762.5,1247.8 1782.8,1231 1784.7,1268.3 1832.2,1270.1 1779.3,1256.2 1786.8,1279.1 1751.7,1267.2 1789.7,1255.5 1801.3,1268.3 1771,1282.3 1787.7,1250.4 1773.8,1274.3 1774.8,1280.9 1745.1,1271.8 1799.2,1229.4 1837.5,1268.1 1772.5,1242.4 1784.6,1236.9 1780.9,1273.4 1818.7,1243.5 1803.5,1241.3 1794.4,1236.4 1818.3,1255.7 1792.4,1231.2 1824.1,1275 1791.1,1250.9 1783.4,1290.8 1759.8,1256.2 1795.8,1270.8 1792.8,1233.8 1790.9,1210.2 1779.7,1237.8 1779.1,1248.6 1792.7,1226.4 1779,1305.5 1799.6,1245.4 1799.7,1231.3 1803.1,1252.5 1812.2,1260.5 1740.2,1273.1 1832.1,1291.5 1774.1,1250.7 1777.3,1296.4 1794.2,1223.2 1798.8,1250.4 1768.6,1244.6 1734.5,1265.1 1802.5,1256.6 1815.6,1250.3 1844.2,1282.1 1777.1,1247.6 1803,1295.9 1778,1242.1 1779.8,1234.9 1819.1,1257.6 1780.9,1248.3 1793.4,1245.7 1787.8,1225.5 1766.3,1260.2 1791.3,1208.8 1780,1250.4 1830.5,1259 1794.2,1242.3 1788.4,1224.4 1770.2,1242.7 1848.4,1275.3 1767.8,1277.9 1825.5,1265.8 1781.5,1237.2 1791.1,1206.8 1806.3,1255.4 1764.2,1298.5 1791.4,1273.1 1750.2,1285.4 1819.5,1249 1810,1261.4 1839.1,1292.5 1763.6,1261.5 1811.6,1255.5 1837.6,1287.6 1797.1,1229.4 1773.6,1269.1 1779.8,1232.6 1790.8,1209.1 1773.1,1249.6 1740.2,1263.4 1775.4,1247.8 1792,1267.9 1796.1,1243 1774.7,1261 1833.3,1279.2 1776.8,1284.4 1791.5,1203.1 1803.8,1305.8 1809.5,1255.3 1766,1270 1792.4,1256.5 1794.7,1244.4 1790,1218.4 1812.5,1242.6 1797.2,1298.5 1786.9,1242.1 1803.5,1243.5 1817.9,1259.3 1840,1283.7 1814.9,1275.8 1765.3,1243.3 1824.7,1272.2 1775.7,1245.7 1804.6,1257.9 1792.4,1224.7 1798,1246.9 1807.2,1290.6 1786,1265.6 1817.5,1262 1800.3,1253.2 1820,1268.5 1821.8,1271.5 1795.2,1258.6 1826.5,1284.8 1796,1233.6 1805.7,1249 1781,1245.7 1785.4,1280.3 1829.9,1282.2 1750.2,1261.5 1765.9,1244.9 1785.2,1231.2 1845.6,1268.6 1791.6,1218.4 1813.9,1262.6 1797.5,1240.1 1786.5,1255.6 1812.3,1291.2 1764.8,1275.6 1802.2,1265.4 1788.5,1263.5 1836.7,1281.8 1840.5,1275.1 1748.2,1272.8 1780.3,1236.2 1784.4,1242.9 1787,1234.2 1818.9,1271.3 1795.1,1249 1819.1,1274 1762.8,1269.6 1812.9,1253.8 1793.2,1227.3 1752.6,1258.1 1810.7,1266.1 1776.3,1268.7 1813.2,1249.9 1791.8,1246.8 1765.6,1283.5 1811.4,1301.2 1843,1271.4 1772.5,1252.1 1771.2,1278.2 1770.2,1249.8 1757.2,1293.5 1788.6,1251.6 1794.2,1239 1804.7,1250.7 1805.6,1242.8 1793,1252.2 1789.8,1253.4 1792.3,1219.4 1795.6,1311.6 1795.4,1264.9 1791.6,1283.1 1781.8,1235.8 1848.6,1279.9 1738.2,1291.9 1819.4,1253.2 1846.1,1265.8 1778.9,1253.9 1849,1264.4 1791.3,1214.7 1786.7,1252.1 1789.5,1249.9 1742.2,1279.5 1791.9,1265.8 1813,1245.4 1812.2,1264.3 1736.7,1267 1759.3,1268.6 1817.8,1293.4 1840.9,1269.5 1765.4,1254.5 1770.8,1274.9 1787.2,1235.6 1794.6,1317 1823.6,1268.9 1810.2,1253.5 1798.3,1263.1 1819.9,1251.3 1790.3,1242.9 1734.2,1269.2 1742.8,1286.6 1788,1253.8 1733.2,1280.3"/>
<polyline class="p" marker-start="url(#mf)" marker-mid="url(#mf)" marker-end="url(#mf)" points="1895.9,1325.4 1980.2,1309.2 1979.7,1285.5 1952.1,1291.7 1889.1,1308.1 1987,1303.3 1941.1,1262.9 1932.7,1261.6 1931.8,1291.7 1879.3,1282.8 1948.9,1290.7 1924.2,1285.5 1913.8,1306.4 1940.2,1313.8 1948.9,1276 1917.6,1290.7 1937.6,1299 1936.9,1265.5 1942.6,1304 1910.9,1314.8 1943.5,1319.4 1891.3,1321 1883.6,1285.1 1885.7,1318 1909.9,1277.1 1932.4,1267.3 1882.6,1296.6 1972.7,1285.9 1927.8,1273.1 1953.2,1335.7 1877.4,1304.2 1899.4,1297.6 1924.8,1321.4 1906,1272.5 1931.3,1264.2 1954.6,1285 1991.1,1320.5 1951.1,1269.6 1989.9,1325.4 1880.2,1293.4 1959.4,1300.7 1990,1279.9 1943.7,1289.9 1937.5,1257 1935,1275.4 1938.5,1257.9 1963.7,1299.6 1983.6,1293.7 1992.8,1302.5 1984.3,1305.9 1926.7,1280.5 1935.4,1270.1 1969.8,1297.1 1965,1274.5 1978,1294.6 1980.6,1290.8 1935.6,1292.8 1928.4,1323.9 1935.2,1238.3 1935.9,1267.2 1922.2,1272.7 1921.3,1298.6 1938.9,1282.7 1938.5,1275.2 1964.2,1269 1939.6,1271.4 1918.7,1280.7 1932.3,1265.5 1932,1249.6 1932.4,1309.4 1965.8,1317.7 1924.1,1294.6 1930.1,1252.1 1959.7,1286.4 1923.4,1308.3 1887.7,1303.6 1926.9,1289.2 1928.6,1334.5 1935,1251.1 1899.6,1287.8 1905.4,1314 1932.7,1286 1909.9,1287.9 1977.8,1317.5 1935.4,1315.7 1974.4,1289.1 1939.5,1285.2 1900.4,1301.3 1982.1,1334.1 1934.3,1268 1952.2,1317.1 1884.3,1299.8 1908,1285.9 1941.2,1323.7 1887.2,1327.3 1912.9,1297.1 1889.8,1282 1943.7,1277.6 1962.8,1321.4 1948.1,1283.7 1926.7,1276.7 1974.7,1295.1 1970.7,1325.7 1916,1314.8 1926.2,1344.9 1929.8,1277.5 1881.1,1306.7 1900.1,1281.6 1916.6,1269.3 1992.9,1282.2 1989,1293.7 1898.6,1303.9 1916.2,1274.3 1986.4,1286 1886.5,1313 1901,1324.3 1947.8,1293.7 1924.1,1275.3 1981.5,1287.5 1898.2,1284.7 1980.1,1340.1 1943.6,1295.5 1965.3,1281.3 1962.4,1288 1951,1282.6 1946.5,1296.4 1936,1273.4 1939.4,1340.8 1938.6,1302.3 1960.9,1282.4 1893.6,1294.9 1924.3,1269.8 1954.2,1307.7 1875.4,1280.7 1930.6,1267.7 1924.9,1314.8 1956.9,1313.4 1972,1319.2 1931.5,1274.4 1942.4,1269.3 1877.7,1337 1879,1310.5 1957.9,1275.9 1933.9,1295.9 1880.9,1286.9 1902.5,1286.3 1979.6,1300.3 1976.4,1326.7 1913.2,1311.1 1968.5,1308.7 1933.5,1246.7 1929.2,1261 1894.1,1284.2 1986.5,1282.3 1914.1,1271 1876.9,1284.6 1972.5,1281.5 1934.9,1266.9 1965.8,1295.8 1940.5,1255.7 1923.3,1282.7 1935.5,1263.8 1938,1263.9 1912.1,1274.3 1981.4,1322.8 1989.7,1284.4 1930.2,1289 1932.1,1269 1938.1,1266.3 1916.4,1284.3 1952.2,1312.2 1975.8,1291.9 1943.2,1286.8 1939.7,1296 1887.9,1332.2 1930.7,1260.4 1942.4,1335.9 1962.7,1292.2 1927.2,1293 1940.1,1279.9 1885.4,1288.7 1933.2,1319.8 1937,1259.5 1902.7,1279.7 1957.2,1297.7 1971.9,1290.9 1890,1299.9 1903.8,1274.2 1947.1,1269.6 1913.2,1319.4 1969.2,1289.9 1898.6,1330.1 1963.6,1277.5 1935.4,1257.7 1929.9,1317.6 1943.3,1272.6 1887.7,1285.6 1902.9,1303.2 1954.9,1319.6 1944.8,1307.7 1961.1,1275.5 1931.9,1280.6 1980.2,1305 1882.4,1280.8 1948.6,1309.9 1892.8,1289.5 1977,1286.2 1934.2,1265.1 1930.1,1262.8 1969.7,1278.3 1900.6,1315 1920.1,1305.9 1936.3,1264.9 1917.9,1271.7 1928,1310.5 1920,1331.4 1891.7,1286.5 1914.3,1299.8 1931.3,1266.6 1957.3,1342.7 1893.5,1279.8 1936.3,1244.7 1946.1,1285.7 1953.5,1304.2 1891.6,1305 1976.1,1279 1887.9,1296.8 1949.5,1325.4 1934.7,1254.7 1875.4,1300.9 1897,1309.4 1937.4,1306.8 1915,1287.5 1973.1,1302.2 1891.1,1311 1904.5,1282.9 1913,1331.5 1944.2,1300 1896.1,1290.8 1923.7,1290.1 1910.5,1305.6 1962.8,1302.7 1933.3,1259.7 1967.6,1322.6 1916.1,1277.6 1950.2,1286.6 1936.1,1311.4 1929,1302.3 1947.4,1321 1939.5,1260.6 1942.8,1275.2 1904.8,1292.7 1983.3,1279.9 1994.1,1316.8 1919.2,1292.9 1937.4,1287.5 1937.3,1261.7 1943.3,1282.3 1930.4,1294.7 1920.3,1302.3 1896.2,1281.8 1881.1,1303.1 1988.5,1298.3 1937.6,1268 1975.1,1305.6 1993.4,1306.5 1965.1,1285.1 1935.3,1265.5 1907.4,1278.4 1969.9,1284.1 1924.8,1300.8 1882,1331.4 1908,1308.3 1959,1279.4 1949.2,1272.7 1992.4,1312.7 1969.5,1305.3 1934.5,1305.2 1985.9,1290.3 1904,1310.2 1973.2,1314.9 1916.7,1302.8 1969.8,1287.1 1908.8,1273 1945.9,1273.2 1920.9,1324.8 1894.1,1338.4 1936.4,1324.5 1932.8,1254.3 1975.8,1282.9 1883,1312.7 1984.8,1327.8 1875.8,1287 1966.7,1277.2 1984.4,1310 1901,1307.5 1914.3,1291.2 1944.3,1311.4 1941.4,1260.8 1935,1230.5 1952,1274 1960.8,1269.8 1896,1287.3 1947.7,1279.9 1922.2,1287.4 1895,1305.8 1912.8,1284.5 1946.3,1315.6 1984.1,1313.6 1901.2,1291.7 1992.3,1295.7 1933.4,1266.7 1930.4,1270.8 1913.8,1276.5 1875.6,1328.7 1940.8,1276.7 1885.3,1308.2 1903.6,1295.1 1957.3,1303.2 1912.4,1278.4 1945.9,1330.1 1976.2,1321.5 1992.7,1286 1908,1301.6 1988.5,1289 1885.8,1322.6 1993.1,1292.4 1985.8,1322.6 1938.9,1267.1 1938.9,1250.6 1907.5,1275.5 1952.9,1276.9 1932.2,1257.1 1984.7,1298.1 1919.7,1284.6 1883.7,1291.2 1967.2,1300.4 1982.5,1319 1966.1,1292.1 1902.7,1319.5 1966,1287.1 1953.9,1288.4 1876,1320.9 1960.8,1338.1 1935.4,1278.5 1889.6,1291.2 1927.5,1262.6 1935.1,1302 1923,1278.2 1910.4,1270.9 1905.4,1332.7 1973.3,1307.8 1989.9,1291.4 1889.1,1287.9 1916.3,1322.3 1950.3,1298 1952.5,1295.8 1958.4,1289.8 1961.7,1326.4 1964.8,1306.6 1917.7,1309.4 1962.7,1272.5 1908.4,1318.4 1911.6,1293.2 1935,1261.5 1897.7,1294.5 1929.5,1283.9 1937.4,1290.3 1890,1293.8 1952.5,1328.9 1957.8,1308.7 1925.8,1297.4 1906.1,1322.3 1904.8,1306.7 1948.3,1301 1938.4,1319.8 1946.8,1277.1 1910.4,1298.7 1988.5,1315.6 1920.6,1316.9 1880.9,1320.1 1974.7,1298.4 1951.5,1279.5 1949.4,1315.3 1920.7,1312.7 1924.5,1304.3 1940.3,1310.8 1896.4,1301.7 1907.7,1296.3 1909,1291.5 1979.6,1281.6 1907.3,1269 1918,1296.4 1953.2,1323.2 1990.9,1333 1937.3,1266.9 1941.7,1292.4 1914.7,1281.5 1970.7,1294.4 1904,1299.4 1982.8,1283.7 1910,1336.7 1908.9,1281.7 1960.5,1332.1 1929.4,1255.6 1958.4,1272.8 1960.6,1317.5 1914,1326.7 1876,1313.1 1880.8,1315.2 1981.3,1296.4 1894.9,1313 1955.8,1292.7 1960.8,1297.4 1953.4,1299.9 1975.8,1312 1955.4,1278.6 1936.4,1248.3 1903.3,1289.5 1919.6,1274.8 1957.2,1282.3 1906.5,1289.1 1879.2,1299.4 1929,1286.7 1959.4,1294.3 1930.3,1298.2 1967.9,1313.2 1980.4,1313.3 1946.8,1288.7 1898.6,1277.6 1930.8,1306.4 1925.7,1328.1 1961.5,1312.4 1890,1316.8 1989.9,1308.4 1932.7,1327.3 1993.2,1299.4 1937.4,1333.9 1955.2,1272.3 1993.8,1289.3 1876.2,1292 1901.9,1276.5 1938.1,1328.6 1933.7,1288.6 1876.7,1296.2 1960.4,1305.9 1948.8,1305.7 1938.3,1254.3 1886.1,1294.6 1983.4,1302.1 1929.2,1257.9 1935,1282.6 1893.2,1299.7 1894.9,1317.3 1879.6,1290 1931.3,1242.5 1949.5,1340.7"/>
<polyline class="p" marker-start="url(#mf)" marker-mid="url(#mf)" marker-end="url(#mf)" points="2052.7,1330.7 2076.5,1289.4 2084.3,1319.9 2118.8,1320.5 2027,1334.9 2061.5,1315.7 2078.3,1241 2076.3,1249.4 2071.5,1337.9 2100.9,1334.4 2102.5,1312.4 2067.1,1334.8 2101.9,1348 2096.4,1331 2107.2,1327.9 2054.8,1314.2 2062.9,1320.6 2030.9,1319.1 2075.9,1310.1 2105.8,1309.6 2075.1,1319 2096.8,1311.7 2094.5,1307.3 2137.6,1321.4 2105.4,1318 2091,1313.3 2095.3,1298.3 2107.3,1344 2062.2,1325.9 2128.3,1326 2080.3,1243.4 2077.3,1282.8 2058.2,1348.1 2075.3,1245.8 2132.7,1317.5 2126.4,1339.4 2047.9,1315.2 2057.9,1320 2067.9,1346.5 2131.8,1322.5 2126.3,1313.9 2065.7,1311.5 2056.7,1305.6 2122.6,1325 2082.9,1307.5 2063.7,1350 2111.8,1331.7 2090.7,1326.9 2041.9,1334.4 2090,1345.8 2079.6,1316.8 2078.3,1244.6 2077.6,1335.5 2050.2,1311 2042.6,1316 2046.8,1336 2123.7,1318.4 2076.5,1302.1 2087.8,1295.4 2109.1,1313.6 2113.4,1311 2060.6,1337 2070.8,1306.8 2087.1,1332 2036.9,1337.5 2021.6,1332.5 2082.2,1303.2 2062.7,1300.1 2081.6,1292.5 2094.8,1349.5 2055.8,1340.6 2047.1,1329.8 2108.5,1338.6 2083.6,1313.1 2026,1322.8 2078.3,1251.8 2065.3,1341.9 2021.4,1316.1 2020.7,1322.5 2061.8,1309.1 2078.3,1231.4 2120.8,1341.8 2085,1344 2052.9,1336 2089.1,1308.5 2091.9,1320.5 2072,1315 2078.3,1254.5 2064,1304.1 2026.7,1315.2 2131.9,1368.9 2115.1,1316.5 2026.3,1339.9 2076.3,1242.2 2047.6,1324.9 2101.3,1328.3 2087.2,1300.3 2040,1322.4 2055.7,1326 2019.3,1327.3 2086.1,1305.3 2113.9,1339.1 2091.8,1302.7 2050.3,1320.7 2076.7,1324.8 2075.9,1305.8 2067.4,1317.4 2109.3,1321.4 2127.6,1331.7 2120.5,1312.3 2037.6,1330.9 2078.3,1253 2045.7,1308.5 2081.3,1247 2036.8,1316.9 2100.7,1321.8 2121.5,1332.4 2083.2,1324.7 2078.6,1262 2041.6,1328 2116.8,1329.4 2050.2,1341.2 2068.4,1322.5 2078.3,1248.2 2069.1,1328.6 2044.7,1345.2 2032.7,1343.6 2096.1,1317.1 2031.6,1329.1 2100.9,1307.9 2080.3,1250.6 2098.6,1340.1 2069.4,1302.4 2078.3,1231.8 2068.1,1296.7"/>
<path class="ax" d="M1238.6 1126H1255.2V1431.6M1238.6 1380.7H1255.2M1238.6 1329.7H1255.2M1238.6 1278.8H1255.2M1238.6 1227.9H1255.2M1238.6 1176.9H1255.2M1238.6 1431.6H1706.3M1711.2 1125.4V1431.6H2159.6M1336.1 1431.6V1448.1M1479.9 1431.6V1448.1M1623.4 1431.6V1448.1M1790.6 1431.6V1448.1M1934 1431.6V1448.1M2077.4 1431.6V1448.1"/>
<text transform="translate(1234.8 1437.2) scale(1 1.045)" text-anchor="end">1</text>
<text transform="translate(1234.8 1386.3) scale(1 1.045)" text-anchor="end">10</text>
<text transform="translate(1234.8 1335.3) scale(1 1.045)" text-anchor="end">100</text>
<text transform="translate(1234.8 1284.4) scale(1 1.045)" text-anchor="end">1,000</text>
<text transform="translate(1234.8 1233.5) scale(1 1.045)" text-anchor="end">10,000</text>
<text transform="translate(1234.8 1182.5) scale(1 1.045)" text-anchor="end">100,000</text>
<text transform="translate(1234.8 1131.6) scale(1 1.045)" text-anchor="end">1,000,000</text>
<path class="bx" d="M1293.5 1254.4H1380.3V1283.7H1293.5ZM1293.5 1268.6H1380.3M1336.9 1254.4V1238.3M1314.5 1238.3H1359.3M1336.9 1283.7V1336.3M1314.5 1336.3H1359.3M1437.1 1288.3H1523.9V1308.9H1437.1ZM1437.1 1297.4H1523.9M1480.5 1288.3V1274.8M1458.1 1274.8H1502.9M1480.5 1308.9V1345.4M1458.1 1345.4H1502.9M1580.8 1283.7H1667.6V1320.5H1580.8ZM1580.8 1304.1H1667.6M1624.2 1283.7V1266.2M1601.8 1266.2H1646.6M1624.2 1320.5V1380.4M1601.8 1380.4H1646.6M1747.8 1242.6H1834.6V1273.8H1747.8ZM1747.8 1258H1834.6M1791.2 1242.6V1226.3M1768.8 1226.3H1813.6M1791.2 1273.8V1347.9M1768.8 1347.9H1813.6M1891.4 1279.4H1978.2V1309.2H1891.4ZM1891.4 1292.7H1978.2M1934.8 1279.4V1263.1M1912.4 1263.1H1957.2M1934.8 1309.2V1344.9M1912.4 1344.9H1957.2M2034.9 1312H2121.7V1333.2H2034.9ZM2034.9 1321.4H2121.7M2078.3 1312V1298M2055.9 1298H2100.7M2078.3 1333.2V1368.9M2055.9 1368.9H2100.7"/>
<text transform="translate(1336.7 1468.4) scale(1 1.045)" text-anchor="middle"><tspan class="le" dy="-1.9">⩽</tspan><tspan dy="1.9">3 (<tspan font-style="italic">n</tspan> = 373)</tspan></text>
<text transform="translate(1480.3 1468.4) scale(1 1.045)" text-anchor="middle"><tspan class="gt" dy="0.9">&gt;</tspan><tspan dy="-0.9">3 to </tspan><tspan class="le" dy="-1.9">⩽</tspan><tspan dy="1.9">6 (<tspan font-style="italic">n</tspan> = 249)</tspan></text>
<text transform="translate(1624 1468.4) scale(1 1.045)" text-anchor="middle"><tspan class="gt" dy="0.9">&gt;</tspan><tspan dy="-0.9">6 (<tspan font-style="italic">n</tspan> = 107)</tspan></text>
<text transform="translate(1791 1468.4) scale(1 1.045)" text-anchor="middle"><tspan class="le" dy="-1.9">⩽</tspan><tspan dy="1.9">3 (<tspan font-style="italic">n</tspan> = 800)</tspan></text>
<text transform="translate(1934.7 1468.4) scale(1 1.045)" text-anchor="middle"><tspan class="gt" dy="0.9">&gt;</tspan><tspan dy="-0.9">3 to </tspan><tspan class="le" dy="-1.9">⩽</tspan><tspan dy="1.9">6 (<tspan font-style="italic">n</tspan> = 457)</tspan></text>
<text transform="translate(2078.1 1468.4) scale(1 1.045)" text-anchor="middle"><tspan class="gt" dy="0.9">&gt;</tspan><tspan dy="-0.9">6 (<tspan font-style="italic">n</tspan> = 135)</tspan></text>
<text transform="translate(1711.4 1498.7) scale(1 1.045)" text-anchor="middle">Age (months)</text>
</g>
</svg>
</body>
</html>
